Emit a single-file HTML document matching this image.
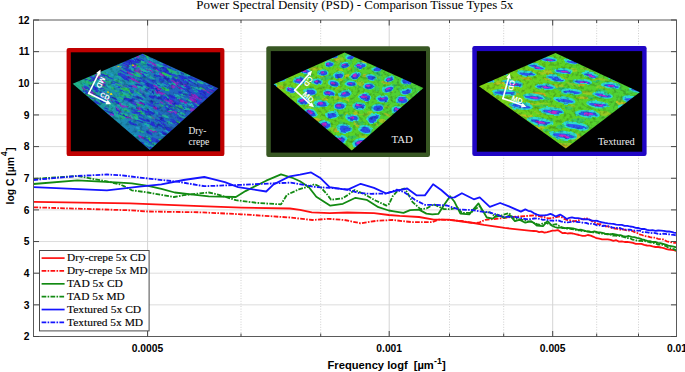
<!DOCTYPE html>
<html><head><meta charset="utf-8"><title>PSD</title>
<style>
html,body{margin:0;padding:0;background:#fff;}
body{width:685px;height:372px;overflow:hidden;}
svg{display:block;}
.sb{font-family:"Liberation Sans",sans-serif;font-weight:bold;fill:#000;}
.sf{font-family:"Liberation Serif",serif;fill:#000;}
</style></head><body>
<svg width="685" height="372" viewBox="0 0 685 372">
<defs>
<filter id="bl" x="-2%" y="-2%" width="104%" height="104%" color-interpolation-filters="sRGB"><feTurbulence type="fractalNoise" baseFrequency="0.11" numOctaves="2" seed="2" result="t"/><feDisplacementMap in="SourceGraphic" in2="t" scale="3.2" xChannelSelector="R" yChannelSelector="G" result="d"/><feGaussianBlur in="d" stdDeviation="0.5" result="b"/><feTurbulence type="fractalNoise" baseFrequency="0.3" numOctaves="2" seed="7" result="n"/><feColorMatrix in="n" type="matrix" values="0.7 0 0 0 0.62  0.7 0 0 0 0.62  0.7 0 0 0 0.62  0 0 0 0 1" result="n2"/><feBlend in="b" in2="n2" mode="multiply"/></filter>
<clipPath id="c1"><polygon points="72.7,83.7 142.8,53.8 218.4,88.3 149.8,150.0"/></clipPath>
<clipPath id="c2"><polygon points="273.6,84.2 344.6,52.4 423.4,88.0 351.8,150.6"/></clipPath>
<clipPath id="c3"><polygon points="479.0,86.2 555.5,53.0 639.8,92.3 565.8,148.6"/></clipPath>
<linearGradient id="g1" x1="0" y1="0" x2="1" y2="0"><stop offset="0" stop-color="#22c07c"/><stop offset="0.4" stop-color="#1c88b8"/><stop offset="1" stop-color="#2440cc"/></linearGradient>
<linearGradient id="g2" x1="0" y1="0" x2="1" y2="0"><stop offset="0" stop-color="#7cd418"/><stop offset="0.5" stop-color="#58d428"/><stop offset="1" stop-color="#48d03c"/></linearGradient>
<linearGradient id="g3" x1="0" y1="0" x2="1" y2="0"><stop offset="0" stop-color="#84d414"/><stop offset="0.5" stop-color="#5cd424"/><stop offset="1" stop-color="#48d03c"/></linearGradient>
</defs>
<rect width="685" height="372" fill="#fff"/>
<line x1="33.5" y1="304.85" x2="676.5" y2="304.85" stroke="#dcdcdc" stroke-width="1"/>
<line x1="33.5" y1="273.20" x2="676.5" y2="273.20" stroke="#dcdcdc" stroke-width="1"/>
<line x1="33.5" y1="241.55" x2="676.5" y2="241.55" stroke="#dcdcdc" stroke-width="1"/>
<line x1="33.5" y1="209.90" x2="676.5" y2="209.90" stroke="#dcdcdc" stroke-width="1"/>
<line x1="33.5" y1="178.25" x2="676.5" y2="178.25" stroke="#dcdcdc" stroke-width="1"/>
<line x1="33.5" y1="146.60" x2="676.5" y2="146.60" stroke="#dcdcdc" stroke-width="1"/>
<line x1="33.5" y1="114.95" x2="676.5" y2="114.95" stroke="#dcdcdc" stroke-width="1"/>
<line x1="33.5" y1="83.30" x2="676.5" y2="83.30" stroke="#dcdcdc" stroke-width="1"/>
<line x1="33.5" y1="51.65" x2="676.5" y2="51.65" stroke="#dcdcdc" stroke-width="1"/>
<line x1="147.60" y1="20.0" x2="147.60" y2="336.5" stroke="#d4d4d4" stroke-width="1"/>
<line x1="389.20" y1="20.0" x2="389.20" y2="336.5" stroke="#d4d4d4" stroke-width="1"/>
<line x1="552.70" y1="20.0" x2="552.70" y2="336.5" stroke="#d4d4d4" stroke-width="1"/>
<line x1="241.00" y1="20.0" x2="241.00" y2="336.5" stroke="#cfcfcf" stroke-width="1" stroke-dasharray="1 1.6"/>
<line x1="320.70" y1="20.0" x2="320.70" y2="336.5" stroke="#cfcfcf" stroke-width="1" stroke-dasharray="1 1.6"/>
<line x1="449.50" y1="20.0" x2="449.50" y2="336.5" stroke="#cfcfcf" stroke-width="1" stroke-dasharray="1 1.6"/>
<line x1="503.70" y1="20.0" x2="503.70" y2="336.5" stroke="#cfcfcf" stroke-width="1" stroke-dasharray="1 1.6"/>
<line x1="596.70" y1="20.0" x2="596.70" y2="336.5" stroke="#cfcfcf" stroke-width="1" stroke-dasharray="1 1.6"/>
<line x1="638.50" y1="20.0" x2="638.50" y2="336.5" stroke="#cfcfcf" stroke-width="1" stroke-dasharray="1 1.6"/>
<g fill="none" stroke-width="1.8" stroke-linejoin="round" stroke-linecap="butt">
<path d="M33.5 201.9 L130.0 203.3 L200.0 206.2 L241.7 207.6 L289.9 208.5 L300.0 209.8 L311.8 212.4 L329.6 213.2 L347.3 212.5 L374.0 213.2 L388.8 215.0 L399.8 215.9 L419.0 217.0 L433.8 219.6 L448.6 219.6 L461.9 221.5 L473.8 223.0 L483.9 224.9 L504.6 227.9 L531.2 230.9 L533.9 231.0 L536.5 231.2 L539.2 232.1 L541.8 231.7 L544.5 232.6 L547.2 232.1 L549.8 231.4 L552.5 230.6 L555.1 230.6 L557.8 230.1 L562.3 233.1 L564.9 232.8 L567.6 233.5 L570.2 233.2 L572.9 233.5 L575.5 234.2 L579.0 235.0 L582.5 235.9 L585.1 235.8 L587.8 235.0 L590.7 235.6 L593.6 236.8 L596.5 238.2 L599.3 238.7 L602.1 239.4 L605.0 239.3 L607.8 239.4 L610.6 239.9 L613.4 240.9 L616.2 240.2 L619.0 241.6 L621.8 241.3 L624.6 242.0 L627.4 241.9 L630.2 242.3 L633.0 242.9 L635.8 243.8 L638.6 243.8 L641.4 243.9 L644.2 244.9 L647.0 245.5 L649.8 245.7 L652.6 246.4 L655.4 247.0 L658.2 247.0 L661.0 247.5 L663.8 248.2 L666.6 249.1 L669.0 249.7 L671.4 249.9 L673.8 250.2 L676.2 250.8" stroke="#ff1010"/>
<path d="M33.5 207.3 L130.0 210.3 L148.0 211.5 L200.0 212.3 L241.7 214.3 L289.9 217.5 L312.4 220.0 L328.5 218.8 L344.5 220.0 L360.6 223.3 L376.6 220.8 L392.7 220.0 L411.6 222.1 L432.3 222.1 L438.3 219.6 L448.6 220.0 L461.9 221.0 L473.8 223.2 L479.7 222.3 L485.4 219.8 L501.6 218.3 L513.5 216.8 L525.3 216.1 L534.2 215.3 L536.7 215.9 L539.1 216.2 L541.6 216.8 L544.1 217.1 L546.5 218.2 L549.0 218.3 L552.0 218.1 L554.9 217.5 L559.3 216.4 L561.8 217.2 L564.2 218.8 L566.7 219.8 L569.6 220.2 L572.6 221.1 L575.5 221.0 L578.1 220.5 L580.8 219.2 L583.4 219.3 L586.0 218.0 L589.5 219.5 L593.0 221.9 L595.5 222.7 L597.9 224.0 L600.4 224.1 L602.8 225.4 L605.3 226.3 L607.8 226.3 L610.2 227.5 L612.7 228.2 L615.1 228.5 L617.6 228.9 L620.4 229.7 L623.2 229.4 L626.0 230.2 L628.8 230.5 L631.6 230.7 L634.2 231.9 L636.9 232.8 L639.5 234.3 L642.1 235.0 L644.7 236.2 L647.4 236.3 L650.0 237.2 L652.6 237.7 L655.2 237.6 L657.9 238.8 L660.5 239.2 L663.1 239.4 L666.6 241.3 L670.1 242.0 L673.2 242.8 L676.2 242.9" stroke="#ff1010" stroke-dasharray="4.7 1.3 1.6 1.3"/>
<path d="M33.5 184.0 L77.3 180.3 L120.0 182.6 L131.8 183.4 L148.1 185.9 L161.4 188.8 L174.7 192.5 L191.0 194.3 L208.8 196.4 L220.0 196.6 L235.9 197.0 L245.5 191.1 L266.2 180.7 L281.0 174.3 L292.8 178.0 L300.0 181.3 L308.9 187.2 L316.3 196.8 L330.3 205.7 L342.9 203.8 L355.5 197.8 L366.6 199.8 L378.4 207.2 L388.8 210.5 L393.9 211.4 L403.5 212.9 L410.1 210.2 L419.0 209.6 L426.4 213.6 L432.3 214.4 L438.3 213.9 L444.2 204.8 L450.1 196.2 L454.5 201.8 L460.4 213.6 L469.3 214.4 L473.8 208.8 L478.5 203.4 L482.4 210.1 L486.8 217.5 L492.8 218.7 L497.2 214.6 L504.6 217.8 L509.8 215.3 L514.9 221.2 L519.4 219.8 L525.3 222.7 L531.2 221.2 L534.2 223.2 L537.1 225.7 L540.0 225.8 L543.0 226.1 L547.5 221.2 L551.9 225.7 L554.8 227.0 L557.8 227.9 L560.2 227.4 L562.6 228.1 L565.0 228.2 L567.6 228.0 L570.2 228.1 L572.9 228.3 L575.5 229.0 L578.1 229.9 L580.8 229.7 L583.4 230.3 L586.0 231.2 L588.8 231.3 L591.6 232.1 L594.4 231.4 L597.2 232.1 L600.0 232.4 L602.5 232.8 L605.0 233.6 L607.5 233.9 L610.1 234.3 L612.6 234.0 L615.1 234.5 L617.6 235.0 L620.4 235.2 L623.2 236.2 L626.0 236.6 L628.8 236.0 L631.6 236.8 L634.2 237.1 L636.9 237.8 L639.5 238.4 L642.1 239.4 L644.7 240.0 L647.4 240.8 L650.0 241.1 L652.6 242.0 L655.2 241.9 L657.9 242.8 L660.5 243.2 L663.1 243.8 L665.7 244.6 L668.3 245.7 L671.0 246.1 L673.6 246.6 L676.2 247.3" stroke="#128a12"/>
<path d="M33.5 178.9 L77.3 176.0 L106.9 181.4 L120.0 184.4 L124.4 186.3 L131.8 190.3 L148.1 192.5 L161.4 194.8 L174.0 197.0 L183.6 195.2 L196.9 193.7 L208.8 192.5 L218.9 194.8 L235.9 200.2 L257.3 202.9 L281.0 204.4 L286.9 194.8 L298.8 189.4 L307.4 186.9 L314.8 184.2 L320.7 187.2 L326.6 193.8 L331.1 199.8 L342.9 198.3 L354.7 190.1 L363.6 193.8 L375.4 200.5 L386.5 205.6 L389.0 204.0 L392.8 196.0 L397.0 191.5 L404.2 188.5 L407.2 192.2 L412.4 201.8 L420.5 209.2 L426.4 208.5 L433.8 204.3 L444.2 209.2 L450.1 209.2 L457.5 207.7 L461.9 212.9 L470.8 212.9 L475.2 209.0 L479.4 206.4 L483.9 212.4 L489.8 212.4 L495.7 216.8 L501.6 215.3 L509.0 213.1 L513.5 218.3 L522.3 219.8 L531.2 222.0 L534.2 223.1 L537.1 224.1 L540.1 224.9 L543.0 223.3 L546.0 222.7 L549.0 224.3 L551.9 224.9 L556.4 224.2 L558.9 225.8 L561.3 227.1 L563.8 227.9 L566.5 228.7 L569.1 228.7 L571.8 229.2 L574.5 229.3 L577.2 230.4 L579.8 230.2 L582.5 231.2 L585.0 231.0 L587.5 231.5 L590.0 231.8 L592.5 232.4 L595.0 232.4 L597.5 232.7 L600.0 233.6 L602.5 233.5 L605.0 233.8 L607.5 234.4 L610.1 234.3 L612.6 235.7 L615.1 235.7 L617.6 235.9 L620.1 236.0 L622.6 236.7 L625.1 237.4 L627.6 238.0 L630.1 238.3 L632.6 239.7 L635.1 239.9 L637.6 240.9 L640.1 240.7 L642.6 241.2 L645.1 241.1 L647.6 241.6 L650.1 242.3 L652.6 242.9 L655.4 243.3 L658.2 244.7 L661.0 244.6 L663.8 245.1 L666.6 246.4 L669.0 248.0 L671.4 248.5 L673.8 249.1 L676.2 250.5" stroke="#128a12" stroke-dasharray="4.7 1.3 1.6 1.3"/>
<path d="M33.5 187.1 L106.9 190.3 L120.0 188.8 L139.2 186.6 L161.4 184.4 L183.6 180.0 L204.3 177.0 L212.0 178.8 L224.8 182.2 L238.1 187.1 L266.2 191.5 L273.6 184.4 L289.9 176.3 L300.0 174.6 L311.1 172.4 L320.7 178.3 L329.6 187.2 L347.3 189.9 L360.7 183.8 L374.0 187.9 L385.8 193.3 L396.8 190.7 L407.2 188.5 L416.8 195.4 L424.9 195.4 L433.1 184.3 L441.2 190.0 L450.1 197.7 L454.5 197.4 L461.9 193.2 L473.8 199.3 L479.7 197.3 L489.8 206.9 L500.1 203.0 L509.0 206.4 L520.9 211.6 L525.3 209.4 L528.2 210.8 L531.2 211.4 L534.1 213.3 L537.1 214.6 L539.6 215.4 L542.0 215.5 L544.5 215.3 L547.5 214.8 L550.4 213.8 L553.0 214.9 L555.6 216.5 L560.1 214.6 L563.4 216.6 L566.7 219.0 L569.4 217.8 L572.0 217.4 L574.9 218.1 L577.9 218.2 L580.8 218.6 L583.4 219.3 L586.0 219.1 L588.6 219.3 L591.3 220.4 L593.9 220.9 L596.5 220.7 L599.3 221.7 L602.1 222.3 L605.0 222.9 L607.8 223.4 L610.6 223.7 L613.4 223.8 L616.2 224.6 L619.0 224.8 L621.8 224.9 L624.6 225.9 L627.4 225.8 L630.2 226.5 L633.0 226.9 L635.8 227.8 L638.6 228.0 L641.4 229.0 L644.2 228.8 L647.0 229.8 L649.8 230.3 L652.6 230.1 L655.4 230.9 L658.2 230.5 L661.0 230.6 L663.8 230.9 L666.6 231.5 L669.0 231.5 L671.4 231.8 L673.8 232.7 L676.2 232.9" stroke="#1414ff"/>
<path d="M33.5 180.0 L77.3 176.0 L106.9 174.5 L120.0 175.2 L148.1 178.5 L179.2 181.9 L204.3 186.2 L220.0 185.6 L239.6 184.9 L273.6 183.4 L290.6 182.6 L298.8 184.0 L314.8 186.9 L329.6 187.9 L347.3 189.4 L359.2 193.1 L371.0 193.8 L385.8 193.6 L391.7 191.6 L396.8 189.7 L404.2 192.2 L414.6 199.6 L424.9 204.8 L433.8 204.8 L447.1 205.5 L459.0 209.6 L470.8 209.9 L479.7 211.4 L489.8 212.4 L503.1 216.8 L514.9 216.8 L525.3 219.0 L528.2 219.3 L531.2 219.1 L534.1 218.5 L537.1 218.3 L540.1 219.0 L543.0 219.8 L546.0 219.5 L549.0 220.5 L551.9 220.6 L554.9 220.8 L557.8 220.2 L560.8 221.3 L563.7 222.0 L566.7 222.5 L569.6 222.2 L572.6 221.5 L575.5 221.6 L578.1 222.2 L580.8 222.0 L583.4 222.9 L586.0 222.8 L588.8 223.9 L591.6 223.7 L594.4 224.2 L597.2 225.4 L600.0 225.4 L602.5 226.0 L605.0 225.7 L607.5 226.1 L610.1 226.5 L612.6 227.7 L615.1 228.0 L617.6 228.0 L620.1 228.0 L622.6 229.2 L625.1 229.7 L627.6 229.7 L630.1 229.7 L632.6 230.4 L635.1 230.7 L637.6 230.6 L640.1 230.7 L642.6 232.2 L645.1 232.1 L647.6 232.3 L650.1 233.1 L652.6 232.9 L655.4 233.1 L658.2 233.9 L661.0 234.1 L663.8 233.6 L666.6 234.2 L669.0 234.3 L671.4 234.7 L673.8 234.9 L676.2 235.6" stroke="#1414ff" stroke-dasharray="4.7 1.3 1.6 1.3"/>
</g>
<rect x="33.5" y="20.0" width="643.0" height="316.5" fill="none" stroke="#5a5a5a" stroke-width="1"/>
<line x1="33.5" y1="336.50" x2="39.0" y2="336.50" stroke="#444" stroke-width="1"/>
<line x1="671.0" y1="336.50" x2="676.5" y2="336.50" stroke="#444" stroke-width="1"/>
<line x1="33.5" y1="304.85" x2="39.0" y2="304.85" stroke="#444" stroke-width="1"/>
<line x1="671.0" y1="304.85" x2="676.5" y2="304.85" stroke="#444" stroke-width="1"/>
<line x1="33.5" y1="273.20" x2="39.0" y2="273.20" stroke="#444" stroke-width="1"/>
<line x1="671.0" y1="273.20" x2="676.5" y2="273.20" stroke="#444" stroke-width="1"/>
<line x1="33.5" y1="241.55" x2="39.0" y2="241.55" stroke="#444" stroke-width="1"/>
<line x1="671.0" y1="241.55" x2="676.5" y2="241.55" stroke="#444" stroke-width="1"/>
<line x1="33.5" y1="209.90" x2="39.0" y2="209.90" stroke="#444" stroke-width="1"/>
<line x1="671.0" y1="209.90" x2="676.5" y2="209.90" stroke="#444" stroke-width="1"/>
<line x1="33.5" y1="178.25" x2="39.0" y2="178.25" stroke="#444" stroke-width="1"/>
<line x1="671.0" y1="178.25" x2="676.5" y2="178.25" stroke="#444" stroke-width="1"/>
<line x1="33.5" y1="146.60" x2="39.0" y2="146.60" stroke="#444" stroke-width="1"/>
<line x1="671.0" y1="146.60" x2="676.5" y2="146.60" stroke="#444" stroke-width="1"/>
<line x1="33.5" y1="114.95" x2="39.0" y2="114.95" stroke="#444" stroke-width="1"/>
<line x1="671.0" y1="114.95" x2="676.5" y2="114.95" stroke="#444" stroke-width="1"/>
<line x1="33.5" y1="83.30" x2="39.0" y2="83.30" stroke="#444" stroke-width="1"/>
<line x1="671.0" y1="83.30" x2="676.5" y2="83.30" stroke="#444" stroke-width="1"/>
<line x1="33.5" y1="51.65" x2="39.0" y2="51.65" stroke="#444" stroke-width="1"/>
<line x1="671.0" y1="51.65" x2="676.5" y2="51.65" stroke="#444" stroke-width="1"/>
<line x1="33.5" y1="20.00" x2="39.0" y2="20.00" stroke="#444" stroke-width="1"/>
<line x1="671.0" y1="20.00" x2="676.5" y2="20.00" stroke="#444" stroke-width="1"/>
<line x1="147.60" y1="331.0" x2="147.60" y2="336.5" stroke="#444" stroke-width="1"/>
<line x1="147.60" y1="20.0" x2="147.60" y2="25.5" stroke="#444" stroke-width="1"/>
<line x1="389.20" y1="331.0" x2="389.20" y2="336.5" stroke="#444" stroke-width="1"/>
<line x1="389.20" y1="20.0" x2="389.20" y2="25.5" stroke="#444" stroke-width="1"/>
<line x1="552.70" y1="331.0" x2="552.70" y2="336.5" stroke="#444" stroke-width="1"/>
<line x1="552.70" y1="20.0" x2="552.70" y2="25.5" stroke="#444" stroke-width="1"/>
<line x1="241.00" y1="333.5" x2="241.00" y2="336.5" stroke="#444" stroke-width="1"/>
<line x1="241.00" y1="20.0" x2="241.00" y2="23.0" stroke="#444" stroke-width="1"/>
<line x1="320.70" y1="333.5" x2="320.70" y2="336.5" stroke="#444" stroke-width="1"/>
<line x1="320.70" y1="20.0" x2="320.70" y2="23.0" stroke="#444" stroke-width="1"/>
<line x1="449.50" y1="333.5" x2="449.50" y2="336.5" stroke="#444" stroke-width="1"/>
<line x1="449.50" y1="20.0" x2="449.50" y2="23.0" stroke="#444" stroke-width="1"/>
<line x1="503.70" y1="333.5" x2="503.70" y2="336.5" stroke="#444" stroke-width="1"/>
<line x1="503.70" y1="20.0" x2="503.70" y2="23.0" stroke="#444" stroke-width="1"/>
<line x1="596.70" y1="333.5" x2="596.70" y2="336.5" stroke="#444" stroke-width="1"/>
<line x1="596.70" y1="20.0" x2="596.70" y2="23.0" stroke="#444" stroke-width="1"/>
<line x1="638.50" y1="333.5" x2="638.50" y2="336.5" stroke="#444" stroke-width="1"/>
<line x1="638.50" y1="20.0" x2="638.50" y2="23.0" stroke="#444" stroke-width="1"/>
<text class="sb" x="29.6" y="340.2" font-size="10.3" text-anchor="end">2</text>
<text class="sb" x="29.6" y="308.6" font-size="10.3" text-anchor="end">3</text>
<text class="sb" x="29.6" y="276.9" font-size="10.3" text-anchor="end">4</text>
<text class="sb" x="29.6" y="245.2" font-size="10.3" text-anchor="end">5</text>
<text class="sb" x="29.6" y="213.6" font-size="10.3" text-anchor="end">6</text>
<text class="sb" x="29.6" y="181.9" font-size="10.3" text-anchor="end">7</text>
<text class="sb" x="29.6" y="150.3" font-size="10.3" text-anchor="end">8</text>
<text class="sb" x="29.6" y="118.7" font-size="10.3" text-anchor="end">9</text>
<text class="sb" x="29.6" y="87.0" font-size="10.3" text-anchor="end">10</text>
<text class="sb" x="29.6" y="55.4" font-size="10.3" text-anchor="end">11</text>
<text class="sb" x="29.6" y="23.7" font-size="10.3" text-anchor="end">12</text>
<text class="sb" x="147.5" y="351.5" font-size="10.3" text-anchor="middle">0.0005</text>
<text class="sb" x="389.2" y="351.5" font-size="10.3" text-anchor="middle">0.001</text>
<text class="sb" x="552.7" y="351.5" font-size="10.3" text-anchor="middle">0.005</text>
<text class="sb" x="667" y="351.5" font-size="10.3">0.01</text>
<text class="sb" x="327.5" y="369" font-size="11.2">Frequency logf</text><text class="sb" x="413.7" y="369" font-size="11.2">[µm</text><text class="sb" x="434" y="364.4" font-size="8.8">-1</text><text class="sb" x="442.1" y="369" font-size="11.2">]</text>
<g transform="translate(13.5,204.4) rotate(-90)"><text class="sb" x="0" y="0" font-size="11.6" textLength="47.4" lengthAdjust="spacingAndGlyphs">log C [µm</text><text class="sb" x="48.4" y="-6.6" font-size="8.2">4</text><text class="sb" x="53.7" y="0" font-size="11.6" textLength="3.4" lengthAdjust="spacingAndGlyphs">]</text></g>
<text class="sf" x="354.8" y="8.9" font-size="12" text-anchor="middle" textLength="317" lengthAdjust="spacingAndGlyphs">Power Spectral Density (PSD) - Comparison Tissue Types 5x</text>
<rect x="66.6" y="47.9" width="157.8" height="108.2" rx="2.2" fill="#c00000"/>
<rect x="70.8" y="52.3" width="149.4" height="99.0" fill="#000"/>
<g clip-path="url(#c1)"><g filter="url(#bl)">
<polygon points="60,40 230,40 230,160 60,160" fill="url(#g1)"/>
<ellipse cx="146.4" cy="88.9" rx="3.7" ry="1.2" transform="rotate(22 146.4 88.9)" fill="#1fb8a0" opacity="0.96"/>
<ellipse cx="152.0" cy="87.6" rx="3.2" ry="0.7" transform="rotate(30 152.0 87.6)" fill="#2228cc" opacity="0.94"/>
<ellipse cx="144.7" cy="55.8" rx="4.3" ry="1.1" transform="rotate(21 144.7 55.8)" fill="#2a3ad8" opacity="0.81"/>
<ellipse cx="181.8" cy="107.3" rx="3.7" ry="1.1" transform="rotate(26 181.8 107.3)" fill="#22b890" opacity="0.93"/>
<ellipse cx="157.2" cy="86.5" rx="3.5" ry="1.0" transform="rotate(31 157.2 86.5)" fill="#1cb0b0" opacity="0.82"/>
<ellipse cx="145.1" cy="71.8" rx="2.4" ry="1.1" transform="rotate(25 145.1 71.8)" fill="#2626d8" opacity="0.97"/>
<ellipse cx="169.1" cy="68.9" rx="2.9" ry="1.2" transform="rotate(21 169.1 68.9)" fill="#22c070" opacity="0.88"/>
<ellipse cx="156.3" cy="108.7" rx="4.8" ry="0.8" transform="rotate(21 156.3 108.7)" fill="#2a3ad8" opacity="0.87"/>
<ellipse cx="199.1" cy="101.7" rx="4.5" ry="0.6" transform="rotate(26 199.1 101.7)" fill="#2a3ad8" opacity="0.90"/>
<ellipse cx="138.3" cy="119.2" rx="3.6" ry="0.8" transform="rotate(25 138.3 119.2)" fill="#1f9fc8" opacity="1.00"/>
<ellipse cx="133.3" cy="57.9" rx="5.5" ry="0.6" transform="rotate(22 133.3 57.9)" fill="#1f8fc8" opacity="1.00"/>
<ellipse cx="159.0" cy="95.3" rx="2.9" ry="0.8" transform="rotate(29 159.0 95.3)" fill="#1f9fc8" opacity="0.87"/>
<ellipse cx="100.7" cy="100.5" rx="4.3" ry="0.6" transform="rotate(24 100.7 100.5)" fill="#18a0b8" opacity="0.92"/>
<ellipse cx="123.6" cy="72.2" rx="5.1" ry="0.7" transform="rotate(22 123.6 72.2)" fill="#2a3ad8" opacity="0.98"/>
<ellipse cx="152.9" cy="124.0" rx="2.8" ry="1.2" transform="rotate(31 152.9 124.0)" fill="#2430d4" opacity="0.92"/>
<ellipse cx="112.4" cy="107.1" rx="3.0" ry="1.1" transform="rotate(23 112.4 107.1)" fill="#1cb0b0" opacity="0.96"/>
<ellipse cx="139.0" cy="108.9" rx="2.6" ry="0.9" transform="rotate(28 139.0 108.9)" fill="#9a20c8" opacity="0.92"/>
<ellipse cx="93.3" cy="81.8" rx="2.4" ry="0.9" transform="rotate(23 93.3 81.8)" fill="#22c070" opacity="0.81"/>
<ellipse cx="131.4" cy="81.8" rx="3.4" ry="1.2" transform="rotate(32 131.4 81.8)" fill="#1fb0a8" opacity="0.93"/>
<ellipse cx="166.4" cy="99.2" rx="5.2" ry="0.9" transform="rotate(24 166.4 99.2)" fill="#2626d8" opacity="0.86"/>
<ellipse cx="117.2" cy="67.4" rx="4.6" ry="0.8" transform="rotate(32 117.2 67.4)" fill="#9a20c8" opacity="0.82"/>
<ellipse cx="165.9" cy="85.1" rx="4.8" ry="1.2" transform="rotate(24 165.9 85.1)" fill="#2a3ad8" opacity="0.94"/>
<ellipse cx="202.0" cy="92.4" rx="5.0" ry="1.0" transform="rotate(27 202.0 92.4)" fill="#2626d8" opacity="0.88"/>
<ellipse cx="159.8" cy="92.8" rx="5.5" ry="1.2" transform="rotate(29 159.8 92.8)" fill="#9a20c8" opacity="0.88"/>
<ellipse cx="169.5" cy="101.5" rx="2.5" ry="1.1" transform="rotate(20 169.5 101.5)" fill="#2430d4" opacity="0.92"/>
<ellipse cx="125.8" cy="105.2" rx="4.8" ry="1.0" transform="rotate(26 125.8 105.2)" fill="#1fb8a0" opacity="0.98"/>
<ellipse cx="111.0" cy="102.1" rx="2.8" ry="1.2" transform="rotate(28 111.0 102.1)" fill="#2a40d0" opacity="0.89"/>
<ellipse cx="163.9" cy="123.8" rx="4.3" ry="1.1" transform="rotate(29 163.9 123.8)" fill="#2a3ad8" opacity="0.84"/>
<ellipse cx="104.5" cy="89.8" rx="2.6" ry="0.9" transform="rotate(30 104.5 89.8)" fill="#28c858" opacity="0.97"/>
<ellipse cx="193.1" cy="81.0" rx="2.6" ry="0.9" transform="rotate(31 193.1 81.0)" fill="#1f9fc8" opacity="0.97"/>
<ellipse cx="138.3" cy="87.2" rx="3.3" ry="1.1" transform="rotate(23 138.3 87.2)" fill="#1fb8a0" opacity="0.92"/>
<ellipse cx="144.4" cy="114.2" rx="2.3" ry="0.7" transform="rotate(25 144.4 114.2)" fill="#18a0b8" opacity="0.80"/>
<ellipse cx="153.0" cy="125.3" rx="5.4" ry="0.7" transform="rotate(21 153.0 125.3)" fill="#2626d8" opacity="0.91"/>
<ellipse cx="147.5" cy="107.6" rx="2.9" ry="0.9" transform="rotate(22 147.5 107.6)" fill="#2a3ad8" opacity="0.80"/>
<ellipse cx="158.7" cy="82.9" rx="4.8" ry="1.0" transform="rotate(31 158.7 82.9)" fill="#1cb0b0" opacity="0.90"/>
<ellipse cx="160.5" cy="140.0" rx="2.5" ry="1.2" transform="rotate(29 160.5 140.0)" fill="#28c858" opacity="0.83"/>
<ellipse cx="151.1" cy="86.0" rx="4.0" ry="1.0" transform="rotate(26 151.1 86.0)" fill="#2432d0" opacity="0.96"/>
<ellipse cx="121.9" cy="93.1" rx="4.6" ry="1.1" transform="rotate(28 121.9 93.1)" fill="#1fb0a8" opacity="0.94"/>
<ellipse cx="151.9" cy="64.8" rx="4.0" ry="1.1" transform="rotate(24 151.9 64.8)" fill="#1f8fc8" opacity="0.98"/>
<ellipse cx="162.7" cy="120.5" rx="3.3" ry="0.9" transform="rotate(23 162.7 120.5)" fill="#2228cc" opacity="0.98"/>
<ellipse cx="150.1" cy="66.2" rx="2.8" ry="0.8" transform="rotate(29 150.1 66.2)" fill="#2626d8" opacity="0.83"/>
<ellipse cx="120.3" cy="75.7" rx="5.3" ry="0.9" transform="rotate(31 120.3 75.7)" fill="#1fb8a0" opacity="0.82"/>
<ellipse cx="126.5" cy="78.9" rx="4.3" ry="0.9" transform="rotate(30 126.5 78.9)" fill="#2430d4" opacity="0.91"/>
<ellipse cx="123.3" cy="89.2" rx="3.2" ry="0.7" transform="rotate(27 123.3 89.2)" fill="#28c858" opacity="0.85"/>
<ellipse cx="139.6" cy="97.9" rx="4.2" ry="0.6" transform="rotate(32 139.6 97.9)" fill="#2626d8" opacity="0.90"/>
<ellipse cx="159.3" cy="76.1" rx="2.5" ry="0.7" transform="rotate(31 159.3 76.1)" fill="#2228cc" opacity="0.89"/>
<ellipse cx="198.7" cy="97.4" rx="3.8" ry="0.7" transform="rotate(25 198.7 97.4)" fill="#2a3ad8" opacity="0.96"/>
<ellipse cx="174.9" cy="115.5" rx="3.6" ry="0.6" transform="rotate(23 174.9 115.5)" fill="#2a3ad8" opacity="0.94"/>
<ellipse cx="150.5" cy="146.3" rx="4.5" ry="0.8" transform="rotate(24 150.5 146.3)" fill="#2626d8" opacity="0.92"/>
<ellipse cx="131.9" cy="66.4" rx="4.3" ry="1.1" transform="rotate(28 131.9 66.4)" fill="#2430d4" opacity="0.98"/>
<ellipse cx="118.8" cy="65.8" rx="4.0" ry="1.2" transform="rotate(26 118.8 65.8)" fill="#2a3ad8" opacity="0.84"/>
<ellipse cx="127.3" cy="78.1" rx="3.0" ry="1.1" transform="rotate(30 127.3 78.1)" fill="#2a3ad8" opacity="0.98"/>
<ellipse cx="119.0" cy="92.1" rx="4.8" ry="0.7" transform="rotate(21 119.0 92.1)" fill="#28c858" opacity="0.98"/>
<ellipse cx="89.1" cy="89.5" rx="4.9" ry="0.9" transform="rotate(29 89.1 89.5)" fill="#2432d0" opacity="0.83"/>
<ellipse cx="151.4" cy="81.1" rx="4.1" ry="0.8" transform="rotate(30 151.4 81.1)" fill="#2a3ad8" opacity="0.87"/>
<ellipse cx="170.9" cy="97.2" rx="4.8" ry="0.9" transform="rotate(20 170.9 97.2)" fill="#2a3ad8" opacity="0.95"/>
<ellipse cx="182.6" cy="79.6" rx="2.8" ry="0.7" transform="rotate(30 182.6 79.6)" fill="#2a3ad8" opacity="1.00"/>
<ellipse cx="150.7" cy="139.5" rx="2.5" ry="0.7" transform="rotate(25 150.7 139.5)" fill="#2228cc" opacity="0.89"/>
<ellipse cx="114.7" cy="98.6" rx="5.0" ry="0.7" transform="rotate(25 114.7 98.6)" fill="#2626d8" opacity="0.95"/>
<ellipse cx="117.5" cy="102.2" rx="4.8" ry="0.8" transform="rotate(21 117.5 102.2)" fill="#2430d4" opacity="0.97"/>
<ellipse cx="202.7" cy="89.3" rx="3.9" ry="1.2" transform="rotate(30 202.7 89.3)" fill="#28c858" opacity="0.85"/>
<ellipse cx="194.1" cy="100.3" rx="2.6" ry="0.8" transform="rotate(26 194.1 100.3)" fill="#2038d0" opacity="0.87"/>
<ellipse cx="118.6" cy="104.4" rx="2.4" ry="0.8" transform="rotate(26 118.6 104.4)" fill="#1f9fc8" opacity="0.80"/>
<ellipse cx="144.6" cy="81.0" rx="3.1" ry="1.2" transform="rotate(24 144.6 81.0)" fill="#2a3ad8" opacity="0.84"/>
<ellipse cx="116.7" cy="102.8" rx="5.5" ry="1.0" transform="rotate(28 116.7 102.8)" fill="#2430d4" opacity="0.95"/>
<ellipse cx="149.8" cy="147.3" rx="3.0" ry="0.9" transform="rotate(21 149.8 147.3)" fill="#2a3ad8" opacity="0.84"/>
<ellipse cx="108.5" cy="104.5" rx="4.0" ry="0.9" transform="rotate(32 108.5 104.5)" fill="#22b890" opacity="0.91"/>
<ellipse cx="193.2" cy="110.4" rx="4.0" ry="1.0" transform="rotate(31 193.2 110.4)" fill="#9a20c8" opacity="0.88"/>
<ellipse cx="171.6" cy="122.9" rx="4.0" ry="1.0" transform="rotate(25 171.6 122.9)" fill="#1fb8a0" opacity="0.90"/>
<ellipse cx="122.4" cy="87.0" rx="3.1" ry="1.0" transform="rotate(27 122.4 87.0)" fill="#2430d4" opacity="0.86"/>
<ellipse cx="148.4" cy="115.6" rx="4.1" ry="1.0" transform="rotate(25 148.4 115.6)" fill="#2a3ad8" opacity="0.94"/>
<ellipse cx="98.8" cy="77.2" rx="2.4" ry="1.2" transform="rotate(25 98.8 77.2)" fill="#9020c0" opacity="0.90"/>
<ellipse cx="164.5" cy="133.4" rx="2.7" ry="1.2" transform="rotate(23 164.5 133.4)" fill="#2228cc" opacity="0.94"/>
<ellipse cx="105.8" cy="73.9" rx="3.4" ry="0.7" transform="rotate(24 105.8 73.9)" fill="#2626d8" opacity="0.83"/>
<ellipse cx="146.6" cy="85.4" rx="3.4" ry="1.1" transform="rotate(30 146.6 85.4)" fill="#2432d0" opacity="0.83"/>
<ellipse cx="104.0" cy="97.9" rx="5.1" ry="1.1" transform="rotate(27 104.0 97.9)" fill="#2a40d0" opacity="0.87"/>
<ellipse cx="141.4" cy="75.3" rx="2.8" ry="0.8" transform="rotate(23 141.4 75.3)" fill="#18a0b8" opacity="0.99"/>
<ellipse cx="156.7" cy="87.0" rx="4.3" ry="0.6" transform="rotate(23 156.7 87.0)" fill="#2626d8" opacity="0.81"/>
<ellipse cx="91.2" cy="79.3" rx="5.2" ry="0.7" transform="rotate(23 91.2 79.3)" fill="#9a20c8" opacity="1.00"/>
<ellipse cx="134.6" cy="99.8" rx="4.7" ry="1.1" transform="rotate(21 134.6 99.8)" fill="#2228cc" opacity="0.82"/>
<ellipse cx="178.1" cy="102.6" rx="3.7" ry="1.1" transform="rotate(25 178.1 102.6)" fill="#2a3ad8" opacity="0.83"/>
<ellipse cx="143.0" cy="64.8" rx="4.0" ry="1.1" transform="rotate(31 143.0 64.8)" fill="#1cb0b0" opacity="0.89"/>
<ellipse cx="107.9" cy="104.1" rx="4.0" ry="0.9" transform="rotate(27 107.9 104.1)" fill="#1fb0a8" opacity="0.96"/>
<ellipse cx="165.6" cy="77.7" rx="2.9" ry="1.0" transform="rotate(21 165.6 77.7)" fill="#1cb0b0" opacity="0.86"/>
<ellipse cx="176.5" cy="95.0" rx="2.9" ry="1.0" transform="rotate(24 176.5 95.0)" fill="#1f9fc8" opacity="0.98"/>
<ellipse cx="128.3" cy="87.4" rx="3.6" ry="1.1" transform="rotate(24 128.3 87.4)" fill="#1f8fc8" opacity="0.86"/>
<ellipse cx="168.5" cy="70.4" rx="2.5" ry="1.1" transform="rotate(20 168.5 70.4)" fill="#28c858" opacity="0.94"/>
<ellipse cx="172.9" cy="83.9" rx="4.8" ry="1.0" transform="rotate(30 172.9 83.9)" fill="#22b890" opacity="0.91"/>
<ellipse cx="139.3" cy="68.5" rx="4.9" ry="0.7" transform="rotate(21 139.3 68.5)" fill="#1f8fc8" opacity="0.83"/>
<ellipse cx="97.1" cy="102.4" rx="2.4" ry="1.0" transform="rotate(29 97.1 102.4)" fill="#2432d0" opacity="0.82"/>
<ellipse cx="130.6" cy="65.2" rx="2.3" ry="1.0" transform="rotate(21 130.6 65.2)" fill="#1fb0a8" opacity="0.96"/>
<ellipse cx="154.7" cy="80.8" rx="3.3" ry="0.9" transform="rotate(24 154.7 80.8)" fill="#2430d4" opacity="0.96"/>
<ellipse cx="107.9" cy="100.2" rx="4.5" ry="1.2" transform="rotate(25 107.9 100.2)" fill="#1fb0a8" opacity="0.97"/>
<ellipse cx="183.1" cy="84.3" rx="5.1" ry="1.2" transform="rotate(28 183.1 84.3)" fill="#9a20c8" opacity="0.90"/>
<ellipse cx="182.8" cy="88.7" rx="5.2" ry="0.8" transform="rotate(22 182.8 88.7)" fill="#2038d0" opacity="0.93"/>
<ellipse cx="147.6" cy="112.5" rx="3.2" ry="1.2" transform="rotate(21 147.6 112.5)" fill="#2430d4" opacity="0.86"/>
<ellipse cx="126.9" cy="69.6" rx="5.2" ry="1.1" transform="rotate(20 126.9 69.6)" fill="#2a3ad8" opacity="0.90"/>
<ellipse cx="155.9" cy="119.5" rx="2.9" ry="0.8" transform="rotate(29 155.9 119.5)" fill="#22b890" opacity="0.92"/>
<ellipse cx="102.9" cy="91.7" rx="5.2" ry="1.2" transform="rotate(28 102.9 91.7)" fill="#1f9fc8" opacity="0.99"/>
<ellipse cx="174.3" cy="79.7" rx="5.2" ry="0.8" transform="rotate(27 174.3 79.7)" fill="#2038d0" opacity="0.99"/>
<ellipse cx="125.2" cy="105.7" rx="4.8" ry="0.9" transform="rotate(26 125.2 105.7)" fill="#1f9fc8" opacity="0.90"/>
<ellipse cx="162.9" cy="63.6" rx="5.1" ry="1.2" transform="rotate(31 162.9 63.6)" fill="#2a3ad8" opacity="0.89"/>
<ellipse cx="121.1" cy="84.1" rx="2.7" ry="0.8" transform="rotate(23 121.1 84.1)" fill="#2432d0" opacity="0.97"/>
<ellipse cx="156.7" cy="88.4" rx="3.9" ry="0.6" transform="rotate(27 156.7 88.4)" fill="#1f8fc8" opacity="0.84"/>
<ellipse cx="152.4" cy="63.9" rx="2.5" ry="0.8" transform="rotate(29 152.4 63.9)" fill="#1f9fc8" opacity="0.82"/>
<ellipse cx="142.2" cy="94.4" rx="5.0" ry="0.8" transform="rotate(29 142.2 94.4)" fill="#2a40d0" opacity="0.88"/>
<ellipse cx="149.6" cy="139.1" rx="2.3" ry="0.9" transform="rotate(26 149.6 139.1)" fill="#28c858" opacity="0.99"/>
<ellipse cx="168.7" cy="128.5" rx="3.2" ry="0.9" transform="rotate(29 168.7 128.5)" fill="#2430d4" opacity="0.87"/>
<ellipse cx="133.0" cy="123.8" rx="4.7" ry="1.1" transform="rotate(21 133.0 123.8)" fill="#2228cc" opacity="0.89"/>
<ellipse cx="188.3" cy="100.1" rx="4.1" ry="0.9" transform="rotate(20 188.3 100.1)" fill="#1cb0b0" opacity="1.00"/>
<ellipse cx="148.6" cy="125.3" rx="4.3" ry="1.2" transform="rotate(29 148.6 125.3)" fill="#1cb0b0" opacity="0.99"/>
<ellipse cx="169.2" cy="103.8" rx="2.9" ry="1.1" transform="rotate(24 169.2 103.8)" fill="#2a3ad8" opacity="0.99"/>
<ellipse cx="166.2" cy="86.4" rx="2.5" ry="0.7" transform="rotate(21 166.2 86.4)" fill="#2038d0" opacity="0.94"/>
<ellipse cx="139.7" cy="121.2" rx="4.2" ry="0.7" transform="rotate(23 139.7 121.2)" fill="#2228cc" opacity="0.83"/>
<ellipse cx="110.7" cy="78.2" rx="5.3" ry="0.7" transform="rotate(22 110.7 78.2)" fill="#2038d0" opacity="0.83"/>
<ellipse cx="159.3" cy="104.5" rx="4.6" ry="1.0" transform="rotate(24 159.3 104.5)" fill="#22c070" opacity="0.96"/>
<ellipse cx="160.3" cy="62.8" rx="3.3" ry="0.8" transform="rotate(28 160.3 62.8)" fill="#1cb0b0" opacity="0.82"/>
<ellipse cx="137.2" cy="87.4" rx="4.2" ry="0.7" transform="rotate(29 137.2 87.4)" fill="#1fb0a8" opacity="0.98"/>
<ellipse cx="139.4" cy="103.4" rx="4.1" ry="0.7" transform="rotate(31 139.4 103.4)" fill="#1f9fc8" opacity="1.00"/>
<ellipse cx="191.8" cy="81.5" rx="4.3" ry="0.7" transform="rotate(21 191.8 81.5)" fill="#2626d8" opacity="0.85"/>
<ellipse cx="165.4" cy="88.3" rx="3.1" ry="1.2" transform="rotate(25 165.4 88.3)" fill="#22b890" opacity="0.95"/>
<ellipse cx="130.8" cy="78.2" rx="4.0" ry="0.8" transform="rotate(31 130.8 78.2)" fill="#9a20c8" opacity="1.00"/>
<ellipse cx="177.2" cy="104.3" rx="3.2" ry="1.2" transform="rotate(23 177.2 104.3)" fill="#2626d8" opacity="0.91"/>
<ellipse cx="149.5" cy="128.3" rx="3.7" ry="0.9" transform="rotate(29 149.5 128.3)" fill="#9a20c8" opacity="0.99"/>
<ellipse cx="159.2" cy="141.4" rx="4.2" ry="1.0" transform="rotate(29 159.2 141.4)" fill="#2432d0" opacity="0.83"/>
<ellipse cx="106.8" cy="109.6" rx="4.1" ry="0.7" transform="rotate(26 106.8 109.6)" fill="#1fb0a8" opacity="0.85"/>
<ellipse cx="139.5" cy="105.4" rx="4.6" ry="1.1" transform="rotate(25 139.5 105.4)" fill="#22c070" opacity="0.90"/>
<ellipse cx="104.8" cy="79.0" rx="4.7" ry="0.9" transform="rotate(32 104.8 79.0)" fill="#2432d0" opacity="0.97"/>
<ellipse cx="166.8" cy="117.0" rx="2.6" ry="1.2" transform="rotate(24 166.8 117.0)" fill="#18a0b8" opacity="0.90"/>
<ellipse cx="106.8" cy="110.5" rx="4.6" ry="1.2" transform="rotate(29 106.8 110.5)" fill="#1f8fc8" opacity="0.92"/>
<ellipse cx="151.7" cy="117.2" rx="3.0" ry="1.1" transform="rotate(23 151.7 117.2)" fill="#9a20c8" opacity="0.97"/>
<ellipse cx="180.3" cy="119.2" rx="4.0" ry="1.0" transform="rotate(31 180.3 119.2)" fill="#2a3ad8" opacity="0.98"/>
<ellipse cx="199.9" cy="104.9" rx="5.1" ry="0.9" transform="rotate(30 199.9 104.9)" fill="#22b890" opacity="0.84"/>
<ellipse cx="169.4" cy="102.8" rx="3.9" ry="0.7" transform="rotate(31 169.4 102.8)" fill="#1fb0a8" opacity="0.92"/>
<ellipse cx="128.2" cy="100.6" rx="3.3" ry="0.6" transform="rotate(31 128.2 100.6)" fill="#22c070" opacity="0.96"/>
<ellipse cx="128.1" cy="94.9" rx="3.2" ry="0.9" transform="rotate(24 128.1 94.9)" fill="#22c070" opacity="0.86"/>
<ellipse cx="138.0" cy="66.4" rx="2.9" ry="1.2" transform="rotate(28 138.0 66.4)" fill="#28c858" opacity="0.81"/>
<ellipse cx="156.9" cy="70.3" rx="2.8" ry="1.2" transform="rotate(32 156.9 70.3)" fill="#22c070" opacity="0.84"/>
<ellipse cx="134.7" cy="116.1" rx="4.3" ry="0.8" transform="rotate(30 134.7 116.1)" fill="#22c070" opacity="0.99"/>
<ellipse cx="123.1" cy="85.6" rx="4.5" ry="1.2" transform="rotate(25 123.1 85.6)" fill="#9020c0" opacity="0.82"/>
<ellipse cx="111.3" cy="87.1" rx="3.1" ry="1.1" transform="rotate(26 111.3 87.1)" fill="#28c858" opacity="0.86"/>
<ellipse cx="149.8" cy="70.8" rx="4.1" ry="0.7" transform="rotate(24 149.8 70.8)" fill="#9a20c8" opacity="0.99"/>
<ellipse cx="143.3" cy="113.8" rx="3.7" ry="0.6" transform="rotate(31 143.3 113.8)" fill="#1fb0a8" opacity="0.81"/>
<ellipse cx="143.1" cy="143.5" rx="3.0" ry="1.1" transform="rotate(21 143.1 143.5)" fill="#2430d4" opacity="0.86"/>
<ellipse cx="147.9" cy="120.5" rx="2.3" ry="1.1" transform="rotate(22 147.9 120.5)" fill="#2430d4" opacity="0.98"/>
<ellipse cx="184.0" cy="79.4" rx="5.3" ry="0.9" transform="rotate(22 184.0 79.4)" fill="#2626d8" opacity="0.91"/>
<ellipse cx="147.3" cy="108.3" rx="3.9" ry="0.9" transform="rotate(30 147.3 108.3)" fill="#22c070" opacity="0.94"/>
<ellipse cx="178.8" cy="74.0" rx="2.6" ry="0.9" transform="rotate(28 178.8 74.0)" fill="#1f9fc8" opacity="0.91"/>
<ellipse cx="142.4" cy="73.4" rx="3.8" ry="0.7" transform="rotate(27 142.4 73.4)" fill="#1f8fc8" opacity="0.90"/>
<ellipse cx="117.2" cy="67.5" rx="5.1" ry="0.7" transform="rotate(22 117.2 67.5)" fill="#1fb8a0" opacity="0.80"/>
<ellipse cx="141.1" cy="96.7" rx="5.0" ry="0.6" transform="rotate(21 141.1 96.7)" fill="#1cb0b0" opacity="0.84"/>
<ellipse cx="162.1" cy="97.0" rx="2.4" ry="0.9" transform="rotate(28 162.1 97.0)" fill="#2a3ad8" opacity="0.96"/>
<ellipse cx="183.5" cy="91.0" rx="2.5" ry="1.1" transform="rotate(22 183.5 91.0)" fill="#2228cc" opacity="0.85"/>
<ellipse cx="133.3" cy="70.1" rx="2.4" ry="0.9" transform="rotate(24 133.3 70.1)" fill="#1fb8a0" opacity="0.84"/>
<ellipse cx="150.4" cy="145.5" rx="5.5" ry="0.7" transform="rotate(25 150.4 145.5)" fill="#18a0b8" opacity="0.95"/>
<ellipse cx="92.6" cy="78.8" rx="2.5" ry="1.0" transform="rotate(26 92.6 78.8)" fill="#2a3ad8" opacity="0.99"/>
<ellipse cx="194.3" cy="106.8" rx="3.0" ry="0.8" transform="rotate(27 194.3 106.8)" fill="#18a0b8" opacity="0.85"/>
<ellipse cx="173.0" cy="72.7" rx="5.3" ry="1.2" transform="rotate(23 173.0 72.7)" fill="#22b890" opacity="0.83"/>
<ellipse cx="186.7" cy="74.2" rx="4.5" ry="1.2" transform="rotate(27 186.7 74.2)" fill="#18a0b8" opacity="0.98"/>
<ellipse cx="135.6" cy="96.8" rx="3.4" ry="0.6" transform="rotate(25 135.6 96.8)" fill="#2432d0" opacity="0.85"/>
<ellipse cx="189.3" cy="92.0" rx="2.9" ry="0.9" transform="rotate(24 189.3 92.0)" fill="#2038d0" opacity="0.89"/>
<ellipse cx="195.9" cy="107.8" rx="4.0" ry="0.9" transform="rotate(21 195.9 107.8)" fill="#2a3ad8" opacity="0.86"/>
<ellipse cx="188.5" cy="109.3" rx="3.9" ry="1.0" transform="rotate(28 188.5 109.3)" fill="#1cb0b0" opacity="0.84"/>
<ellipse cx="84.7" cy="88.7" rx="2.7" ry="0.8" transform="rotate(30 84.7 88.7)" fill="#9020c0" opacity="0.82"/>
<ellipse cx="207.2" cy="98.2" rx="3.3" ry="1.1" transform="rotate(26 207.2 98.2)" fill="#2038d0" opacity="0.81"/>
<ellipse cx="119.6" cy="99.7" rx="3.9" ry="0.7" transform="rotate(23 119.6 99.7)" fill="#1f9fc8" opacity="0.88"/>
<ellipse cx="157.8" cy="84.1" rx="3.1" ry="1.1" transform="rotate(28 157.8 84.1)" fill="#2430d4" opacity="0.83"/>
<ellipse cx="108.1" cy="87.1" rx="2.7" ry="0.9" transform="rotate(24 108.1 87.1)" fill="#2432d0" opacity="0.82"/>
<ellipse cx="143.8" cy="82.8" rx="4.7" ry="0.9" transform="rotate(20 143.8 82.8)" fill="#2626d8" opacity="0.95"/>
<ellipse cx="175.5" cy="97.6" rx="4.0" ry="0.8" transform="rotate(21 175.5 97.6)" fill="#2a3ad8" opacity="0.95"/>
<ellipse cx="156.0" cy="75.8" rx="2.6" ry="0.9" transform="rotate(26 156.0 75.8)" fill="#2038d0" opacity="0.99"/>
<ellipse cx="143.6" cy="75.2" rx="2.9" ry="1.1" transform="rotate(24 143.6 75.2)" fill="#2038d0" opacity="0.94"/>
<ellipse cx="164.3" cy="83.7" rx="3.8" ry="0.8" transform="rotate(30 164.3 83.7)" fill="#2a3ad8" opacity="0.86"/>
<ellipse cx="205.2" cy="91.1" rx="5.2" ry="0.8" transform="rotate(25 205.2 91.1)" fill="#9a20c8" opacity="0.97"/>
<ellipse cx="145.9" cy="75.2" rx="2.3" ry="0.8" transform="rotate(31 145.9 75.2)" fill="#1fb0a8" opacity="0.91"/>
<ellipse cx="139.5" cy="75.5" rx="3.5" ry="0.8" transform="rotate(31 139.5 75.5)" fill="#2228cc" opacity="0.81"/>
<ellipse cx="142.2" cy="119.2" rx="4.2" ry="0.9" transform="rotate(25 142.2 119.2)" fill="#2626d8" opacity="0.86"/>
<ellipse cx="197.2" cy="89.2" rx="2.3" ry="0.7" transform="rotate(26 197.2 89.2)" fill="#2038d0" opacity="0.86"/>
<ellipse cx="168.4" cy="67.2" rx="3.1" ry="0.8" transform="rotate(23 168.4 67.2)" fill="#2a3ad8" opacity="0.90"/>
<ellipse cx="211.5" cy="87.0" rx="3.8" ry="1.0" transform="rotate(27 211.5 87.0)" fill="#2430d4" opacity="0.92"/>
<ellipse cx="173.5" cy="81.2" rx="3.1" ry="0.7" transform="rotate(20 173.5 81.2)" fill="#9020c0" opacity="0.96"/>
<ellipse cx="116.4" cy="83.0" rx="4.9" ry="0.7" transform="rotate(27 116.4 83.0)" fill="#2a3ad8" opacity="0.90"/>
<ellipse cx="141.8" cy="103.4" rx="3.8" ry="1.0" transform="rotate(24 141.8 103.4)" fill="#2430d4" opacity="0.94"/>
<ellipse cx="194.1" cy="101.0" rx="4.9" ry="1.2" transform="rotate(24 194.1 101.0)" fill="#9a20c8" opacity="0.97"/>
<ellipse cx="159.3" cy="86.3" rx="5.1" ry="1.2" transform="rotate(21 159.3 86.3)" fill="#18a0b8" opacity="0.85"/>
<ellipse cx="167.0" cy="80.7" rx="3.4" ry="1.0" transform="rotate(22 167.0 80.7)" fill="#1cb0b0" opacity="0.97"/>
<ellipse cx="127.8" cy="76.8" rx="4.3" ry="0.7" transform="rotate(29 127.8 76.8)" fill="#2038d0" opacity="0.85"/>
<ellipse cx="99.1" cy="87.3" rx="3.0" ry="0.7" transform="rotate(20 99.1 87.3)" fill="#1f8fc8" opacity="0.92"/>
<ellipse cx="211.9" cy="88.0" rx="3.6" ry="1.0" transform="rotate(25 211.9 88.0)" fill="#1cb0b0" opacity="0.99"/>
<ellipse cx="152.3" cy="146.3" rx="5.1" ry="0.7" transform="rotate(24 152.3 146.3)" fill="#1fb0a8" opacity="0.91"/>
<ellipse cx="162.4" cy="114.4" rx="5.0" ry="0.7" transform="rotate(21 162.4 114.4)" fill="#2a40d0" opacity="0.89"/>
<ellipse cx="184.5" cy="104.0" rx="3.5" ry="0.7" transform="rotate(27 184.5 104.0)" fill="#18a0b8" opacity="0.93"/>
<ellipse cx="109.1" cy="87.7" rx="2.8" ry="0.7" transform="rotate(31 109.1 87.7)" fill="#1fb8a0" opacity="0.85"/>
<ellipse cx="118.7" cy="110.6" rx="3.1" ry="1.0" transform="rotate(23 118.7 110.6)" fill="#2626d8" opacity="0.88"/>
<ellipse cx="103.2" cy="101.8" rx="3.1" ry="0.6" transform="rotate(21 103.2 101.8)" fill="#2430d4" opacity="0.98"/>
<ellipse cx="102.0" cy="101.1" rx="2.7" ry="1.1" transform="rotate(32 102.0 101.1)" fill="#2228cc" opacity="0.88"/>
<ellipse cx="99.8" cy="75.0" rx="2.4" ry="1.0" transform="rotate(28 99.8 75.0)" fill="#2a40d0" opacity="0.92"/>
<ellipse cx="159.5" cy="65.7" rx="4.1" ry="1.2" transform="rotate(21 159.5 65.7)" fill="#1fb8a0" opacity="0.97"/>
<ellipse cx="182.6" cy="114.0" rx="3.4" ry="1.1" transform="rotate(24 182.6 114.0)" fill="#1cb0b0" opacity="0.90"/>
<ellipse cx="88.2" cy="78.0" rx="4.7" ry="0.8" transform="rotate(23 88.2 78.0)" fill="#22c070" opacity="0.98"/>
<ellipse cx="132.2" cy="102.5" rx="5.3" ry="0.9" transform="rotate(30 132.2 102.5)" fill="#9a20c8" opacity="0.88"/>
<ellipse cx="184.9" cy="106.8" rx="2.9" ry="0.9" transform="rotate(24 184.9 106.8)" fill="#1f9fc8" opacity="0.93"/>
<ellipse cx="160.3" cy="117.1" rx="3.2" ry="0.6" transform="rotate(28 160.3 117.1)" fill="#22b890" opacity="0.92"/>
<ellipse cx="108.0" cy="93.1" rx="4.7" ry="1.0" transform="rotate(28 108.0 93.1)" fill="#2626d8" opacity="0.84"/>
<ellipse cx="90.9" cy="86.0" rx="2.3" ry="0.9" transform="rotate(21 90.9 86.0)" fill="#2432d0" opacity="0.82"/>
<ellipse cx="203.7" cy="96.2" rx="5.1" ry="0.8" transform="rotate(29 203.7 96.2)" fill="#2626d8" opacity="0.82"/>
<ellipse cx="178.3" cy="122.8" rx="3.8" ry="1.1" transform="rotate(31 178.3 122.8)" fill="#28c858" opacity="0.96"/>
<ellipse cx="105.4" cy="75.8" rx="4.8" ry="0.9" transform="rotate(20 105.4 75.8)" fill="#2a3ad8" opacity="0.95"/>
<ellipse cx="186.7" cy="81.2" rx="4.2" ry="1.2" transform="rotate(30 186.7 81.2)" fill="#18a0b8" opacity="0.93"/>
<ellipse cx="151.0" cy="91.1" rx="3.6" ry="0.9" transform="rotate(30 151.0 91.1)" fill="#2228cc" opacity="0.90"/>
<ellipse cx="139.3" cy="86.0" rx="3.9" ry="0.9" transform="rotate(23 139.3 86.0)" fill="#2626d8" opacity="0.81"/>
<ellipse cx="99.6" cy="77.0" rx="5.5" ry="1.1" transform="rotate(24 99.6 77.0)" fill="#9020c0" opacity="0.95"/>
<ellipse cx="176.6" cy="124.6" rx="4.7" ry="1.2" transform="rotate(21 176.6 124.6)" fill="#2a3ad8" opacity="0.84"/>
<ellipse cx="198.2" cy="98.1" rx="4.8" ry="0.9" transform="rotate(32 198.2 98.1)" fill="#9a20c8" opacity="0.81"/>
<ellipse cx="188.7" cy="100.4" rx="3.7" ry="0.9" transform="rotate(30 188.7 100.4)" fill="#22b890" opacity="0.84"/>
<ellipse cx="139.1" cy="77.3" rx="3.7" ry="1.1" transform="rotate(31 139.1 77.3)" fill="#2430d4" opacity="0.81"/>
<ellipse cx="114.9" cy="114.1" rx="4.8" ry="0.7" transform="rotate(24 114.9 114.1)" fill="#1fb0a8" opacity="0.82"/>
<ellipse cx="99.8" cy="75.4" rx="2.6" ry="0.7" transform="rotate(25 99.8 75.4)" fill="#1f8fc8" opacity="0.97"/>
<ellipse cx="182.7" cy="80.0" rx="4.0" ry="0.8" transform="rotate(31 182.7 80.0)" fill="#2a3ad8" opacity="0.99"/>
<ellipse cx="184.7" cy="73.4" rx="4.5" ry="1.1" transform="rotate(31 184.7 73.4)" fill="#22b890" opacity="0.93"/>
<ellipse cx="103.4" cy="89.9" rx="4.5" ry="0.9" transform="rotate(22 103.4 89.9)" fill="#2a3ad8" opacity="0.82"/>
<ellipse cx="187.2" cy="109.6" rx="2.2" ry="0.6" transform="rotate(22 187.2 109.6)" fill="#2a3ad8" opacity="0.94"/>
<ellipse cx="192.8" cy="97.1" rx="4.3" ry="0.9" transform="rotate(30 192.8 97.1)" fill="#9a20c8" opacity="0.88"/>
<ellipse cx="143.1" cy="91.5" rx="3.9" ry="0.9" transform="rotate(26 143.1 91.5)" fill="#9020c0" opacity="0.82"/>
<ellipse cx="143.5" cy="62.2" rx="4.4" ry="0.9" transform="rotate(31 143.5 62.2)" fill="#1fb0a8" opacity="0.88"/>
<ellipse cx="171.5" cy="100.8" rx="3.4" ry="0.8" transform="rotate(27 171.5 100.8)" fill="#9a20c8" opacity="0.93"/>
<ellipse cx="139.5" cy="76.0" rx="3.0" ry="0.9" transform="rotate(22 139.5 76.0)" fill="#18a0b8" opacity="0.98"/>
<ellipse cx="121.4" cy="84.4" rx="2.5" ry="1.0" transform="rotate(25 121.4 84.4)" fill="#18a0b8" opacity="0.84"/>
<ellipse cx="134.7" cy="135.2" rx="4.4" ry="0.8" transform="rotate(31 134.7 135.2)" fill="#18a0b8" opacity="0.99"/>
<ellipse cx="118.8" cy="65.8" rx="2.8" ry="0.9" transform="rotate(26 118.8 65.8)" fill="#22b890" opacity="0.93"/>
<ellipse cx="93.0" cy="80.7" rx="3.6" ry="0.7" transform="rotate(26 93.0 80.7)" fill="#2038d0" opacity="0.82"/>
<ellipse cx="147.1" cy="55.8" rx="3.9" ry="1.0" transform="rotate(26 147.1 55.8)" fill="#28c858" opacity="0.97"/>
<ellipse cx="119.1" cy="113.4" rx="2.8" ry="1.0" transform="rotate(27 119.1 113.4)" fill="#22c070" opacity="0.95"/>
<ellipse cx="148.8" cy="69.7" rx="3.6" ry="0.7" transform="rotate(24 148.8 69.7)" fill="#1fb0a8" opacity="0.87"/>
<ellipse cx="197.6" cy="89.2" rx="4.0" ry="0.9" transform="rotate(21 197.6 89.2)" fill="#2038d0" opacity="0.96"/>
<ellipse cx="131.3" cy="83.7" rx="3.0" ry="1.0" transform="rotate(26 131.3 83.7)" fill="#18a0b8" opacity="0.86"/>
<ellipse cx="117.0" cy="97.0" rx="2.4" ry="0.7" transform="rotate(25 117.0 97.0)" fill="#1fb8a0" opacity="0.91"/>
<ellipse cx="167.2" cy="76.3" rx="2.7" ry="1.2" transform="rotate(26 167.2 76.3)" fill="#2430d4" opacity="0.88"/>
<ellipse cx="179.7" cy="81.6" rx="4.9" ry="0.7" transform="rotate(30 179.7 81.6)" fill="#2432d0" opacity="0.82"/>
<ellipse cx="155.5" cy="112.5" rx="2.3" ry="0.7" transform="rotate(24 155.5 112.5)" fill="#18a0b8" opacity="0.99"/>
<ellipse cx="180.9" cy="83.7" rx="3.2" ry="0.7" transform="rotate(26 180.9 83.7)" fill="#2038d0" opacity="0.93"/>
<ellipse cx="167.2" cy="72.8" rx="5.3" ry="1.0" transform="rotate(26 167.2 72.8)" fill="#2430d4" opacity="0.98"/>
<ellipse cx="123.9" cy="97.1" rx="2.9" ry="0.7" transform="rotate(30 123.9 97.1)" fill="#1f8fc8" opacity="0.88"/>
<ellipse cx="145.8" cy="109.8" rx="5.0" ry="0.6" transform="rotate(26 145.8 109.8)" fill="#1cb0b0" opacity="0.91"/>
<ellipse cx="119.0" cy="100.7" rx="2.3" ry="0.8" transform="rotate(31 119.0 100.7)" fill="#22b890" opacity="0.90"/>
<ellipse cx="164.1" cy="84.4" rx="5.4" ry="0.6" transform="rotate(27 164.1 84.4)" fill="#18a0b8" opacity="0.99"/>
<ellipse cx="142.5" cy="83.1" rx="2.9" ry="1.1" transform="rotate(21 142.5 83.1)" fill="#1cb0b0" opacity="0.84"/>
<ellipse cx="134.8" cy="66.0" rx="2.9" ry="1.0" transform="rotate(30 134.8 66.0)" fill="#9a20c8" opacity="0.99"/>
<ellipse cx="148.4" cy="107.8" rx="4.4" ry="0.7" transform="rotate(32 148.4 107.8)" fill="#18a0b8" opacity="0.97"/>
<ellipse cx="120.1" cy="92.7" rx="4.3" ry="0.6" transform="rotate(29 120.1 92.7)" fill="#1f8fc8" opacity="0.81"/>
<ellipse cx="159.0" cy="97.6" rx="4.2" ry="1.0" transform="rotate(23 159.0 97.6)" fill="#22c070" opacity="0.91"/>
<ellipse cx="169.2" cy="111.4" rx="2.8" ry="0.7" transform="rotate(28 169.2 111.4)" fill="#9a20c8" opacity="0.83"/>
<ellipse cx="177.8" cy="97.3" rx="3.3" ry="1.1" transform="rotate(21 177.8 97.3)" fill="#1fb8a0" opacity="0.82"/>
<ellipse cx="182.9" cy="101.4" rx="4.5" ry="0.9" transform="rotate(28 182.9 101.4)" fill="#9a20c8" opacity="0.93"/>
<ellipse cx="142.2" cy="62.2" rx="4.0" ry="1.1" transform="rotate(21 142.2 62.2)" fill="#22b890" opacity="0.97"/>
<ellipse cx="111.3" cy="113.6" rx="2.9" ry="1.1" transform="rotate(26 111.3 113.6)" fill="#2038d0" opacity="0.89"/>
<ellipse cx="169.5" cy="108.4" rx="4.6" ry="0.7" transform="rotate(27 169.5 108.4)" fill="#2430d4" opacity="0.84"/>
<ellipse cx="110.8" cy="100.0" rx="4.8" ry="1.0" transform="rotate(25 110.8 100.0)" fill="#18a0b8" opacity="0.92"/>
<ellipse cx="161.8" cy="80.0" rx="3.3" ry="1.1" transform="rotate(23 161.8 80.0)" fill="#2038d0" opacity="0.85"/>
<ellipse cx="168.7" cy="101.6" rx="4.8" ry="0.8" transform="rotate(23 168.7 101.6)" fill="#9a20c8" opacity="0.84"/>
<ellipse cx="147.2" cy="140.1" rx="5.2" ry="0.9" transform="rotate(26 147.2 140.1)" fill="#2038d0" opacity="0.85"/>
<ellipse cx="137.8" cy="128.1" rx="2.3" ry="1.1" transform="rotate(27 137.8 128.1)" fill="#1f9fc8" opacity="0.91"/>
<ellipse cx="108.9" cy="99.6" rx="4.9" ry="0.7" transform="rotate(29 108.9 99.6)" fill="#9020c0" opacity="0.84"/>
<ellipse cx="125.4" cy="77.5" rx="2.7" ry="0.7" transform="rotate(22 125.4 77.5)" fill="#1fb0a8" opacity="1.00"/>
<ellipse cx="123.7" cy="94.6" rx="4.2" ry="1.1" transform="rotate(32 123.7 94.6)" fill="#1cb0b0" opacity="0.82"/>
<ellipse cx="112.3" cy="100.3" rx="3.1" ry="1.0" transform="rotate(23 112.3 100.3)" fill="#1f8fc8" opacity="0.82"/>
<ellipse cx="130.5" cy="61.2" rx="5.1" ry="0.7" transform="rotate(30 130.5 61.2)" fill="#2a3ad8" opacity="0.97"/>
<ellipse cx="157.3" cy="97.3" rx="4.7" ry="1.1" transform="rotate(27 157.3 97.3)" fill="#2a40d0" opacity="0.93"/>
<ellipse cx="126.1" cy="87.1" rx="3.0" ry="0.9" transform="rotate(24 126.1 87.1)" fill="#2a40d0" opacity="0.95"/>
<ellipse cx="180.2" cy="116.0" rx="5.1" ry="0.6" transform="rotate(27 180.2 116.0)" fill="#22b890" opacity="0.91"/>
<ellipse cx="195.2" cy="101.0" rx="2.5" ry="1.0" transform="rotate(21 195.2 101.0)" fill="#2626d8" opacity="1.00"/>
<ellipse cx="157.3" cy="69.6" rx="2.7" ry="0.9" transform="rotate(22 157.3 69.6)" fill="#9a20c8" opacity="0.98"/>
<ellipse cx="214.7" cy="89.0" rx="2.5" ry="0.9" transform="rotate(22 214.7 89.0)" fill="#2430d4" opacity="0.91"/>
<ellipse cx="134.7" cy="86.6" rx="3.6" ry="0.9" transform="rotate(21 134.7 86.6)" fill="#9a20c8" opacity="0.90"/>
<ellipse cx="183.1" cy="74.3" rx="5.2" ry="0.8" transform="rotate(23 183.1 74.3)" fill="#1f9fc8" opacity="0.85"/>
<ellipse cx="122.2" cy="74.9" rx="5.0" ry="1.2" transform="rotate(20 122.2 74.9)" fill="#2a3ad8" opacity="0.90"/>
<ellipse cx="165.7" cy="89.5" rx="3.2" ry="0.7" transform="rotate(29 165.7 89.5)" fill="#18a0b8" opacity="0.83"/>
<ellipse cx="150.6" cy="137.8" rx="5.4" ry="0.6" transform="rotate(20 150.6 137.8)" fill="#1cb0b0" opacity="0.97"/>
<ellipse cx="161.7" cy="102.4" rx="2.2" ry="0.6" transform="rotate(30 161.7 102.4)" fill="#9a20c8" opacity="1.00"/>
<ellipse cx="165.0" cy="116.0" rx="3.5" ry="1.2" transform="rotate(23 165.0 116.0)" fill="#22b890" opacity="0.81"/>
<ellipse cx="151.5" cy="78.1" rx="3.7" ry="0.8" transform="rotate(31 151.5 78.1)" fill="#22b890" opacity="0.84"/>
<ellipse cx="102.0" cy="84.9" rx="2.8" ry="1.0" transform="rotate(27 102.0 84.9)" fill="#9020c0" opacity="0.92"/>
<ellipse cx="156.7" cy="94.2" rx="3.0" ry="0.8" transform="rotate(24 156.7 94.2)" fill="#1cb0b0" opacity="0.95"/>
<ellipse cx="179.3" cy="87.8" rx="4.5" ry="0.9" transform="rotate(25 179.3 87.8)" fill="#9a20c8" opacity="0.81"/>
<ellipse cx="125.2" cy="114.1" rx="5.2" ry="1.2" transform="rotate(25 125.2 114.1)" fill="#1fb0a8" opacity="0.83"/>
<ellipse cx="187.5" cy="93.0" rx="3.5" ry="0.8" transform="rotate(27 187.5 93.0)" fill="#2a3ad8" opacity="0.95"/>
<ellipse cx="166.2" cy="78.4" rx="2.3" ry="1.2" transform="rotate(25 166.2 78.4)" fill="#2228cc" opacity="0.83"/>
<ellipse cx="89.1" cy="83.1" rx="5.3" ry="0.8" transform="rotate(31 89.1 83.1)" fill="#28c858" opacity="0.83"/>
<ellipse cx="193.1" cy="81.3" rx="4.5" ry="0.8" transform="rotate(30 193.1 81.3)" fill="#1f9fc8" opacity="0.98"/>
<ellipse cx="149.6" cy="109.2" rx="2.7" ry="1.2" transform="rotate(32 149.6 109.2)" fill="#1f8fc8" opacity="0.95"/>
<ellipse cx="133.4" cy="122.2" rx="2.6" ry="0.9" transform="rotate(26 133.4 122.2)" fill="#18a0b8" opacity="0.91"/>
<ellipse cx="167.8" cy="105.7" rx="4.4" ry="0.6" transform="rotate(31 167.8 105.7)" fill="#1fb0a8" opacity="1.00"/>
<ellipse cx="191.2" cy="105.3" rx="4.3" ry="0.7" transform="rotate(26 191.2 105.3)" fill="#22b890" opacity="0.98"/>
<ellipse cx="143.0" cy="106.2" rx="3.7" ry="0.7" transform="rotate(31 143.0 106.2)" fill="#1fb8a0" opacity="1.00"/>
<ellipse cx="128.0" cy="61.9" rx="3.1" ry="0.6" transform="rotate(25 128.0 61.9)" fill="#2626d8" opacity="0.96"/>
<ellipse cx="148.5" cy="146.0" rx="4.2" ry="0.6" transform="rotate(20 148.5 146.0)" fill="#2228cc" opacity="0.87"/>
<ellipse cx="153.4" cy="60.5" rx="4.1" ry="1.0" transform="rotate(23 153.4 60.5)" fill="#18a0b8" opacity="0.95"/>
<ellipse cx="95.6" cy="89.7" rx="3.6" ry="1.0" transform="rotate(23 95.6 89.7)" fill="#2432d0" opacity="0.99"/>
<ellipse cx="157.6" cy="85.4" rx="3.7" ry="1.0" transform="rotate(31 157.6 85.4)" fill="#1f9fc8" opacity="0.95"/>
<ellipse cx="166.2" cy="126.9" rx="2.7" ry="1.2" transform="rotate(23 166.2 126.9)" fill="#2038d0" opacity="0.82"/>
<ellipse cx="149.7" cy="111.3" rx="4.7" ry="1.1" transform="rotate(28 149.7 111.3)" fill="#2228cc" opacity="0.94"/>
<ellipse cx="151.5" cy="107.2" rx="3.7" ry="0.7" transform="rotate(26 151.5 107.2)" fill="#18a0b8" opacity="0.90"/>
<ellipse cx="189.2" cy="77.4" rx="2.4" ry="0.8" transform="rotate(21 189.2 77.4)" fill="#2228cc" opacity="0.92"/>
<ellipse cx="106.3" cy="108.4" rx="2.5" ry="0.8" transform="rotate(21 106.3 108.4)" fill="#2430d4" opacity="0.81"/>
<ellipse cx="149.4" cy="132.0" rx="3.9" ry="1.2" transform="rotate(28 149.4 132.0)" fill="#2430d4" opacity="0.94"/>
<ellipse cx="127.8" cy="100.1" rx="4.5" ry="1.1" transform="rotate(29 127.8 100.1)" fill="#2a3ad8" opacity="0.96"/>
<ellipse cx="146.6" cy="127.1" rx="4.6" ry="0.6" transform="rotate(30 146.6 127.1)" fill="#1f8fc8" opacity="0.99"/>
<ellipse cx="156.0" cy="103.4" rx="5.3" ry="1.0" transform="rotate(21 156.0 103.4)" fill="#2038d0" opacity="0.93"/>
<ellipse cx="149.8" cy="58.2" rx="3.0" ry="1.0" transform="rotate(29 149.8 58.2)" fill="#1f8fc8" opacity="0.85"/>
<ellipse cx="172.1" cy="96.6" rx="3.6" ry="0.9" transform="rotate(25 172.1 96.6)" fill="#2626d8" opacity="0.95"/>
<ellipse cx="91.4" cy="75.9" rx="2.9" ry="1.1" transform="rotate(20 91.4 75.9)" fill="#1fb8a0" opacity="0.98"/>
<ellipse cx="179.2" cy="72.0" rx="4.8" ry="1.1" transform="rotate(26 179.2 72.0)" fill="#18a0b8" opacity="0.86"/>
<ellipse cx="106.8" cy="94.6" rx="3.3" ry="1.2" transform="rotate(31 106.8 94.6)" fill="#1fb0a8" opacity="0.86"/>
<ellipse cx="188.6" cy="109.5" rx="3.3" ry="0.8" transform="rotate(26 188.6 109.5)" fill="#22c070" opacity="0.90"/>
<ellipse cx="135.8" cy="59.3" rx="4.7" ry="0.9" transform="rotate(23 135.8 59.3)" fill="#2228cc" opacity="0.99"/>
<ellipse cx="131.0" cy="89.8" rx="2.4" ry="0.8" transform="rotate(26 131.0 89.8)" fill="#22b890" opacity="0.99"/>
<ellipse cx="150.7" cy="105.3" rx="4.8" ry="1.2" transform="rotate(21 150.7 105.3)" fill="#2a3ad8" opacity="0.89"/>
<ellipse cx="138.3" cy="96.5" rx="5.2" ry="0.8" transform="rotate(26 138.3 96.5)" fill="#2a40d0" opacity="1.00"/>
<ellipse cx="126.5" cy="109.8" rx="4.2" ry="0.7" transform="rotate(32 126.5 109.8)" fill="#22c070" opacity="0.96"/>
<ellipse cx="182.5" cy="77.1" rx="4.5" ry="0.9" transform="rotate(25 182.5 77.1)" fill="#2626d8" opacity="0.82"/>
<ellipse cx="175.6" cy="72.2" rx="4.0" ry="0.6" transform="rotate(26 175.6 72.2)" fill="#22c070" opacity="0.92"/>
<ellipse cx="208.1" cy="84.0" rx="3.5" ry="1.0" transform="rotate(28 208.1 84.0)" fill="#2a3ad8" opacity="0.92"/>
<ellipse cx="126.0" cy="64.5" rx="4.1" ry="0.9" transform="rotate(25 126.0 64.5)" fill="#2626d8" opacity="0.95"/>
<ellipse cx="171.7" cy="99.2" rx="5.0" ry="0.9" transform="rotate(27 171.7 99.2)" fill="#2a3ad8" opacity="0.86"/>
<ellipse cx="156.8" cy="141.6" rx="5.0" ry="1.1" transform="rotate(27 156.8 141.6)" fill="#2a3ad8" opacity="0.95"/>
<ellipse cx="152.9" cy="130.3" rx="4.5" ry="0.9" transform="rotate(24 152.9 130.3)" fill="#9a20c8" opacity="0.89"/>
<ellipse cx="129.5" cy="99.8" rx="5.1" ry="1.0" transform="rotate(21 129.5 99.8)" fill="#2432d0" opacity="0.95"/>
<ellipse cx="159.0" cy="97.8" rx="5.4" ry="1.1" transform="rotate(25 159.0 97.8)" fill="#2430d4" opacity="0.93"/>
<ellipse cx="150.3" cy="117.0" rx="3.6" ry="1.0" transform="rotate(23 150.3 117.0)" fill="#1fb8a0" opacity="0.95"/>
<ellipse cx="182.2" cy="73.3" rx="2.3" ry="0.9" transform="rotate(29 182.2 73.3)" fill="#2038d0" opacity="0.85"/>
<ellipse cx="135.3" cy="113.5" rx="4.7" ry="0.9" transform="rotate(26 135.3 113.5)" fill="#2a3ad8" opacity="0.81"/>
<ellipse cx="134.8" cy="74.0" rx="4.7" ry="1.0" transform="rotate(23 134.8 74.0)" fill="#22b890" opacity="0.94"/>
<ellipse cx="153.7" cy="94.9" rx="4.7" ry="1.0" transform="rotate(30 153.7 94.9)" fill="#2a3ad8" opacity="0.90"/>
<ellipse cx="127.4" cy="62.0" rx="3.3" ry="1.2" transform="rotate(30 127.4 62.0)" fill="#2228cc" opacity="0.90"/>
<ellipse cx="173.1" cy="74.9" rx="2.5" ry="0.6" transform="rotate(26 173.1 74.9)" fill="#2a3ad8" opacity="0.91"/>
<ellipse cx="108.2" cy="111.9" rx="4.7" ry="0.6" transform="rotate(24 108.2 111.9)" fill="#2038d0" opacity="0.94"/>
<ellipse cx="183.1" cy="86.5" rx="2.7" ry="1.0" transform="rotate(26 183.1 86.5)" fill="#1cb0b0" opacity="0.91"/>
<ellipse cx="131.5" cy="92.9" rx="2.9" ry="0.6" transform="rotate(31 131.5 92.9)" fill="#28c858" opacity="0.93"/>
<ellipse cx="88.2" cy="79.6" rx="4.5" ry="0.6" transform="rotate(30 88.2 79.6)" fill="#2626d8" opacity="0.97"/>
<ellipse cx="138.1" cy="71.9" rx="4.9" ry="1.2" transform="rotate(30 138.1 71.9)" fill="#9020c0" opacity="0.94"/>
<ellipse cx="139.1" cy="57.3" rx="4.2" ry="1.2" transform="rotate(23 139.1 57.3)" fill="#1f8fc8" opacity="0.84"/>
<ellipse cx="130.9" cy="117.3" rx="4.8" ry="1.2" transform="rotate(22 130.9 117.3)" fill="#9020c0" opacity="0.84"/>
<ellipse cx="171.3" cy="85.8" rx="4.5" ry="0.7" transform="rotate(31 171.3 85.8)" fill="#18a0b8" opacity="0.97"/>
<ellipse cx="115.6" cy="85.2" rx="5.0" ry="1.1" transform="rotate(29 115.6 85.2)" fill="#2626d8" opacity="0.94"/>
<ellipse cx="146.9" cy="144.6" rx="3.4" ry="1.2" transform="rotate(27 146.9 144.6)" fill="#18a0b8" opacity="0.97"/>
<ellipse cx="84.7" cy="84.6" rx="2.8" ry="0.8" transform="rotate(28 84.7 84.6)" fill="#18a0b8" opacity="0.94"/>
<ellipse cx="130.1" cy="86.3" rx="2.3" ry="0.8" transform="rotate(20 130.1 86.3)" fill="#2430d4" opacity="0.98"/>
<ellipse cx="96.9" cy="103.0" rx="4.2" ry="0.8" transform="rotate(21 96.9 103.0)" fill="#2038d0" opacity="0.97"/>
<ellipse cx="144.4" cy="91.9" rx="4.8" ry="0.9" transform="rotate(29 144.4 91.9)" fill="#18a0b8" opacity="0.85"/>
<ellipse cx="160.6" cy="117.6" rx="3.9" ry="0.9" transform="rotate(29 160.6 117.6)" fill="#2228cc" opacity="0.98"/>
<ellipse cx="91.5" cy="97.7" rx="4.3" ry="0.6" transform="rotate(25 91.5 97.7)" fill="#2626d8" opacity="0.90"/>
<ellipse cx="165.2" cy="69.7" rx="4.5" ry="1.1" transform="rotate(25 165.2 69.7)" fill="#2228cc" opacity="0.88"/>
<ellipse cx="176.3" cy="78.6" rx="2.4" ry="0.8" transform="rotate(32 176.3 78.6)" fill="#28c858" opacity="0.91"/>
<ellipse cx="133.9" cy="103.5" rx="3.4" ry="1.2" transform="rotate(26 133.9 103.5)" fill="#2a40d0" opacity="0.82"/>
<ellipse cx="194.4" cy="95.3" rx="3.7" ry="1.2" transform="rotate(31 194.4 95.3)" fill="#9a20c8" opacity="0.92"/>
<ellipse cx="118.7" cy="117.3" rx="3.7" ry="1.2" transform="rotate(28 118.7 117.3)" fill="#1fb0a8" opacity="0.84"/>
<ellipse cx="144.9" cy="89.4" rx="5.2" ry="1.0" transform="rotate(20 144.9 89.4)" fill="#18a0b8" opacity="0.94"/>
<ellipse cx="185.5" cy="109.2" rx="3.3" ry="1.2" transform="rotate(27 185.5 109.2)" fill="#1cb0b0" opacity="0.82"/>
<ellipse cx="139.9" cy="112.8" rx="4.7" ry="0.6" transform="rotate(20 139.9 112.8)" fill="#28c858" opacity="0.96"/>
<ellipse cx="97.6" cy="86.1" rx="5.1" ry="1.0" transform="rotate(32 97.6 86.1)" fill="#1f9fc8" opacity="0.96"/>
<ellipse cx="193.2" cy="100.0" rx="4.2" ry="1.2" transform="rotate(21 193.2 100.0)" fill="#9a20c8" opacity="0.91"/>
<ellipse cx="159.5" cy="74.4" rx="3.6" ry="1.0" transform="rotate(20 159.5 74.4)" fill="#1f9fc8" opacity="0.92"/>
<ellipse cx="107.5" cy="93.9" rx="2.8" ry="0.8" transform="rotate(23 107.5 93.9)" fill="#1cb0b0" opacity="0.97"/>
<ellipse cx="194.4" cy="79.0" rx="5.3" ry="0.8" transform="rotate(20 194.4 79.0)" fill="#2038d0" opacity="0.88"/>
<ellipse cx="126.5" cy="116.8" rx="2.3" ry="1.2" transform="rotate(24 126.5 116.8)" fill="#9a20c8" opacity="0.87"/>
<ellipse cx="125.5" cy="73.0" rx="2.9" ry="0.6" transform="rotate(28 125.5 73.0)" fill="#2a3ad8" opacity="0.93"/>
<ellipse cx="152.0" cy="102.9" rx="2.5" ry="1.2" transform="rotate(20 152.0 102.9)" fill="#2626d8" opacity="0.84"/>
<ellipse cx="167.3" cy="76.9" rx="4.7" ry="1.1" transform="rotate(21 167.3 76.9)" fill="#1f9fc8" opacity="0.97"/>
<ellipse cx="95.4" cy="87.9" rx="3.0" ry="1.0" transform="rotate(22 95.4 87.9)" fill="#2626d8" opacity="0.94"/>
<ellipse cx="107.3" cy="81.2" rx="4.2" ry="0.7" transform="rotate(22 107.3 81.2)" fill="#22c070" opacity="0.89"/>
<ellipse cx="111.5" cy="109.4" rx="2.8" ry="0.9" transform="rotate(25 111.5 109.4)" fill="#1fb0a8" opacity="0.83"/>
<ellipse cx="151.7" cy="97.0" rx="3.2" ry="1.2" transform="rotate(20 151.7 97.0)" fill="#2228cc" opacity="0.96"/>
<ellipse cx="173.9" cy="120.5" rx="3.2" ry="0.8" transform="rotate(28 173.9 120.5)" fill="#2432d0" opacity="0.83"/>
<ellipse cx="195.1" cy="88.0" rx="5.2" ry="0.6" transform="rotate(23 195.1 88.0)" fill="#1fb0a8" opacity="0.86"/>
<ellipse cx="184.6" cy="91.3" rx="4.3" ry="1.2" transform="rotate(24 184.6 91.3)" fill="#1f9fc8" opacity="0.85"/>
<ellipse cx="124.0" cy="114.9" rx="4.1" ry="1.0" transform="rotate(27 124.0 114.9)" fill="#22b890" opacity="0.98"/>
<ellipse cx="160.3" cy="126.5" rx="4.4" ry="1.2" transform="rotate(22 160.3 126.5)" fill="#2228cc" opacity="0.88"/>
<ellipse cx="125.3" cy="114.8" rx="3.6" ry="1.0" transform="rotate(23 125.3 114.8)" fill="#22c070" opacity="0.99"/>
<ellipse cx="121.3" cy="98.2" rx="3.1" ry="0.8" transform="rotate(28 121.3 98.2)" fill="#22c070" opacity="0.84"/>
<ellipse cx="151.8" cy="128.7" rx="4.6" ry="0.7" transform="rotate(28 151.8 128.7)" fill="#22b890" opacity="0.93"/>
<ellipse cx="154.6" cy="102.6" rx="2.4" ry="1.1" transform="rotate(23 154.6 102.6)" fill="#2626d8" opacity="0.90"/>
<ellipse cx="187.5" cy="86.3" rx="3.1" ry="1.0" transform="rotate(23 187.5 86.3)" fill="#2432d0" opacity="0.94"/>
<ellipse cx="170.1" cy="106.0" rx="2.6" ry="1.0" transform="rotate(28 170.1 106.0)" fill="#2a3ad8" opacity="0.88"/>
<ellipse cx="175.4" cy="108.7" rx="5.4" ry="0.6" transform="rotate(21 175.4 108.7)" fill="#22b890" opacity="0.81"/>
<ellipse cx="165.3" cy="77.5" rx="3.7" ry="1.1" transform="rotate(31 165.3 77.5)" fill="#2430d4" opacity="0.81"/>
<ellipse cx="155.6" cy="102.6" rx="2.7" ry="0.6" transform="rotate(26 155.6 102.6)" fill="#18a0b8" opacity="0.83"/>
<ellipse cx="176.3" cy="83.2" rx="3.4" ry="1.0" transform="rotate(24 176.3 83.2)" fill="#9a20c8" opacity="0.89"/>
<ellipse cx="138.6" cy="113.9" rx="5.4" ry="0.8" transform="rotate(29 138.6 113.9)" fill="#2430d4" opacity="0.93"/>
<ellipse cx="109.6" cy="114.3" rx="3.8" ry="1.2" transform="rotate(22 109.6 114.3)" fill="#1f8fc8" opacity="0.85"/>
<ellipse cx="139.2" cy="102.5" rx="5.5" ry="1.1" transform="rotate(23 139.2 102.5)" fill="#9a20c8" opacity="0.89"/>
<ellipse cx="167.4" cy="80.3" rx="5.3" ry="1.0" transform="rotate(30 167.4 80.3)" fill="#2228cc" opacity="0.82"/>
<ellipse cx="130.8" cy="67.9" rx="3.7" ry="1.0" transform="rotate(21 130.8 67.9)" fill="#1f9fc8" opacity="0.85"/>
<ellipse cx="129.5" cy="71.0" rx="5.1" ry="0.7" transform="rotate(20 129.5 71.0)" fill="#2038d0" opacity="0.98"/>
<ellipse cx="119.1" cy="109.7" rx="4.1" ry="0.7" transform="rotate(24 119.1 109.7)" fill="#9a20c8" opacity="0.84"/>
<ellipse cx="167.6" cy="131.6" rx="3.6" ry="0.6" transform="rotate(27 167.6 131.6)" fill="#1f9fc8" opacity="1.00"/>
<ellipse cx="126.3" cy="89.5" rx="4.9" ry="1.2" transform="rotate(22 126.3 89.5)" fill="#28c858" opacity="0.90"/>
<ellipse cx="125.5" cy="87.5" rx="3.6" ry="0.7" transform="rotate(25 125.5 87.5)" fill="#1fb0a8" opacity="0.84"/>
<ellipse cx="106.5" cy="74.4" rx="4.9" ry="0.8" transform="rotate(30 106.5 74.4)" fill="#22c070" opacity="0.90"/>
<ellipse cx="134.5" cy="106.5" rx="3.2" ry="0.7" transform="rotate(29 134.5 106.5)" fill="#2430d4" opacity="0.95"/>
<ellipse cx="127.9" cy="89.0" rx="3.7" ry="0.7" transform="rotate(21 127.9 89.0)" fill="#28c858" opacity="0.83"/>
<ellipse cx="170.6" cy="110.6" rx="2.9" ry="0.7" transform="rotate(23 170.6 110.6)" fill="#22b890" opacity="0.92"/>
<ellipse cx="98.1" cy="96.7" rx="4.2" ry="1.1" transform="rotate(27 98.1 96.7)" fill="#2a40d0" opacity="0.98"/>
<ellipse cx="175.4" cy="123.3" rx="5.2" ry="1.1" transform="rotate(21 175.4 123.3)" fill="#22b890" opacity="0.85"/>
<ellipse cx="147.5" cy="89.5" rx="5.0" ry="0.9" transform="rotate(28 147.5 89.5)" fill="#1f9fc8" opacity="0.85"/>
<ellipse cx="104.0" cy="100.6" rx="4.2" ry="1.0" transform="rotate(28 104.0 100.6)" fill="#1f8fc8" opacity="1.00"/>
<ellipse cx="157.3" cy="89.4" rx="2.9" ry="1.2" transform="rotate(24 157.3 89.4)" fill="#2228cc" opacity="0.89"/>
<ellipse cx="108.5" cy="86.5" rx="3.2" ry="0.9" transform="rotate(23 108.5 86.5)" fill="#1cb0b0" opacity="0.91"/>
<ellipse cx="167.0" cy="108.2" rx="2.5" ry="1.1" transform="rotate(27 167.0 108.2)" fill="#2038d0" opacity="0.80"/>
<ellipse cx="149.2" cy="87.2" rx="3.9" ry="0.9" transform="rotate(23 149.2 87.2)" fill="#2626d8" opacity="0.83"/>
<ellipse cx="173.0" cy="87.3" rx="2.6" ry="1.1" transform="rotate(21 173.0 87.3)" fill="#9a20c8" opacity="0.91"/>
<ellipse cx="86.7" cy="87.1" rx="3.2" ry="0.8" transform="rotate(24 86.7 87.1)" fill="#2a3ad8" opacity="0.86"/>
<ellipse cx="110.5" cy="74.2" rx="4.8" ry="1.0" transform="rotate(22 110.5 74.2)" fill="#1f9fc8" opacity="0.91"/>
<ellipse cx="140.4" cy="88.9" rx="2.5" ry="0.7" transform="rotate(21 140.4 88.9)" fill="#1fb8a0" opacity="0.83"/>
<ellipse cx="167.9" cy="128.6" rx="2.8" ry="1.0" transform="rotate(28 167.9 128.6)" fill="#2228cc" opacity="0.92"/>
<ellipse cx="104.1" cy="79.5" rx="4.0" ry="0.7" transform="rotate(31 104.1 79.5)" fill="#1fb8a0" opacity="0.81"/>
<ellipse cx="146.9" cy="71.9" rx="3.6" ry="0.9" transform="rotate(22 146.9 71.9)" fill="#1f9fc8" opacity="0.89"/>
<ellipse cx="139.6" cy="75.0" rx="4.2" ry="1.0" transform="rotate(26 139.6 75.0)" fill="#1f9fc8" opacity="0.90"/>
<ellipse cx="161.5" cy="134.5" rx="3.8" ry="1.0" transform="rotate(25 161.5 134.5)" fill="#1f9fc8" opacity="0.94"/>
<ellipse cx="174.0" cy="113.0" rx="3.4" ry="0.9" transform="rotate(31 174.0 113.0)" fill="#9a20c8" opacity="0.82"/>
<ellipse cx="132.2" cy="58.7" rx="3.0" ry="1.0" transform="rotate(29 132.2 58.7)" fill="#1fb0a8" opacity="0.96"/>
<ellipse cx="138.1" cy="92.7" rx="4.8" ry="0.9" transform="rotate(31 138.1 92.7)" fill="#22b890" opacity="0.98"/>
<ellipse cx="195.5" cy="105.7" rx="3.5" ry="0.8" transform="rotate(20 195.5 105.7)" fill="#2430d4" opacity="0.82"/>
<ellipse cx="171.0" cy="71.0" rx="2.5" ry="0.7" transform="rotate(21 171.0 71.0)" fill="#22c070" opacity="0.96"/>
<ellipse cx="125.3" cy="65.8" rx="2.8" ry="0.7" transform="rotate(20 125.3 65.8)" fill="#9020c0" opacity="0.95"/>
<ellipse cx="141.0" cy="72.0" rx="2.9" ry="0.8" transform="rotate(26 141.0 72.0)" fill="#1fb0a8" opacity="0.82"/>
<ellipse cx="140.6" cy="137.0" rx="3.8" ry="1.1" transform="rotate(23 140.6 137.0)" fill="#9a20c8" opacity="0.96"/>
<ellipse cx="184.9" cy="109.1" rx="2.8" ry="1.2" transform="rotate(22 184.9 109.1)" fill="#1fb0a8" opacity="0.96"/>
<ellipse cx="103.2" cy="81.5" rx="2.9" ry="1.2" transform="rotate(30 103.2 81.5)" fill="#9020c0" opacity="0.90"/>
<ellipse cx="96.6" cy="78.1" rx="3.5" ry="0.7" transform="rotate(30 96.6 78.1)" fill="#2038d0" opacity="0.88"/>
<ellipse cx="132.5" cy="93.6" rx="3.0" ry="0.6" transform="rotate(21 132.5 93.6)" fill="#1fb8a0" opacity="0.88"/>
<ellipse cx="142.5" cy="101.0" rx="3.4" ry="0.9" transform="rotate(21 142.5 101.0)" fill="#1cb0b0" opacity="0.92"/>
<ellipse cx="140.5" cy="131.4" rx="3.2" ry="0.8" transform="rotate(21 140.5 131.4)" fill="#22c070" opacity="0.81"/>
<ellipse cx="111.1" cy="114.7" rx="2.2" ry="0.9" transform="rotate(22 111.1 114.7)" fill="#9020c0" opacity="0.88"/>
<ellipse cx="161.7" cy="74.7" rx="3.3" ry="1.1" transform="rotate(26 161.7 74.7)" fill="#9a20c8" opacity="0.96"/>
<ellipse cx="198.7" cy="88.6" rx="3.7" ry="0.9" transform="rotate(27 198.7 88.6)" fill="#1cb0b0" opacity="0.91"/>
<ellipse cx="195.0" cy="90.0" rx="4.0" ry="1.0" transform="rotate(31 195.0 90.0)" fill="#18a0b8" opacity="0.92"/>
<ellipse cx="83.4" cy="92.2" rx="2.7" ry="1.1" transform="rotate(26 83.4 92.2)" fill="#1f8fc8" opacity="0.95"/>
<ellipse cx="157.9" cy="69.0" rx="5.2" ry="0.8" transform="rotate(28 157.9 69.0)" fill="#2a3ad8" opacity="0.96"/>
<ellipse cx="174.9" cy="122.6" rx="4.1" ry="1.1" transform="rotate(21 174.9 122.6)" fill="#2626d8" opacity="0.89"/>
<ellipse cx="103.8" cy="93.7" rx="5.3" ry="0.7" transform="rotate(25 103.8 93.7)" fill="#2432d0" opacity="0.85"/>
<ellipse cx="132.1" cy="122.6" rx="3.9" ry="0.9" transform="rotate(22 132.1 122.6)" fill="#2038d0" opacity="0.86"/>
<ellipse cx="125.7" cy="62.5" rx="3.0" ry="0.8" transform="rotate(26 125.7 62.5)" fill="#2a40d0" opacity="0.93"/>
<ellipse cx="143.6" cy="106.7" rx="4.4" ry="0.7" transform="rotate(31 143.6 106.7)" fill="#1f8fc8" opacity="1.00"/>
<ellipse cx="210.9" cy="90.0" rx="3.0" ry="1.1" transform="rotate(31 210.9 90.0)" fill="#9a20c8" opacity="0.85"/>
<ellipse cx="148.2" cy="58.4" rx="2.6" ry="0.8" transform="rotate(31 148.2 58.4)" fill="#1fb8a0" opacity="0.95"/>
<ellipse cx="187.8" cy="110.7" rx="2.7" ry="1.2" transform="rotate(23 187.8 110.7)" fill="#1f9fc8" opacity="0.85"/>
<ellipse cx="212.0" cy="89.9" rx="5.0" ry="1.1" transform="rotate(27 212.0 89.9)" fill="#2038d0" opacity="0.81"/>
<ellipse cx="186.8" cy="87.8" rx="3.5" ry="0.9" transform="rotate(29 186.8 87.8)" fill="#2626d8" opacity="0.81"/>
<ellipse cx="165.4" cy="89.2" rx="4.4" ry="1.1" transform="rotate(24 165.4 89.2)" fill="#28c858" opacity="0.93"/>
<ellipse cx="140.9" cy="59.3" rx="3.7" ry="0.7" transform="rotate(25 140.9 59.3)" fill="#2432d0" opacity="0.94"/>
<ellipse cx="122.5" cy="114.9" rx="5.2" ry="1.1" transform="rotate(22 122.5 114.9)" fill="#2038d0" opacity="0.99"/>
<ellipse cx="176.6" cy="105.0" rx="4.4" ry="1.1" transform="rotate(22 176.6 105.0)" fill="#2626d8" opacity="0.86"/>
<ellipse cx="92.0" cy="92.4" rx="4.4" ry="0.6" transform="rotate(28 92.0 92.4)" fill="#9020c0" opacity="0.98"/>
<ellipse cx="166.1" cy="97.0" rx="3.7" ry="0.6" transform="rotate(27 166.1 97.0)" fill="#1fb8a0" opacity="0.93"/>
<ellipse cx="181.4" cy="105.8" rx="4.3" ry="0.8" transform="rotate(26 181.4 105.8)" fill="#2626d8" opacity="0.90"/>
<ellipse cx="90.4" cy="95.6" rx="3.7" ry="1.2" transform="rotate(25 90.4 95.6)" fill="#28c858" opacity="0.80"/>
<ellipse cx="122.3" cy="91.2" rx="3.2" ry="0.6" transform="rotate(31 122.3 91.2)" fill="#2432d0" opacity="0.92"/>
<ellipse cx="181.4" cy="93.2" rx="3.6" ry="1.1" transform="rotate(24 181.4 93.2)" fill="#2430d4" opacity="1.00"/>
<ellipse cx="124.8" cy="77.5" rx="3.9" ry="0.9" transform="rotate(28 124.8 77.5)" fill="#2626d8" opacity="0.87"/>
<ellipse cx="180.7" cy="105.5" rx="2.4" ry="0.8" transform="rotate(23 180.7 105.5)" fill="#22b890" opacity="0.96"/>
<ellipse cx="180.4" cy="96.6" rx="4.6" ry="0.6" transform="rotate(22 180.4 96.6)" fill="#1cb0b0" opacity="0.95"/>
<ellipse cx="205.6" cy="83.4" rx="4.9" ry="0.7" transform="rotate(25 205.6 83.4)" fill="#1f9fc8" opacity="0.89"/>
<ellipse cx="124.0" cy="96.0" rx="5.4" ry="0.9" transform="rotate(21 124.0 96.0)" fill="#22c070" opacity="0.93"/>
<ellipse cx="107.9" cy="92.6" rx="3.6" ry="1.2" transform="rotate(32 107.9 92.6)" fill="#18a0b8" opacity="0.91"/>
<ellipse cx="140.9" cy="70.3" rx="2.5" ry="1.0" transform="rotate(21 140.9 70.3)" fill="#9020c0" opacity="0.82"/>
<ellipse cx="154.6" cy="139.0" rx="4.1" ry="1.1" transform="rotate(22 154.6 139.0)" fill="#2a40d0" opacity="0.97"/>
<ellipse cx="182.6" cy="94.8" rx="2.3" ry="1.1" transform="rotate(20 182.6 94.8)" fill="#1fb8a0" opacity="0.91"/>
<ellipse cx="190.6" cy="104.8" rx="4.5" ry="0.8" transform="rotate(29 190.6 104.8)" fill="#1f9fc8" opacity="0.92"/>
<ellipse cx="141.1" cy="88.5" rx="4.5" ry="0.8" transform="rotate(21 141.1 88.5)" fill="#1cb0b0" opacity="0.88"/>
<ellipse cx="152.6" cy="63.8" rx="4.7" ry="1.2" transform="rotate(27 152.6 63.8)" fill="#9a20c8" opacity="0.81"/>
<ellipse cx="88.7" cy="92.8" rx="5.4" ry="0.8" transform="rotate(23 88.7 92.8)" fill="#2432d0" opacity="0.84"/>
<ellipse cx="86.0" cy="92.5" rx="3.6" ry="1.0" transform="rotate(31 86.0 92.5)" fill="#2432d0" opacity="0.86"/>
<ellipse cx="117.3" cy="80.7" rx="4.2" ry="1.2" transform="rotate(21 117.3 80.7)" fill="#22b890" opacity="0.94"/>
<ellipse cx="138.6" cy="73.5" rx="3.0" ry="0.7" transform="rotate(32 138.6 73.5)" fill="#28c858" opacity="0.98"/>
<ellipse cx="181.1" cy="112.9" rx="5.0" ry="0.7" transform="rotate(22 181.1 112.9)" fill="#22b890" opacity="0.94"/>
<ellipse cx="137.2" cy="56.4" rx="2.4" ry="1.2" transform="rotate(23 137.2 56.4)" fill="#9020c0" opacity="0.97"/>
<ellipse cx="115.1" cy="85.3" rx="3.7" ry="1.1" transform="rotate(23 115.1 85.3)" fill="#1f9fc8" opacity="0.96"/>
<ellipse cx="118.9" cy="85.1" rx="4.0" ry="0.8" transform="rotate(23 118.9 85.1)" fill="#22c070" opacity="0.89"/>
<ellipse cx="117.6" cy="76.4" rx="3.8" ry="0.8" transform="rotate(27 117.6 76.4)" fill="#1fb0a8" opacity="0.82"/>
<ellipse cx="155.0" cy="108.1" rx="2.4" ry="1.0" transform="rotate(26 155.0 108.1)" fill="#9a20c8" opacity="0.94"/>
<ellipse cx="164.6" cy="134.4" rx="5.3" ry="0.7" transform="rotate(20 164.6 134.4)" fill="#2228cc" opacity="0.83"/>
<ellipse cx="135.4" cy="63.1" rx="3.6" ry="1.2" transform="rotate(20 135.4 63.1)" fill="#1fb8a0" opacity="0.86"/>
<ellipse cx="92.5" cy="77.5" rx="4.1" ry="0.9" transform="rotate(25 92.5 77.5)" fill="#2a3ad8" opacity="0.90"/>
<ellipse cx="132.5" cy="117.7" rx="5.1" ry="0.7" transform="rotate(26 132.5 117.7)" fill="#1fb8a0" opacity="0.95"/>
<ellipse cx="158.6" cy="121.0" rx="4.7" ry="0.9" transform="rotate(32 158.6 121.0)" fill="#2228cc" opacity="0.86"/>
<ellipse cx="166.1" cy="74.5" rx="5.1" ry="1.2" transform="rotate(23 166.1 74.5)" fill="#28c858" opacity="0.92"/>
<ellipse cx="125.0" cy="66.3" rx="4.2" ry="1.0" transform="rotate(26 125.0 66.3)" fill="#2a40d0" opacity="0.87"/>
<ellipse cx="201.1" cy="103.0" rx="4.6" ry="1.2" transform="rotate(25 201.1 103.0)" fill="#2a3ad8" opacity="0.89"/>
<ellipse cx="132.2" cy="62.4" rx="4.9" ry="1.0" transform="rotate(29 132.2 62.4)" fill="#2432d0" opacity="0.83"/>
<ellipse cx="157.3" cy="87.3" rx="4.9" ry="1.0" transform="rotate(30 157.3 87.3)" fill="#9a20c8" opacity="0.91"/>
<ellipse cx="104.3" cy="84.6" rx="2.4" ry="0.7" transform="rotate(25 104.3 84.6)" fill="#2a40d0" opacity="0.97"/>
<ellipse cx="186.0" cy="110.8" rx="2.9" ry="0.8" transform="rotate(30 186.0 110.8)" fill="#2626d8" opacity="0.90"/>
<ellipse cx="123.6" cy="105.3" rx="4.9" ry="1.2" transform="rotate(22 123.6 105.3)" fill="#9a20c8" opacity="0.80"/>
<ellipse cx="134.2" cy="110.0" rx="3.1" ry="1.0" transform="rotate(23 134.2 110.0)" fill="#2a40d0" opacity="0.95"/>
<ellipse cx="153.2" cy="67.7" rx="3.3" ry="1.2" transform="rotate(27 153.2 67.7)" fill="#2a40d0" opacity="0.85"/>
<ellipse cx="144.0" cy="110.9" rx="4.1" ry="0.8" transform="rotate(21 144.0 110.9)" fill="#2626d8" opacity="0.84"/>
<ellipse cx="186.4" cy="82.3" rx="3.4" ry="1.2" transform="rotate(30 186.4 82.3)" fill="#2a3ad8" opacity="0.97"/>
<ellipse cx="189.7" cy="111.8" rx="4.1" ry="0.8" transform="rotate(25 189.7 111.8)" fill="#28c858" opacity="0.91"/>
<ellipse cx="136.5" cy="75.8" rx="4.4" ry="0.8" transform="rotate(21 136.5 75.8)" fill="#28c858" opacity="0.83"/>
<ellipse cx="155.1" cy="120.7" rx="2.3" ry="0.7" transform="rotate(29 155.1 120.7)" fill="#2a40d0" opacity="0.92"/>
<ellipse cx="135.4" cy="80.6" rx="5.3" ry="0.8" transform="rotate(27 135.4 80.6)" fill="#9a20c8" opacity="0.90"/>
<ellipse cx="120.1" cy="105.9" rx="4.5" ry="1.0" transform="rotate(30 120.1 105.9)" fill="#1fb0a8" opacity="0.80"/>
<ellipse cx="136.1" cy="118.4" rx="3.8" ry="0.7" transform="rotate(26 136.1 118.4)" fill="#1fb8a0" opacity="0.91"/>
<ellipse cx="132.4" cy="105.7" rx="4.2" ry="1.0" transform="rotate(29 132.4 105.7)" fill="#1cb0b0" opacity="0.86"/>
<ellipse cx="131.5" cy="90.3" rx="2.8" ry="1.2" transform="rotate(32 131.5 90.3)" fill="#2a40d0" opacity="0.90"/>
<ellipse cx="192.1" cy="111.5" rx="2.6" ry="0.8" transform="rotate(29 192.1 111.5)" fill="#9a20c8" opacity="0.97"/>
<ellipse cx="143.9" cy="70.4" rx="4.2" ry="1.0" transform="rotate(27 143.9 70.4)" fill="#1fb8a0" opacity="0.93"/>
<ellipse cx="122.1" cy="116.5" rx="3.6" ry="1.2" transform="rotate(26 122.1 116.5)" fill="#22c070" opacity="0.83"/>
<ellipse cx="137.0" cy="101.1" rx="2.8" ry="1.1" transform="rotate(22 137.0 101.1)" fill="#1f9fc8" opacity="0.90"/>
<ellipse cx="155.6" cy="144.3" rx="4.0" ry="0.7" transform="rotate(31 155.6 144.3)" fill="#22c070" opacity="0.82"/>
<ellipse cx="200.2" cy="82.4" rx="3.7" ry="1.2" transform="rotate(21 200.2 82.4)" fill="#22b890" opacity="0.91"/>
<ellipse cx="147.4" cy="90.1" rx="3.3" ry="1.2" transform="rotate(27 147.4 90.1)" fill="#2432d0" opacity="0.85"/>
<ellipse cx="175.0" cy="79.0" rx="3.8" ry="0.8" transform="rotate(22 175.0 79.0)" fill="#2a3ad8" opacity="0.85"/>
<ellipse cx="135.7" cy="94.2" rx="3.7" ry="1.0" transform="rotate(28 135.7 94.2)" fill="#1f8fc8" opacity="0.99"/>
<ellipse cx="129.6" cy="73.4" rx="3.4" ry="0.9" transform="rotate(32 129.6 73.4)" fill="#9020c0" opacity="0.90"/>
<ellipse cx="191.0" cy="112.2" rx="5.1" ry="0.9" transform="rotate(25 191.0 112.2)" fill="#2038d0" opacity="0.92"/>
<ellipse cx="151.0" cy="92.9" rx="4.7" ry="0.7" transform="rotate(32 151.0 92.9)" fill="#1f9fc8" opacity="0.80"/>
<ellipse cx="134.1" cy="61.4" rx="4.8" ry="1.2" transform="rotate(21 134.1 61.4)" fill="#2626d8" opacity="0.89"/>
<ellipse cx="169.3" cy="127.7" rx="3.2" ry="0.9" transform="rotate(32 169.3 127.7)" fill="#2038d0" opacity="0.93"/>
<ellipse cx="179.3" cy="106.6" rx="3.8" ry="0.8" transform="rotate(29 179.3 106.6)" fill="#28c858" opacity="0.88"/>
<ellipse cx="108.1" cy="92.2" rx="1.3" ry="0.9" transform="rotate(25 108.1 92.2)" fill="#d8e020"/>
<ellipse cx="132.7" cy="65.2" rx="1.3" ry="0.9" transform="rotate(25 132.7 65.2)" fill="#d8e020"/>
<ellipse cx="111.4" cy="93.9" rx="1.3" ry="0.9" transform="rotate(25 111.4 93.9)" fill="#d8e020"/>
<ellipse cx="118.4" cy="67.0" rx="1.3" ry="0.9" transform="rotate(25 118.4 67.0)" fill="#d8e020"/>
<ellipse cx="98.4" cy="75.6" rx="1.3" ry="0.9" transform="rotate(25 98.4 75.6)" fill="#d8e020"/>
</g></g>
<line x1="88.8" y1="93.3" x2="98.4" y2="74.1" stroke="#fff" stroke-width="1.6" stroke-linecap="square"/>
<polygon points="100.6,69.6 100.5,75.1 96.2,73.0" fill="#fff"/>
<line x1="88.8" y1="93.3" x2="106.6" y2="102.0" stroke="#fff" stroke-width="1.6" stroke-linecap="square"/>
<polygon points="111.1,104.2 105.6,104.2 107.7,99.8" fill="#fff"/>
<text transform="translate(100.8 82.6) rotate(117)" x="0" y="2.7" font-family="Liberation Sans, sans-serif" font-weight="bold" font-size="7.4" fill="#fff" text-anchor="middle">MD</text>
<text transform="translate(104.9 96.2) rotate(27)" x="0" y="2.4" font-family="Liberation Sans, sans-serif" font-weight="bold" font-size="6.8" fill="#fff" text-anchor="middle">CD</text>
<text x="188.4" y="133.7" font-family="Liberation Serif, serif" font-size="9.3" fill="#ececec" textLength="17.9" lengthAdjust="spacingAndGlyphs">Dry-</text>
<text x="188.4" y="144.6" font-family="Liberation Serif, serif" font-size="9.3" fill="#ececec" textLength="20.9" lengthAdjust="spacingAndGlyphs">crepe</text>
<rect x="266.3" y="46.3" width="163.7" height="110.7" rx="2.2" fill="#385723"/>
<rect x="270.8" y="51.1" width="155.2" height="101.5" fill="#000"/>
<g clip-path="url(#c2)"><g filter="url(#bl)">
<polygon points="262,40 432,40 432,160 262,160" fill="url(#g2)"/>
<ellipse cx="375.3" cy="87.7" rx="4.4" ry="2.1" transform="rotate(17 375.3 87.7)" fill="#2cc878" opacity="0.51"/>
<ellipse cx="377.3" cy="71.6" rx="3.9" ry="2.1" transform="rotate(-14 377.3 71.6)" fill="#30c060" opacity="0.85"/>
<ellipse cx="310.6" cy="105.0" rx="2.7" ry="1.9" transform="rotate(0 310.6 105.0)" fill="#88c828" opacity="0.87"/>
<ellipse cx="344.9" cy="126.2" rx="4.4" ry="1.2" transform="rotate(11 344.9 126.2)" fill="#88c828" opacity="0.55"/>
<ellipse cx="350.0" cy="148.4" rx="4.3" ry="2.2" transform="rotate(-12 350.0 148.4)" fill="#88c828" opacity="0.62"/>
<ellipse cx="387.4" cy="114.9" rx="4.0" ry="1.2" transform="rotate(27 387.4 114.9)" fill="#d0b020" opacity="0.58"/>
<ellipse cx="376.5" cy="124.7" rx="2.1" ry="1.5" transform="rotate(27 376.5 124.7)" fill="#c8c020" opacity="0.53"/>
<ellipse cx="340.1" cy="79.4" rx="2.0" ry="1.8" transform="rotate(-3 340.1 79.4)" fill="#c8c020" opacity="0.64"/>
<ellipse cx="347.1" cy="75.8" rx="2.6" ry="1.6" transform="rotate(-11 347.1 75.8)" fill="#c8c020" opacity="0.89"/>
<ellipse cx="328.6" cy="61.3" rx="4.5" ry="1.0" transform="rotate(19 328.6 61.3)" fill="#c8c020" opacity="0.65"/>
<ellipse cx="371.8" cy="113.9" rx="4.1" ry="1.7" transform="rotate(28 371.8 113.9)" fill="#a4cc20" opacity="0.80"/>
<ellipse cx="413.7" cy="89.0" rx="3.0" ry="1.4" transform="rotate(6 413.7 89.0)" fill="#30c060" opacity="0.54"/>
<ellipse cx="389.1" cy="90.2" rx="4.6" ry="1.0" transform="rotate(27 389.1 90.2)" fill="#a4cc20" opacity="0.58"/>
<ellipse cx="339.6" cy="101.0" rx="2.4" ry="1.3" transform="rotate(15 339.6 101.0)" fill="#a4cc20" opacity="0.62"/>
<ellipse cx="311.0" cy="97.9" rx="2.2" ry="1.2" transform="rotate(14 311.0 97.9)" fill="#30c060" opacity="0.56"/>
<ellipse cx="347.5" cy="54.6" rx="3.6" ry="1.5" transform="rotate(-8 347.5 54.6)" fill="#2cc878" opacity="0.64"/>
<ellipse cx="339.5" cy="75.1" rx="2.4" ry="2.2" transform="rotate(12 339.5 75.1)" fill="#30c060" opacity="0.63"/>
<ellipse cx="359.6" cy="60.5" rx="3.7" ry="1.2" transform="rotate(25 359.6 60.5)" fill="#30c060" opacity="0.54"/>
<ellipse cx="318.2" cy="106.3" rx="4.5" ry="1.4" transform="rotate(3 318.2 106.3)" fill="#2cc878" opacity="0.84"/>
<ellipse cx="382.4" cy="121.0" rx="3.5" ry="1.9" transform="rotate(4 382.4 121.0)" fill="#c8c020" opacity="0.69"/>
<ellipse cx="352.2" cy="137.4" rx="4.5" ry="1.6" transform="rotate(-11 352.2 137.4)" fill="#30c060" opacity="0.85"/>
<ellipse cx="322.7" cy="77.8" rx="3.5" ry="1.7" transform="rotate(5 322.7 77.8)" fill="#a4cc20" opacity="0.81"/>
<ellipse cx="383.8" cy="97.0" rx="4.0" ry="1.9" transform="rotate(-2 383.8 97.0)" fill="#d0b020" opacity="0.77"/>
<ellipse cx="357.9" cy="124.4" rx="4.9" ry="1.9" transform="rotate(28 357.9 124.4)" fill="#c8c020" opacity="0.76"/>
<ellipse cx="319.8" cy="122.2" rx="3.6" ry="1.3" transform="rotate(14 319.8 122.2)" fill="#30c060" opacity="0.62"/>
<ellipse cx="360.8" cy="85.6" rx="3.1" ry="1.3" transform="rotate(-3 360.8 85.6)" fill="#30c060" opacity="0.64"/>
<ellipse cx="401.7" cy="89.9" rx="4.1" ry="2.2" transform="rotate(28 401.7 89.9)" fill="#2cc878" opacity="0.56"/>
<ellipse cx="364.5" cy="137.0" rx="3.1" ry="2.0" transform="rotate(-6 364.5 137.0)" fill="#a4cc20" opacity="0.79"/>
<ellipse cx="343.0" cy="123.4" rx="4.3" ry="1.7" transform="rotate(13 343.0 123.4)" fill="#30c060" opacity="0.62"/>
<ellipse cx="378.7" cy="78.6" rx="2.8" ry="2.2" transform="rotate(-10 378.7 78.6)" fill="#2cc878" opacity="0.68"/>
<ellipse cx="340.1" cy="116.0" rx="4.1" ry="1.8" transform="rotate(-18 340.1 116.0)" fill="#30c060" opacity="0.89"/>
<ellipse cx="350.0" cy="62.3" rx="2.3" ry="2.2" transform="rotate(4 350.0 62.3)" fill="#2cc878" opacity="0.51"/>
<ellipse cx="337.1" cy="97.6" rx="3.8" ry="1.7" transform="rotate(-8 337.1 97.6)" fill="#c8c020" opacity="0.50"/>
<ellipse cx="325.1" cy="98.8" rx="3.2" ry="1.1" transform="rotate(22 325.1 98.8)" fill="#c8c020" opacity="0.89"/>
<ellipse cx="338.1" cy="106.0" rx="2.9" ry="1.6" transform="rotate(28 338.1 106.0)" fill="#c8c020" opacity="0.88"/>
<ellipse cx="367.6" cy="114.7" rx="4.4" ry="1.8" transform="rotate(-2 367.6 114.7)" fill="#88c828" opacity="0.56"/>
<ellipse cx="337.5" cy="88.8" rx="2.6" ry="1.2" transform="rotate(-15 337.5 88.8)" fill="#d0b020" opacity="0.50"/>
<ellipse cx="322.2" cy="71.5" rx="3.8" ry="1.2" transform="rotate(11 322.2 71.5)" fill="#2cc878" opacity="0.65"/>
<ellipse cx="323.5" cy="102.7" rx="2.9" ry="2.2" transform="rotate(-1 323.5 102.7)" fill="#88c828" opacity="0.74"/>
<ellipse cx="363.7" cy="62.4" rx="3.5" ry="1.5" transform="rotate(-4 363.7 62.4)" fill="#c8c020" opacity="0.70"/>
<ellipse cx="329.9" cy="83.8" rx="2.4" ry="1.7" transform="rotate(2 329.9 83.8)" fill="#c8c020" opacity="0.52"/>
<ellipse cx="312.2" cy="79.1" rx="3.4" ry="1.7" transform="rotate(-8 312.2 79.1)" fill="#30c060" opacity="0.81"/>
<ellipse cx="311.9" cy="90.0" rx="2.5" ry="2.2" transform="rotate(-5 311.9 90.0)" fill="#2cc878" opacity="0.90"/>
<ellipse cx="375.7" cy="77.4" rx="4.6" ry="2.1" transform="rotate(-19 375.7 77.4)" fill="#88c828" opacity="0.62"/>
<ellipse cx="339.3" cy="103.4" rx="2.9" ry="1.6" transform="rotate(3 339.3 103.4)" fill="#c8c020" opacity="0.77"/>
<ellipse cx="346.6" cy="130.6" rx="2.0" ry="1.7" transform="rotate(14 346.6 130.6)" fill="#a4cc20" opacity="0.86"/>
<ellipse cx="317.3" cy="119.7" rx="4.3" ry="1.5" transform="rotate(9 317.3 119.7)" fill="#d0b020" opacity="0.88"/>
<ellipse cx="385.6" cy="82.8" rx="4.5" ry="1.6" transform="rotate(14 385.6 82.8)" fill="#d0b020" opacity="0.58"/>
<ellipse cx="355.9" cy="69.9" rx="2.2" ry="2.0" transform="rotate(15 355.9 69.9)" fill="#30c060" opacity="0.73"/>
<ellipse cx="358.0" cy="102.8" rx="2.9" ry="1.2" transform="rotate(15 358.0 102.8)" fill="#30c060" opacity="0.89"/>
<ellipse cx="346.0" cy="99.3" rx="3.6" ry="1.1" transform="rotate(17 346.0 99.3)" fill="#c8c020" opacity="0.83"/>
<ellipse cx="382.9" cy="99.5" rx="2.1" ry="1.9" transform="rotate(29 382.9 99.5)" fill="#30c060" opacity="0.78"/>
<ellipse cx="337.2" cy="59.4" rx="2.7" ry="1.8" transform="rotate(28 337.2 59.4)" fill="#d0b020" opacity="0.86"/>
<ellipse cx="401.9" cy="106.2" rx="3.3" ry="1.2" transform="rotate(-11 401.9 106.2)" fill="#88c828" opacity="0.53"/>
<ellipse cx="329.8" cy="77.0" rx="4.0" ry="1.9" transform="rotate(-6 329.8 77.0)" fill="#2cc878" opacity="0.73"/>
<ellipse cx="394.4" cy="85.5" rx="2.4" ry="1.5" transform="rotate(-4 394.4 85.5)" fill="#2cc878" opacity="0.70"/>
<ellipse cx="348.0" cy="79.7" rx="4.7" ry="1.2" transform="rotate(-5 348.0 79.7)" fill="#2cc878" opacity="0.75"/>
<ellipse cx="378.1" cy="74.7" rx="3.7" ry="1.7" transform="rotate(-7 378.1 74.7)" fill="#2cc878" opacity="0.59"/>
<ellipse cx="359.0" cy="123.2" rx="4.9" ry="2.0" transform="rotate(23 359.0 123.2)" fill="#30c060" opacity="0.79"/>
<ellipse cx="338.3" cy="69.5" rx="4.0" ry="1.1" transform="rotate(13 338.3 69.5)" fill="#a4cc20" opacity="0.85"/>
<ellipse cx="345.5" cy="96.3" rx="3.2" ry="1.6" transform="rotate(28 345.5 96.3)" fill="#a4cc20" opacity="0.82"/>
<ellipse cx="327.4" cy="62.4" rx="2.2" ry="1.2" transform="rotate(28 327.4 62.4)" fill="#d0b020" opacity="0.82"/>
<ellipse cx="338.2" cy="129.4" rx="4.7" ry="1.6" transform="rotate(-9 338.2 129.4)" fill="#d0b020" opacity="0.75"/>
<ellipse cx="318.0" cy="97.7" rx="3.0" ry="1.7" transform="rotate(-3 318.0 97.7)" fill="#30c060" opacity="0.65"/>
<ellipse cx="355.7" cy="112.8" rx="2.9" ry="1.8" transform="rotate(28 355.7 112.8)" fill="#c8c020" opacity="0.71"/>
<ellipse cx="360.8" cy="94.9" rx="4.2" ry="1.5" transform="rotate(-15 360.8 94.9)" fill="#a4cc20" opacity="0.57"/>
<ellipse cx="323.7" cy="78.7" rx="4.8" ry="1.8" transform="rotate(-3 323.7 78.7)" fill="#30c060" opacity="0.69"/>
<ellipse cx="387.5" cy="106.6" rx="3.3" ry="1.6" transform="rotate(-15 387.5 106.6)" fill="#88c828" opacity="0.76"/>
<ellipse cx="340.9" cy="59.4" rx="4.6" ry="1.6" transform="rotate(8 340.9 59.4)" fill="#a4cc20" opacity="0.61"/>
<ellipse cx="306.6" cy="84.4" rx="2.7" ry="1.6" transform="rotate(-18 306.6 84.4)" fill="#c8c020" opacity="0.63"/>
<ellipse cx="279.7" cy="87.4" rx="3.4" ry="2.0" transform="rotate(-12 279.7 87.4)" fill="#d0b020" opacity="0.63"/>
<ellipse cx="326.2" cy="103.4" rx="5.0" ry="1.0" transform="rotate(16 326.2 103.4)" fill="#2cc878" opacity="0.59"/>
<ellipse cx="308.2" cy="75.7" rx="4.9" ry="1.4" transform="rotate(-4 308.2 75.7)" fill="#30c060" opacity="0.64"/>
<ellipse cx="349.4" cy="55.0" rx="3.4" ry="1.9" transform="rotate(-11 349.4 55.0)" fill="#88c828" opacity="0.88"/>
<ellipse cx="354.9" cy="104.8" rx="4.9" ry="1.0" transform="rotate(-17 354.9 104.8)" fill="#d0b020" opacity="0.66"/>
<ellipse cx="316.1" cy="69.0" rx="5.0" ry="1.6" transform="rotate(-2 316.1 69.0)" fill="#a4cc20" opacity="0.79"/>
<ellipse cx="349.3" cy="68.5" rx="2.3" ry="1.6" transform="rotate(14 349.3 68.5)" fill="#d0b020" opacity="0.52"/>
<ellipse cx="309.0" cy="107.9" rx="2.8" ry="1.5" transform="rotate(-5 309.0 107.9)" fill="#a4cc20" opacity="0.85"/>
<ellipse cx="361.8" cy="135.4" rx="4.1" ry="1.8" transform="rotate(-11 361.8 135.4)" fill="#88c828" opacity="0.53"/>
<ellipse cx="305.8" cy="100.6" rx="3.6" ry="2.1" transform="rotate(10 305.8 100.6)" fill="#d0b020" opacity="0.59"/>
<ellipse cx="313.3" cy="67.9" rx="3.5" ry="1.7" transform="rotate(-1 313.3 67.9)" fill="#d0b020" opacity="0.55"/>
<ellipse cx="328.3" cy="60.7" rx="4.1" ry="2.1" transform="rotate(30 328.3 60.7)" fill="#2cc878" opacity="0.55"/>
<ellipse cx="304.2" cy="101.3" rx="4.3" ry="2.0" transform="rotate(-4 304.2 101.3)" fill="#88c828" opacity="0.71"/>
<ellipse cx="360.2" cy="83.2" rx="4.4" ry="2.2" transform="rotate(13 360.2 83.2)" fill="#c8c020" opacity="0.52"/>
<ellipse cx="331.8" cy="128.2" rx="2.6" ry="1.3" transform="rotate(-1 331.8 128.2)" fill="#a4cc20" opacity="0.53"/>
<ellipse cx="360.9" cy="114.2" rx="4.3" ry="1.0" transform="rotate(-6 360.9 114.2)" fill="#88c828" opacity="0.73"/>
<ellipse cx="366.4" cy="76.5" rx="4.0" ry="2.1" transform="rotate(16 366.4 76.5)" fill="#d0b020" opacity="0.67"/>
<ellipse cx="339.2" cy="63.0" rx="3.7" ry="1.4" transform="rotate(-5 339.2 63.0)" fill="#88c828" opacity="0.61"/>
<ellipse cx="346.8" cy="114.1" rx="2.2" ry="1.9" transform="rotate(8 346.8 114.1)" fill="#a4cc20" opacity="0.55"/>
<ellipse cx="408.6" cy="97.6" rx="3.3" ry="1.3" transform="rotate(28 408.6 97.6)" fill="#a4cc20" opacity="0.59"/>
<ellipse cx="271.4" cy="48.3" rx="3.6" ry="2.1" transform="rotate(1 271.4 48.3)" fill="#2cdcd0"/>
<ellipse cx="271.7" cy="48.7" rx="2.6" ry="1.4" transform="rotate(1 271.7 48.7)" fill="#2850ec"/>
<ellipse cx="287.9" cy="49.3" rx="3.6" ry="2.1" transform="rotate(-13 287.9 49.3)" fill="#2cdcd0"/>
<ellipse cx="288.2" cy="49.7" rx="2.6" ry="1.4" transform="rotate(-13 288.2 49.7)" fill="#2850ec"/>
<ellipse cx="287.1" cy="49.0" rx="1.4" ry="0.7" transform="rotate(-13 287.1 49.0)" fill="#b828c8"/>
<ellipse cx="302.5" cy="52.8" rx="5.1" ry="3.0" transform="rotate(7 302.5 52.8)" fill="#2cdcd0"/>
<ellipse cx="302.8" cy="53.2" rx="3.7" ry="2.0" transform="rotate(7 302.8 53.2)" fill="#2850ec"/>
<ellipse cx="301.7" cy="52.5" rx="2.0" ry="1.0" transform="rotate(7 301.7 52.5)" fill="#b828c8"/>
<ellipse cx="317.5" cy="54.3" rx="5.1" ry="3.0" transform="rotate(-3 317.5 54.3)" fill="#2cdcd0"/>
<ellipse cx="317.8" cy="54.7" rx="3.7" ry="2.0" transform="rotate(-3 317.8 54.7)" fill="#2850ec"/>
<ellipse cx="316.7" cy="54.0" rx="2.0" ry="1.0" transform="rotate(-3 316.7 54.0)" fill="#b828c8"/>
<ellipse cx="333.3" cy="55.5" rx="5.1" ry="3.0" transform="rotate(12 333.3 55.5)" fill="#2cdcd0"/>
<ellipse cx="333.6" cy="55.9" rx="3.7" ry="2.0" transform="rotate(12 333.6 55.9)" fill="#2850ec"/>
<ellipse cx="332.5" cy="55.2" rx="2.0" ry="1.0" transform="rotate(12 332.5 55.2)" fill="#b828c8"/>
<ellipse cx="350.3" cy="56.6" rx="5.1" ry="3.0" transform="rotate(-15 350.3 56.6)" fill="#2cdcd0"/>
<ellipse cx="350.6" cy="57.0" rx="3.7" ry="2.0" transform="rotate(-15 350.6 57.0)" fill="#2850ec"/>
<ellipse cx="364.0" cy="56.8" rx="5.1" ry="3.0" transform="rotate(13 364.0 56.8)" fill="#2cdcd0"/>
<ellipse cx="364.3" cy="57.2" rx="3.7" ry="2.0" transform="rotate(13 364.3 57.2)" fill="#2850ec"/>
<ellipse cx="363.2" cy="56.5" rx="2.0" ry="1.0" transform="rotate(13 363.2 56.5)" fill="#b828c8"/>
<ellipse cx="379.9" cy="59.4" rx="5.1" ry="3.0" transform="rotate(10 379.9 59.4)" fill="#2cdcd0"/>
<ellipse cx="380.2" cy="59.8" rx="3.7" ry="2.0" transform="rotate(10 380.2 59.8)" fill="#2850ec"/>
<ellipse cx="379.1" cy="59.1" rx="2.0" ry="1.0" transform="rotate(10 379.1 59.1)" fill="#b828c8"/>
<ellipse cx="394.2" cy="60.5" rx="5.1" ry="3.0" transform="rotate(-12 394.2 60.5)" fill="#2cdcd0"/>
<ellipse cx="394.5" cy="60.9" rx="3.7" ry="2.0" transform="rotate(-12 394.5 60.9)" fill="#2850ec"/>
<ellipse cx="393.4" cy="60.2" rx="2.0" ry="1.0" transform="rotate(-12 393.4 60.2)" fill="#b828c8"/>
<ellipse cx="410.0" cy="63.1" rx="5.1" ry="3.0" transform="rotate(-10 410.0 63.1)" fill="#2cdcd0"/>
<ellipse cx="410.3" cy="63.5" rx="3.7" ry="2.0" transform="rotate(-10 410.3 63.5)" fill="#2850ec"/>
<ellipse cx="409.2" cy="62.8" rx="2.0" ry="1.0" transform="rotate(-10 409.2 62.8)" fill="#b828c8"/>
<ellipse cx="425.1" cy="65.2" rx="5.1" ry="3.0" transform="rotate(9 425.1 65.2)" fill="#2cdcd0"/>
<ellipse cx="425.4" cy="65.6" rx="3.7" ry="2.0" transform="rotate(9 425.4 65.6)" fill="#2850ec"/>
<ellipse cx="280.0" cy="57.7" rx="5.5" ry="3.2" transform="rotate(-2 280.0 57.7)" fill="#2cdcd0"/>
<ellipse cx="280.3" cy="58.1" rx="3.9" ry="2.1" transform="rotate(-2 280.3 58.1)" fill="#2850ec"/>
<ellipse cx="279.2" cy="57.4" rx="2.1" ry="1.0" transform="rotate(-2 279.2 57.4)" fill="#b828c8"/>
<ellipse cx="295.4" cy="59.2" rx="5.5" ry="3.2" transform="rotate(11 295.4 59.2)" fill="#2cdcd0"/>
<ellipse cx="295.7" cy="59.6" rx="3.9" ry="2.1" transform="rotate(11 295.7 59.6)" fill="#2850ec"/>
<ellipse cx="294.6" cy="58.9" rx="2.1" ry="1.0" transform="rotate(11 294.6 58.9)" fill="#b828c8"/>
<ellipse cx="313.4" cy="61.3" rx="5.5" ry="3.2" transform="rotate(4 313.4 61.3)" fill="#2cdcd0"/>
<ellipse cx="313.7" cy="61.7" rx="3.9" ry="2.1" transform="rotate(4 313.7 61.7)" fill="#2850ec"/>
<ellipse cx="329.0" cy="64.1" rx="5.5" ry="3.2" transform="rotate(-6 329.0 64.1)" fill="#2cdcd0"/>
<ellipse cx="329.3" cy="64.5" rx="3.9" ry="2.1" transform="rotate(-6 329.3 64.5)" fill="#2850ec"/>
<ellipse cx="328.2" cy="63.8" rx="2.1" ry="1.0" transform="rotate(-6 328.2 63.8)" fill="#b828c8"/>
<ellipse cx="344.8" cy="65.2" rx="5.5" ry="3.2" transform="rotate(-12 344.8 65.2)" fill="#2cdcd0"/>
<ellipse cx="345.1" cy="65.6" rx="3.9" ry="2.1" transform="rotate(-12 345.1 65.6)" fill="#2850ec"/>
<ellipse cx="344.0" cy="64.9" rx="2.1" ry="1.0" transform="rotate(-12 344.0 64.9)" fill="#b828c8"/>
<ellipse cx="360.3" cy="65.5" rx="5.5" ry="3.2" transform="rotate(-8 360.3 65.5)" fill="#2cdcd0"/>
<ellipse cx="360.6" cy="65.9" rx="3.9" ry="2.1" transform="rotate(-8 360.6 65.9)" fill="#2850ec"/>
<ellipse cx="359.5" cy="65.2" rx="2.1" ry="1.0" transform="rotate(-8 359.5 65.2)" fill="#b828c8"/>
<ellipse cx="376.9" cy="68.7" rx="5.5" ry="3.2" transform="rotate(-5 376.9 68.7)" fill="#2cdcd0"/>
<ellipse cx="377.2" cy="69.1" rx="3.9" ry="2.1" transform="rotate(-5 377.2 69.1)" fill="#2850ec"/>
<ellipse cx="394.0" cy="70.8" rx="5.5" ry="3.2" transform="rotate(4 394.0 70.8)" fill="#2cdcd0"/>
<ellipse cx="394.3" cy="71.2" rx="3.9" ry="2.1" transform="rotate(4 394.3 71.2)" fill="#2850ec"/>
<ellipse cx="393.2" cy="70.5" rx="2.1" ry="1.0" transform="rotate(4 393.2 70.5)" fill="#b828c8"/>
<ellipse cx="409.3" cy="72.2" rx="5.5" ry="3.2" transform="rotate(-6 409.3 72.2)" fill="#2cdcd0"/>
<ellipse cx="409.6" cy="72.6" rx="3.9" ry="2.1" transform="rotate(-6 409.6 72.6)" fill="#2850ec"/>
<ellipse cx="408.5" cy="71.9" rx="2.1" ry="1.0" transform="rotate(-6 408.5 71.9)" fill="#b828c8"/>
<ellipse cx="425.8" cy="73.1" rx="5.5" ry="3.2" transform="rotate(-9 425.8 73.1)" fill="#2cdcd0"/>
<ellipse cx="426.1" cy="73.5" rx="3.9" ry="2.1" transform="rotate(-9 426.1 73.5)" fill="#2850ec"/>
<ellipse cx="425.0" cy="72.8" rx="2.1" ry="1.0" transform="rotate(-9 425.0 72.8)" fill="#b828c8"/>
<ellipse cx="270.7" cy="67.3" rx="5.8" ry="3.4" transform="rotate(5 270.7 67.3)" fill="#2cdcd0"/>
<ellipse cx="271.0" cy="67.7" rx="4.1" ry="2.2" transform="rotate(5 271.0 67.7)" fill="#2850ec"/>
<ellipse cx="269.9" cy="67.0" rx="2.2" ry="1.1" transform="rotate(5 269.9 67.0)" fill="#b828c8"/>
<ellipse cx="289.3" cy="68.2" rx="5.8" ry="3.4" transform="rotate(-16 289.3 68.2)" fill="#2cdcd0"/>
<ellipse cx="289.6" cy="68.6" rx="4.1" ry="2.2" transform="rotate(-16 289.6 68.6)" fill="#2850ec"/>
<ellipse cx="305.4" cy="71.5" rx="5.8" ry="3.4" transform="rotate(11 305.4 71.5)" fill="#2cdcd0"/>
<ellipse cx="305.7" cy="71.9" rx="4.1" ry="2.2" transform="rotate(11 305.7 71.9)" fill="#2850ec"/>
<ellipse cx="304.6" cy="71.2" rx="2.2" ry="1.1" transform="rotate(11 304.6 71.2)" fill="#b828c8"/>
<ellipse cx="322.8" cy="72.7" rx="5.8" ry="3.4" transform="rotate(2 322.8 72.7)" fill="#2cdcd0"/>
<ellipse cx="323.1" cy="73.1" rx="4.1" ry="2.2" transform="rotate(2 323.1 73.1)" fill="#2850ec"/>
<ellipse cx="322.0" cy="72.4" rx="2.2" ry="1.1" transform="rotate(2 322.0 72.4)" fill="#b828c8"/>
<ellipse cx="338.6" cy="74.8" rx="5.8" ry="3.4" transform="rotate(-10 338.6 74.8)" fill="#2cdcd0"/>
<ellipse cx="338.9" cy="75.2" rx="4.1" ry="2.2" transform="rotate(-10 338.9 75.2)" fill="#2850ec"/>
<ellipse cx="355.6" cy="75.2" rx="5.8" ry="3.4" transform="rotate(-18 355.6 75.2)" fill="#2cdcd0"/>
<ellipse cx="355.9" cy="75.6" rx="4.1" ry="2.2" transform="rotate(-18 355.9 75.6)" fill="#2850ec"/>
<ellipse cx="354.8" cy="74.9" rx="2.2" ry="1.1" transform="rotate(-18 354.8 74.9)" fill="#b828c8"/>
<ellipse cx="371.3" cy="77.5" rx="5.8" ry="3.4" transform="rotate(11 371.3 77.5)" fill="#2cdcd0"/>
<ellipse cx="371.6" cy="77.9" rx="4.1" ry="2.2" transform="rotate(11 371.6 77.9)" fill="#2850ec"/>
<ellipse cx="389.5" cy="78.6" rx="5.8" ry="3.4" transform="rotate(-15 389.5 78.6)" fill="#2cdcd0"/>
<ellipse cx="389.8" cy="79.0" rx="4.1" ry="2.2" transform="rotate(-15 389.8 79.0)" fill="#2850ec"/>
<ellipse cx="388.7" cy="78.3" rx="2.2" ry="1.1" transform="rotate(-15 388.7 78.3)" fill="#b828c8"/>
<ellipse cx="406.2" cy="81.1" rx="5.8" ry="3.4" transform="rotate(-6 406.2 81.1)" fill="#2cdcd0"/>
<ellipse cx="406.5" cy="81.5" rx="4.1" ry="2.2" transform="rotate(-6 406.5 81.5)" fill="#2850ec"/>
<ellipse cx="422.0" cy="81.8" rx="5.8" ry="3.4" transform="rotate(-9 422.0 81.8)" fill="#2cdcd0"/>
<ellipse cx="422.3" cy="82.2" rx="4.1" ry="2.2" transform="rotate(-9 422.3 82.2)" fill="#2850ec"/>
<ellipse cx="421.2" cy="81.5" rx="2.2" ry="1.1" transform="rotate(-9 421.2 81.5)" fill="#b828c8"/>
<ellipse cx="280.6" cy="78.3" rx="6.2" ry="3.6" transform="rotate(-11 280.6 78.3)" fill="#2cdcd0"/>
<ellipse cx="280.9" cy="78.7" rx="4.4" ry="2.4" transform="rotate(-11 280.9 78.7)" fill="#2850ec"/>
<ellipse cx="279.8" cy="78.0" rx="2.4" ry="1.1" transform="rotate(-11 279.8 78.0)" fill="#b828c8"/>
<ellipse cx="299.4" cy="80.5" rx="6.2" ry="3.6" transform="rotate(5 299.4 80.5)" fill="#2cdcd0"/>
<ellipse cx="299.7" cy="80.9" rx="4.4" ry="2.4" transform="rotate(5 299.7 80.9)" fill="#2850ec"/>
<ellipse cx="298.6" cy="80.2" rx="2.4" ry="1.1" transform="rotate(5 298.6 80.2)" fill="#b828c8"/>
<ellipse cx="316.7" cy="81.6" rx="6.2" ry="3.6" transform="rotate(11 316.7 81.6)" fill="#2cdcd0"/>
<ellipse cx="317.0" cy="82.0" rx="4.4" ry="2.4" transform="rotate(11 317.0 82.0)" fill="#2850ec"/>
<ellipse cx="315.9" cy="81.3" rx="2.4" ry="1.1" transform="rotate(11 315.9 81.3)" fill="#b828c8"/>
<ellipse cx="333.9" cy="83.5" rx="6.2" ry="3.6" transform="rotate(13 333.9 83.5)" fill="#2cdcd0"/>
<ellipse cx="334.2" cy="83.9" rx="4.4" ry="2.4" transform="rotate(13 334.2 83.9)" fill="#2850ec"/>
<ellipse cx="333.1" cy="83.2" rx="2.4" ry="1.1" transform="rotate(13 333.1 83.2)" fill="#b828c8"/>
<ellipse cx="350.7" cy="84.1" rx="6.2" ry="3.6" transform="rotate(0 350.7 84.1)" fill="#2cdcd0"/>
<ellipse cx="351.0" cy="84.5" rx="4.4" ry="2.4" transform="rotate(0 351.0 84.5)" fill="#2850ec"/>
<ellipse cx="349.9" cy="83.8" rx="2.4" ry="1.1" transform="rotate(0 349.9 83.8)" fill="#b828c8"/>
<ellipse cx="368.8" cy="86.1" rx="6.2" ry="3.6" transform="rotate(1 368.8 86.1)" fill="#2cdcd0"/>
<ellipse cx="369.1" cy="86.5" rx="4.4" ry="2.4" transform="rotate(1 369.1 86.5)" fill="#2850ec"/>
<ellipse cx="368.0" cy="85.8" rx="2.4" ry="1.1" transform="rotate(1 368.0 85.8)" fill="#b828c8"/>
<ellipse cx="388.0" cy="89.1" rx="6.2" ry="3.6" transform="rotate(-16 388.0 89.1)" fill="#2cdcd0"/>
<ellipse cx="388.3" cy="89.5" rx="4.4" ry="2.4" transform="rotate(-16 388.3 89.5)" fill="#2850ec"/>
<ellipse cx="387.2" cy="88.8" rx="2.4" ry="1.1" transform="rotate(-16 387.2 88.8)" fill="#b828c8"/>
<ellipse cx="406.1" cy="91.4" rx="6.2" ry="3.6" transform="rotate(-8 406.1 91.4)" fill="#2cdcd0"/>
<ellipse cx="406.4" cy="91.8" rx="4.4" ry="2.4" transform="rotate(-8 406.4 91.8)" fill="#2850ec"/>
<ellipse cx="423.1" cy="93.1" rx="6.2" ry="3.6" transform="rotate(-11 423.1 93.1)" fill="#2cdcd0"/>
<ellipse cx="423.4" cy="93.5" rx="4.4" ry="2.4" transform="rotate(-11 423.4 93.5)" fill="#2850ec"/>
<ellipse cx="422.3" cy="92.8" rx="2.4" ry="1.1" transform="rotate(-11 422.3 92.8)" fill="#b828c8"/>
<ellipse cx="272.6" cy="86.4" rx="4.6" ry="2.7" transform="rotate(-13 272.6 86.4)" fill="#2cdcd0"/>
<ellipse cx="272.9" cy="86.8" rx="3.3" ry="1.8" transform="rotate(-13 272.9 86.8)" fill="#2850ec"/>
<ellipse cx="271.8" cy="86.1" rx="1.8" ry="0.8" transform="rotate(-13 271.8 86.1)" fill="#b828c8"/>
<ellipse cx="290.1" cy="89.5" rx="4.6" ry="2.7" transform="rotate(6 290.1 89.5)" fill="#2cdcd0"/>
<ellipse cx="290.4" cy="89.9" rx="3.3" ry="1.8" transform="rotate(6 290.4 89.9)" fill="#2850ec"/>
<ellipse cx="289.3" cy="89.2" rx="1.8" ry="0.8" transform="rotate(6 289.3 89.2)" fill="#b828c8"/>
<ellipse cx="310.5" cy="91.8" rx="6.5" ry="3.8" transform="rotate(5 310.5 91.8)" fill="#2cdcd0"/>
<ellipse cx="310.8" cy="92.2" rx="4.7" ry="2.5" transform="rotate(5 310.8 92.2)" fill="#2850ec"/>
<ellipse cx="329.4" cy="93.2" rx="6.5" ry="3.8" transform="rotate(13 329.4 93.2)" fill="#2cdcd0"/>
<ellipse cx="329.7" cy="93.6" rx="4.7" ry="2.5" transform="rotate(13 329.7 93.6)" fill="#2850ec"/>
<ellipse cx="328.6" cy="92.9" rx="2.5" ry="1.2" transform="rotate(13 328.6 92.9)" fill="#b828c8"/>
<ellipse cx="345.3" cy="93.7" rx="6.5" ry="3.8" transform="rotate(-11 345.3 93.7)" fill="#2cdcd0"/>
<ellipse cx="345.6" cy="94.1" rx="4.7" ry="2.5" transform="rotate(-11 345.6 94.1)" fill="#2850ec"/>
<ellipse cx="344.5" cy="93.4" rx="2.5" ry="1.2" transform="rotate(-11 344.5 93.4)" fill="#b828c8"/>
<ellipse cx="364.8" cy="97.1" rx="6.5" ry="3.8" transform="rotate(6 364.8 97.1)" fill="#2cdcd0"/>
<ellipse cx="365.1" cy="97.5" rx="4.7" ry="2.5" transform="rotate(6 365.1 97.5)" fill="#2850ec"/>
<ellipse cx="364.0" cy="96.8" rx="2.5" ry="1.2" transform="rotate(6 364.0 96.8)" fill="#b828c8"/>
<ellipse cx="383.1" cy="98.6" rx="6.5" ry="3.8" transform="rotate(-6 383.1 98.6)" fill="#2cdcd0"/>
<ellipse cx="383.4" cy="99.0" rx="4.7" ry="2.5" transform="rotate(-6 383.4 99.0)" fill="#2850ec"/>
<ellipse cx="382.3" cy="98.3" rx="2.5" ry="1.2" transform="rotate(-6 382.3 98.3)" fill="#b828c8"/>
<ellipse cx="402.1" cy="100.0" rx="6.5" ry="3.8" transform="rotate(4 402.1 100.0)" fill="#2cdcd0"/>
<ellipse cx="402.4" cy="100.4" rx="4.7" ry="2.5" transform="rotate(4 402.4 100.4)" fill="#2850ec"/>
<ellipse cx="401.3" cy="99.7" rx="2.5" ry="1.2" transform="rotate(4 401.3 99.7)" fill="#b828c8"/>
<ellipse cx="421.7" cy="103.2" rx="6.5" ry="3.8" transform="rotate(-16 421.7 103.2)" fill="#2cdcd0"/>
<ellipse cx="422.0" cy="103.6" rx="4.7" ry="2.5" transform="rotate(-16 422.0 103.6)" fill="#2850ec"/>
<ellipse cx="281.5" cy="98.2" rx="4.8" ry="2.8" transform="rotate(-7 281.5 98.2)" fill="#2cdcd0"/>
<ellipse cx="281.8" cy="98.6" rx="3.5" ry="1.9" transform="rotate(-7 281.8 98.6)" fill="#2850ec"/>
<ellipse cx="280.7" cy="97.9" rx="1.9" ry="0.9" transform="rotate(-7 280.7 97.9)" fill="#b828c8"/>
<ellipse cx="302.7" cy="100.8" rx="6.9" ry="4.0" transform="rotate(-9 302.7 100.8)" fill="#2cdcd0"/>
<ellipse cx="303.0" cy="101.2" rx="4.9" ry="2.7" transform="rotate(-9 303.0 101.2)" fill="#2850ec"/>
<ellipse cx="301.9" cy="100.5" rx="2.7" ry="1.3" transform="rotate(-9 301.9 100.5)" fill="#b828c8"/>
<ellipse cx="321.3" cy="103.7" rx="6.9" ry="4.0" transform="rotate(0 321.3 103.7)" fill="#2cdcd0"/>
<ellipse cx="321.6" cy="104.1" rx="4.9" ry="2.7" transform="rotate(0 321.6 104.1)" fill="#2850ec"/>
<ellipse cx="320.5" cy="103.4" rx="2.7" ry="1.3" transform="rotate(0 320.5 103.4)" fill="#b828c8"/>
<ellipse cx="339.5" cy="105.8" rx="6.9" ry="4.0" transform="rotate(-1 339.5 105.8)" fill="#2cdcd0"/>
<ellipse cx="339.8" cy="106.2" rx="4.9" ry="2.7" transform="rotate(-1 339.8 106.2)" fill="#2850ec"/>
<ellipse cx="338.7" cy="105.5" rx="2.7" ry="1.3" transform="rotate(-1 338.7 105.5)" fill="#b828c8"/>
<ellipse cx="359.1" cy="106.2" rx="6.9" ry="4.0" transform="rotate(3 359.1 106.2)" fill="#2cdcd0"/>
<ellipse cx="359.4" cy="106.6" rx="4.9" ry="2.7" transform="rotate(3 359.4 106.6)" fill="#2850ec"/>
<ellipse cx="358.3" cy="105.9" rx="2.7" ry="1.3" transform="rotate(3 358.3 105.9)" fill="#b828c8"/>
<ellipse cx="377.9" cy="107.8" rx="6.9" ry="4.0" transform="rotate(-3 377.9 107.8)" fill="#2cdcd0"/>
<ellipse cx="378.2" cy="108.2" rx="4.9" ry="2.7" transform="rotate(-3 378.2 108.2)" fill="#2850ec"/>
<ellipse cx="398.1" cy="110.4" rx="6.9" ry="4.0" transform="rotate(12 398.1 110.4)" fill="#2cdcd0"/>
<ellipse cx="398.4" cy="110.8" rx="4.9" ry="2.7" transform="rotate(12 398.4 110.8)" fill="#2850ec"/>
<ellipse cx="397.3" cy="110.1" rx="2.7" ry="1.3" transform="rotate(12 397.3 110.1)" fill="#b828c8"/>
<ellipse cx="416.8" cy="113.4" rx="6.9" ry="4.0" transform="rotate(-18 416.8 113.4)" fill="#2cdcd0"/>
<ellipse cx="417.1" cy="113.8" rx="4.9" ry="2.7" transform="rotate(-18 417.1 113.8)" fill="#2850ec"/>
<ellipse cx="270.3" cy="108.8" rx="5.1" ry="3.0" transform="rotate(-6 270.3 108.8)" fill="#2cdcd0"/>
<ellipse cx="270.6" cy="109.2" rx="3.7" ry="2.0" transform="rotate(-6 270.6 109.2)" fill="#2850ec"/>
<ellipse cx="269.5" cy="108.5" rx="2.0" ry="1.0" transform="rotate(-6 269.5 108.5)" fill="#b828c8"/>
<ellipse cx="290.6" cy="110.7" rx="7.3" ry="4.3" transform="rotate(-4 290.6 110.7)" fill="#2cdcd0"/>
<ellipse cx="290.9" cy="111.1" rx="5.2" ry="2.8" transform="rotate(-4 290.9 111.1)" fill="#2850ec"/>
<ellipse cx="289.8" cy="110.4" rx="2.8" ry="1.4" transform="rotate(-4 289.8 110.4)" fill="#b828c8"/>
<ellipse cx="310.9" cy="112.9" rx="7.3" ry="4.3" transform="rotate(13 310.9 112.9)" fill="#2cdcd0"/>
<ellipse cx="311.2" cy="113.3" rx="5.2" ry="2.8" transform="rotate(13 311.2 113.3)" fill="#2850ec"/>
<ellipse cx="310.1" cy="112.6" rx="2.8" ry="1.4" transform="rotate(13 310.1 112.6)" fill="#b828c8"/>
<ellipse cx="332.3" cy="114.4" rx="7.3" ry="4.3" transform="rotate(-5 332.3 114.4)" fill="#2cdcd0"/>
<ellipse cx="332.6" cy="114.8" rx="5.2" ry="2.8" transform="rotate(-5 332.6 114.8)" fill="#2850ec"/>
<ellipse cx="352.3" cy="117.7" rx="7.3" ry="4.3" transform="rotate(11 352.3 117.7)" fill="#2cdcd0"/>
<ellipse cx="352.6" cy="118.1" rx="5.2" ry="2.8" transform="rotate(11 352.6 118.1)" fill="#2850ec"/>
<ellipse cx="351.5" cy="117.4" rx="2.8" ry="1.4" transform="rotate(11 351.5 117.4)" fill="#b828c8"/>
<ellipse cx="373.1" cy="118.4" rx="7.3" ry="4.3" transform="rotate(-17 373.1 118.4)" fill="#2cdcd0"/>
<ellipse cx="373.4" cy="118.8" rx="5.2" ry="2.8" transform="rotate(-17 373.4 118.8)" fill="#2850ec"/>
<ellipse cx="392.7" cy="122.4" rx="7.3" ry="4.3" transform="rotate(8 392.7 122.4)" fill="#2cdcd0"/>
<ellipse cx="393.0" cy="122.8" rx="5.2" ry="2.8" transform="rotate(8 393.0 122.8)" fill="#2850ec"/>
<ellipse cx="412.7" cy="124.7" rx="7.3" ry="4.3" transform="rotate(6 412.7 124.7)" fill="#2cdcd0"/>
<ellipse cx="413.0" cy="125.1" rx="5.2" ry="2.8" transform="rotate(6 413.0 125.1)" fill="#2850ec"/>
<ellipse cx="282.7" cy="122.0" rx="7.7" ry="4.5" transform="rotate(14 282.7 122.0)" fill="#2cdcd0"/>
<ellipse cx="283.0" cy="122.4" rx="5.5" ry="3.0" transform="rotate(14 283.0 122.4)" fill="#2850ec"/>
<ellipse cx="281.9" cy="121.7" rx="3.0" ry="1.4" transform="rotate(14 281.9 121.7)" fill="#b828c8"/>
<ellipse cx="302.8" cy="123.8" rx="7.7" ry="4.5" transform="rotate(-3 302.8 123.8)" fill="#2cdcd0"/>
<ellipse cx="303.1" cy="124.2" rx="5.5" ry="3.0" transform="rotate(-3 303.1 124.2)" fill="#2850ec"/>
<ellipse cx="302.0" cy="123.5" rx="3.0" ry="1.4" transform="rotate(-3 302.0 123.5)" fill="#b828c8"/>
<ellipse cx="324.6" cy="125.5" rx="7.7" ry="4.5" transform="rotate(-13 324.6 125.5)" fill="#2cdcd0"/>
<ellipse cx="324.9" cy="125.9" rx="5.5" ry="3.0" transform="rotate(-13 324.9 125.9)" fill="#2850ec"/>
<ellipse cx="323.8" cy="125.2" rx="3.0" ry="1.4" transform="rotate(-13 323.8 125.2)" fill="#b828c8"/>
<ellipse cx="344.0" cy="128.3" rx="7.7" ry="4.5" transform="rotate(11 344.0 128.3)" fill="#2cdcd0"/>
<ellipse cx="344.3" cy="128.7" rx="5.5" ry="3.0" transform="rotate(11 344.3 128.7)" fill="#2850ec"/>
<ellipse cx="365.5" cy="129.5" rx="7.7" ry="4.5" transform="rotate(9 365.5 129.5)" fill="#2cdcd0"/>
<ellipse cx="365.8" cy="129.9" rx="5.5" ry="3.0" transform="rotate(9 365.8 129.9)" fill="#2850ec"/>
<ellipse cx="387.8" cy="131.9" rx="7.7" ry="4.5" transform="rotate(-10 387.8 131.9)" fill="#2cdcd0"/>
<ellipse cx="388.1" cy="132.3" rx="5.5" ry="3.0" transform="rotate(-10 388.1 132.3)" fill="#2850ec"/>
<ellipse cx="410.0" cy="133.8" rx="7.7" ry="4.5" transform="rotate(-12 410.0 133.8)" fill="#2cdcd0"/>
<ellipse cx="410.3" cy="134.2" rx="5.5" ry="3.0" transform="rotate(-12 410.3 134.2)" fill="#2850ec"/>
<ellipse cx="409.2" cy="133.5" rx="3.0" ry="1.4" transform="rotate(-12 409.2 133.5)" fill="#b828c8"/>
<ellipse cx="272.3" cy="133.2" rx="8.2" ry="4.8" transform="rotate(-13 272.3 133.2)" fill="#2cdcd0"/>
<ellipse cx="272.6" cy="133.6" rx="5.8" ry="3.2" transform="rotate(-13 272.6 133.6)" fill="#2850ec"/>
<ellipse cx="271.5" cy="132.9" rx="3.2" ry="1.5" transform="rotate(-13 271.5 132.9)" fill="#b828c8"/>
<ellipse cx="295.1" cy="136.2" rx="5.7" ry="3.4" transform="rotate(-14 295.1 136.2)" fill="#2cdcd0"/>
<ellipse cx="295.4" cy="136.6" rx="4.1" ry="2.2" transform="rotate(-14 295.4 136.6)" fill="#2850ec"/>
<ellipse cx="294.3" cy="135.9" rx="2.2" ry="1.1" transform="rotate(-14 294.3 135.9)" fill="#b828c8"/>
<ellipse cx="315.4" cy="137.6" rx="8.2" ry="4.8" transform="rotate(-3 315.4 137.6)" fill="#2cdcd0"/>
<ellipse cx="315.7" cy="138.0" rx="5.8" ry="3.2" transform="rotate(-3 315.7 138.0)" fill="#2850ec"/>
<ellipse cx="314.6" cy="137.3" rx="3.2" ry="1.5" transform="rotate(-3 314.6 137.3)" fill="#b828c8"/>
<ellipse cx="339.3" cy="139.5" rx="8.2" ry="4.8" transform="rotate(0 339.3 139.5)" fill="#2cdcd0"/>
<ellipse cx="339.6" cy="139.9" rx="5.8" ry="3.2" transform="rotate(0 339.6 139.9)" fill="#2850ec"/>
<ellipse cx="338.5" cy="139.2" rx="3.2" ry="1.5" transform="rotate(0 338.5 139.2)" fill="#b828c8"/>
<ellipse cx="360.1" cy="142.9" rx="8.2" ry="4.8" transform="rotate(-14 360.1 142.9)" fill="#2cdcd0"/>
<ellipse cx="360.4" cy="143.3" rx="5.8" ry="3.2" transform="rotate(-14 360.4 143.3)" fill="#2850ec"/>
<ellipse cx="359.3" cy="142.6" rx="3.2" ry="1.5" transform="rotate(-14 359.3 142.6)" fill="#b828c8"/>
<ellipse cx="382.7" cy="143.4" rx="8.2" ry="4.8" transform="rotate(7 382.7 143.4)" fill="#2cdcd0"/>
<ellipse cx="383.0" cy="143.8" rx="5.8" ry="3.2" transform="rotate(7 383.0 143.8)" fill="#2850ec"/>
<ellipse cx="381.9" cy="143.1" rx="3.2" ry="1.5" transform="rotate(7 381.9 143.1)" fill="#b828c8"/>
<ellipse cx="404.2" cy="147.0" rx="8.2" ry="4.8" transform="rotate(7 404.2 147.0)" fill="#2cdcd0"/>
<ellipse cx="404.5" cy="147.4" rx="5.8" ry="3.2" transform="rotate(7 404.5 147.4)" fill="#2850ec"/>
<ellipse cx="403.4" cy="146.7" rx="3.2" ry="1.5" transform="rotate(7 403.4 146.7)" fill="#b828c8"/>
<ellipse cx="426.3" cy="147.9" rx="8.2" ry="4.8" transform="rotate(-6 426.3 147.9)" fill="#2cdcd0"/>
<ellipse cx="426.6" cy="148.3" rx="5.8" ry="3.2" transform="rotate(-6 426.6 148.3)" fill="#2850ec"/>
<ellipse cx="425.5" cy="147.6" rx="3.2" ry="1.5" transform="rotate(-6 425.5 147.6)" fill="#b828c8"/>
</g></g>
<line x1="294.8" y1="90.2" x2="308.8" y2="74.5" stroke="#fff" stroke-width="1.6" stroke-linecap="square"/>
<polygon points="312.1,70.8 310.6,76.1 307.0,72.9" fill="#fff"/>
<line x1="294.8" y1="90.2" x2="310.3" y2="104.0" stroke="#fff" stroke-width="1.6" stroke-linecap="square"/>
<polygon points="314.0,107.3 308.7,105.8 311.9,102.2" fill="#fff"/>
<text transform="translate(308.3 81.6) rotate(125)" x="0" y="2.6" font-family="Liberation Sans, sans-serif" font-weight="bold" font-size="7.2" fill="#fff" text-anchor="middle">CD</text>
<text transform="translate(308.2 97.0) rotate(42)" x="0" y="2.7" font-family="Liberation Sans, sans-serif" font-weight="bold" font-size="7.6" fill="#fff" text-anchor="middle">MD</text>
<text x="391.5" y="143.2" font-family="Liberation Serif, serif" font-size="11.2" fill="#ececec" textLength="21.4" lengthAdjust="spacingAndGlyphs">TAD</text>
<rect x="472.3" y="46.0" width="174.3" height="109.9" rx="2.2" fill="#2005c5"/>
<rect x="476.8" y="51.1" width="165.4" height="100.6" fill="#000"/>
<g clip-path="url(#c3)"><g filter="url(#bl)">
<polygon points="470,40 650,40 650,160 470,160" fill="url(#g3)"/>
<ellipse cx="547.3" cy="98.7" rx="3.7" ry="1.7" transform="rotate(0 547.3 98.7)" fill="#2cc878" opacity="0.69"/>
<ellipse cx="556.5" cy="108.2" rx="7.7" ry="1.5" transform="rotate(11 556.5 108.2)" fill="#88c828" opacity="0.78"/>
<ellipse cx="572.9" cy="82.8" rx="3.8" ry="1.0" transform="rotate(2 572.9 82.8)" fill="#2cc878" opacity="0.85"/>
<ellipse cx="569.7" cy="144.5" rx="6.4" ry="1.6" transform="rotate(13 569.7 144.5)" fill="#c8c020" opacity="0.58"/>
<ellipse cx="558.7" cy="69.8" rx="7.4" ry="1.6" transform="rotate(14 558.7 69.8)" fill="#30c868" opacity="0.61"/>
<ellipse cx="564.1" cy="126.4" rx="7.4" ry="1.7" transform="rotate(1 564.1 126.4)" fill="#30c868" opacity="0.84"/>
<ellipse cx="509.1" cy="86.3" rx="6.7" ry="1.7" transform="rotate(14 509.1 86.3)" fill="#a4cc20" opacity="0.55"/>
<ellipse cx="596.4" cy="80.6" rx="4.0" ry="0.8" transform="rotate(1 596.4 80.6)" fill="#2cc878" opacity="0.87"/>
<ellipse cx="565.6" cy="91.8" rx="5.7" ry="1.0" transform="rotate(1 565.6 91.8)" fill="#88c828" opacity="0.76"/>
<ellipse cx="531.3" cy="71.5" rx="3.9" ry="1.4" transform="rotate(14 531.3 71.5)" fill="#a4cc20" opacity="0.61"/>
<ellipse cx="602.0" cy="87.1" rx="6.7" ry="1.5" transform="rotate(9 602.0 87.1)" fill="#a4cc20" opacity="0.55"/>
<ellipse cx="611.3" cy="83.2" rx="4.2" ry="1.4" transform="rotate(1 611.3 83.2)" fill="#c8c020" opacity="0.84"/>
<ellipse cx="566.8" cy="93.2" rx="6.4" ry="1.7" transform="rotate(2 566.8 93.2)" fill="#2cc878" opacity="0.65"/>
<ellipse cx="512.3" cy="91.7" rx="7.7" ry="1.5" transform="rotate(6 512.3 91.7)" fill="#2cc878" opacity="0.63"/>
<ellipse cx="532.7" cy="104.0" rx="5.2" ry="1.1" transform="rotate(1 532.7 104.0)" fill="#d0a820" opacity="0.61"/>
<ellipse cx="528.1" cy="116.0" rx="4.9" ry="1.4" transform="rotate(6 528.1 116.0)" fill="#c8c020" opacity="0.78"/>
<ellipse cx="556.5" cy="73.0" rx="5.1" ry="1.0" transform="rotate(14 556.5 73.0)" fill="#30c868" opacity="0.70"/>
<ellipse cx="603.5" cy="114.9" rx="3.7" ry="1.1" transform="rotate(10 603.5 114.9)" fill="#c8c020" opacity="0.51"/>
<ellipse cx="620.6" cy="100.4" rx="4.3" ry="1.0" transform="rotate(2 620.6 100.4)" fill="#88c828" opacity="0.50"/>
<ellipse cx="500.2" cy="82.8" rx="4.9" ry="1.4" transform="rotate(14 500.2 82.8)" fill="#c8c020" opacity="0.61"/>
<ellipse cx="541.7" cy="103.9" rx="7.8" ry="1.5" transform="rotate(4 541.7 103.9)" fill="#a4cc20" opacity="0.53"/>
<ellipse cx="571.2" cy="83.7" rx="6.8" ry="1.2" transform="rotate(13 571.2 83.7)" fill="#88c828" opacity="0.77"/>
<ellipse cx="548.1" cy="79.7" rx="6.0" ry="1.1" transform="rotate(14 548.1 79.7)" fill="#c8c020" opacity="0.71"/>
<ellipse cx="541.9" cy="73.6" rx="3.4" ry="1.6" transform="rotate(3 541.9 73.6)" fill="#a4cc20" opacity="0.58"/>
<ellipse cx="564.7" cy="89.6" rx="5.7" ry="0.9" transform="rotate(8 564.7 89.6)" fill="#2cc878" opacity="0.88"/>
<ellipse cx="596.2" cy="76.7" rx="3.1" ry="1.8" transform="rotate(13 596.2 76.7)" fill="#2cc878" opacity="0.62"/>
<ellipse cx="573.0" cy="90.0" rx="7.0" ry="1.7" transform="rotate(9 573.0 90.0)" fill="#c8c020" opacity="0.53"/>
<ellipse cx="508.9" cy="94.9" rx="3.5" ry="1.3" transform="rotate(1 508.9 94.9)" fill="#d0a820" opacity="0.79"/>
<ellipse cx="540.1" cy="127.1" rx="4.2" ry="1.3" transform="rotate(6 540.1 127.1)" fill="#d0a820" opacity="0.73"/>
<ellipse cx="540.3" cy="106.3" rx="6.1" ry="0.9" transform="rotate(1 540.3 106.3)" fill="#30c868" opacity="0.66"/>
<ellipse cx="499.4" cy="83.9" rx="6.0" ry="1.0" transform="rotate(1 499.4 83.9)" fill="#c8c020" opacity="0.75"/>
<ellipse cx="562.1" cy="98.6" rx="6.5" ry="0.9" transform="rotate(1 562.1 98.6)" fill="#c8c020" opacity="0.50"/>
<ellipse cx="605.6" cy="113.1" rx="7.9" ry="1.8" transform="rotate(12 605.6 113.1)" fill="#a4cc20" opacity="0.86"/>
<ellipse cx="571.0" cy="106.1" rx="3.6" ry="1.8" transform="rotate(2 571.0 106.1)" fill="#a4cc20" opacity="0.55"/>
<ellipse cx="632.8" cy="91.2" rx="4.9" ry="1.5" transform="rotate(7 632.8 91.2)" fill="#2cc878" opacity="0.58"/>
<ellipse cx="560.9" cy="136.4" rx="3.0" ry="1.6" transform="rotate(10 560.9 136.4)" fill="#a4cc20" opacity="0.68"/>
<ellipse cx="562.6" cy="143.9" rx="3.5" ry="1.6" transform="rotate(1 562.6 143.9)" fill="#c8c020" opacity="0.69"/>
<ellipse cx="572.6" cy="70.4" rx="6.2" ry="1.5" transform="rotate(2 572.6 70.4)" fill="#a4cc20" opacity="0.82"/>
<ellipse cx="621.9" cy="103.3" rx="7.5" ry="1.7" transform="rotate(13 621.9 103.3)" fill="#c8c020" opacity="0.89"/>
<ellipse cx="511.4" cy="80.9" rx="4.2" ry="1.4" transform="rotate(7 511.4 80.9)" fill="#c8c020" opacity="0.85"/>
<ellipse cx="588.4" cy="118.7" rx="3.4" ry="1.1" transform="rotate(7 588.4 118.7)" fill="#2cc878" opacity="0.68"/>
<ellipse cx="537.3" cy="96.4" rx="3.3" ry="0.9" transform="rotate(5 537.3 96.4)" fill="#a4cc20" opacity="0.58"/>
<ellipse cx="590.0" cy="97.9" rx="3.7" ry="1.4" transform="rotate(5 590.0 97.9)" fill="#30c868" opacity="0.88"/>
<ellipse cx="601.6" cy="79.4" rx="6.4" ry="1.2" transform="rotate(10 601.6 79.4)" fill="#c8c020" opacity="0.53"/>
<ellipse cx="568.7" cy="107.5" rx="4.1" ry="1.5" transform="rotate(11 568.7 107.5)" fill="#2cc878" opacity="0.70"/>
<ellipse cx="519.4" cy="115.0" rx="7.6" ry="1.0" transform="rotate(3 519.4 115.0)" fill="#c8c020" opacity="0.52"/>
<ellipse cx="504.4" cy="89.5" rx="3.5" ry="1.6" transform="rotate(15 504.4 89.5)" fill="#d0a820" opacity="0.84"/>
<ellipse cx="557.1" cy="85.7" rx="7.3" ry="1.3" transform="rotate(5 557.1 85.7)" fill="#c8c020" opacity="0.58"/>
<ellipse cx="600.5" cy="112.5" rx="7.0" ry="1.6" transform="rotate(3 600.5 112.5)" fill="#88c828" opacity="0.50"/>
<ellipse cx="539.9" cy="127.9" rx="5.4" ry="1.7" transform="rotate(10 539.9 127.9)" fill="#a4cc20" opacity="0.61"/>
<ellipse cx="525.8" cy="78.7" rx="6.4" ry="1.0" transform="rotate(5 525.8 78.7)" fill="#d0a820" opacity="0.77"/>
<ellipse cx="547.3" cy="130.0" rx="4.4" ry="1.1" transform="rotate(9 547.3 130.0)" fill="#2cc878" opacity="0.81"/>
<ellipse cx="544.3" cy="123.3" rx="3.7" ry="1.0" transform="rotate(8 544.3 123.3)" fill="#30c868" opacity="0.59"/>
<ellipse cx="548.7" cy="72.9" rx="5.1" ry="1.6" transform="rotate(15 548.7 72.9)" fill="#d0a820" opacity="0.64"/>
<ellipse cx="539.4" cy="93.9" rx="7.0" ry="1.7" transform="rotate(7 539.4 93.9)" fill="#d0a820" opacity="0.89"/>
<ellipse cx="596.2" cy="78.6" rx="7.8" ry="0.9" transform="rotate(5 596.2 78.6)" fill="#88c828" opacity="0.81"/>
<ellipse cx="576.9" cy="136.3" rx="5.7" ry="1.7" transform="rotate(8 576.9 136.3)" fill="#d0a820" opacity="0.59"/>
<ellipse cx="567.7" cy="146.9" rx="6.6" ry="1.4" transform="rotate(15 567.7 146.9)" fill="#d0a820" opacity="0.83"/>
<ellipse cx="513.4" cy="98.7" rx="4.5" ry="0.8" transform="rotate(6 513.4 98.7)" fill="#88c828" opacity="0.68"/>
<ellipse cx="565.8" cy="144.1" rx="3.9" ry="0.9" transform="rotate(9 565.8 144.1)" fill="#88c828" opacity="0.75"/>
<ellipse cx="616.9" cy="88.2" rx="4.9" ry="1.6" transform="rotate(13 616.9 88.2)" fill="#2cc878" opacity="0.56"/>
<ellipse cx="584.5" cy="69.6" rx="5.0" ry="1.1" transform="rotate(7 584.5 69.6)" fill="#88c828" opacity="0.83"/>
<ellipse cx="583.0" cy="97.8" rx="5.6" ry="1.3" transform="rotate(4 583.0 97.8)" fill="#c8c020" opacity="0.75"/>
<ellipse cx="587.1" cy="126.3" rx="3.1" ry="1.0" transform="rotate(1 587.1 126.3)" fill="#2cc878" opacity="0.69"/>
<ellipse cx="567.5" cy="138.7" rx="7.3" ry="1.0" transform="rotate(11 567.5 138.7)" fill="#c8c020" opacity="0.62"/>
<ellipse cx="512.1" cy="93.4" rx="6.2" ry="1.7" transform="rotate(6 512.1 93.4)" fill="#d0a820" opacity="0.64"/>
<ellipse cx="539.6" cy="113.7" rx="6.4" ry="0.9" transform="rotate(15 539.6 113.7)" fill="#a4cc20" opacity="0.52"/>
<ellipse cx="544.9" cy="59.1" rx="6.5" ry="1.2" transform="rotate(8 544.9 59.1)" fill="#d0a820" opacity="0.86"/>
<ellipse cx="518.3" cy="77.6" rx="5.1" ry="1.0" transform="rotate(4 518.3 77.6)" fill="#88c828" opacity="0.70"/>
<ellipse cx="579.5" cy="119.8" rx="6.3" ry="1.7" transform="rotate(5 579.5 119.8)" fill="#2cc878" opacity="0.71"/>
<ellipse cx="526.6" cy="104.8" rx="5.7" ry="1.1" transform="rotate(4 526.6 104.8)" fill="#30c868" opacity="0.82"/>
<ellipse cx="581.4" cy="85.4" rx="3.5" ry="1.7" transform="rotate(12 581.4 85.4)" fill="#d0a820" opacity="0.76"/>
<ellipse cx="542.4" cy="96.4" rx="4.9" ry="1.8" transform="rotate(12 542.4 96.4)" fill="#2cc878" opacity="0.88"/>
<ellipse cx="544.2" cy="73.4" rx="7.0" ry="1.4" transform="rotate(6 544.2 73.4)" fill="#a4cc20" opacity="0.62"/>
<ellipse cx="505.6" cy="82.1" rx="4.0" ry="1.4" transform="rotate(15 505.6 82.1)" fill="#30c868" opacity="0.57"/>
<ellipse cx="503.9" cy="78.2" rx="3.0" ry="0.9" transform="rotate(9 503.9 78.2)" fill="#88c828" opacity="0.68"/>
<ellipse cx="526.5" cy="74.6" rx="6.5" ry="1.7" transform="rotate(15 526.5 74.6)" fill="#a4cc20" opacity="0.71"/>
<ellipse cx="547.3" cy="120.6" rx="6.7" ry="1.7" transform="rotate(3 547.3 120.6)" fill="#30c868" opacity="0.61"/>
<ellipse cx="602.6" cy="91.3" rx="5.5" ry="1.8" transform="rotate(15 602.6 91.3)" fill="#2cc878" opacity="0.81"/>
<ellipse cx="563.7" cy="89.2" rx="6.2" ry="1.3" transform="rotate(1 563.7 89.2)" fill="#30c868" opacity="0.80"/>
<ellipse cx="577.1" cy="121.0" rx="7.0" ry="1.0" transform="rotate(14 577.1 121.0)" fill="#2cc878" opacity="0.56"/>
<ellipse cx="587.4" cy="93.0" rx="5.7" ry="1.7" transform="rotate(9 587.4 93.0)" fill="#a4cc20" opacity="0.78"/>
<ellipse cx="561.0" cy="88.3" rx="7.3" ry="1.4" transform="rotate(4 561.0 88.3)" fill="#2cc878" opacity="0.57"/>
<ellipse cx="546.4" cy="57.5" rx="5.6" ry="1.2" transform="rotate(8 546.4 57.5)" fill="#c8c020" opacity="0.63"/>
<ellipse cx="547.2" cy="71.2" rx="4.6" ry="1.5" transform="rotate(5 547.2 71.2)" fill="#a4cc20" opacity="0.85"/>
<ellipse cx="560.2" cy="78.1" rx="7.5" ry="1.8" transform="rotate(4 560.2 78.1)" fill="#a4cc20" opacity="0.74"/>
<ellipse cx="554.4" cy="133.0" rx="5.1" ry="1.3" transform="rotate(12 554.4 133.0)" fill="#30c868" opacity="0.70"/>
<ellipse cx="576.8" cy="138.6" rx="6.4" ry="0.9" transform="rotate(1 576.8 138.6)" fill="#a4cc20" opacity="0.81"/>
<ellipse cx="575.5" cy="125.0" rx="5.4" ry="1.1" transform="rotate(1 575.5 125.0)" fill="#d0a820" opacity="0.57"/>
<ellipse cx="571.2" cy="124.3" rx="7.9" ry="0.9" transform="rotate(13 571.2 124.3)" fill="#88c828" opacity="0.60"/>
<ellipse cx="468.4" cy="49.3" rx="8.5" ry="2.7" transform="rotate(11 468.4 49.3)" fill="#2cdcd0"/>
<ellipse cx="468.7" cy="49.8" rx="6.8" ry="1.3" transform="rotate(11 468.7 49.8)" fill="#2c58f0"/>
<ellipse cx="495.2" cy="52.3" rx="8.5" ry="2.7" transform="rotate(7 495.2 52.3)" fill="#2cdcd0"/>
<ellipse cx="495.5" cy="52.8" rx="6.8" ry="1.3" transform="rotate(7 495.5 52.8)" fill="#2c58f0"/>
<ellipse cx="520.1" cy="55.1" rx="8.5" ry="2.7" transform="rotate(9 520.1 55.1)" fill="#2cdcd0"/>
<ellipse cx="520.4" cy="55.6" rx="6.8" ry="1.3" transform="rotate(9 520.4 55.6)" fill="#2c58f0"/>
<ellipse cx="520.9" cy="55.8" rx="3.4" ry="0.7" transform="rotate(9 520.9 55.8)" fill="#c828c8"/>
<ellipse cx="548.7" cy="59.4" rx="8.5" ry="2.7" transform="rotate(5 548.7 59.4)" fill="#2cdcd0"/>
<ellipse cx="549.0" cy="59.9" rx="6.8" ry="1.3" transform="rotate(5 549.0 59.9)" fill="#2c58f0"/>
<ellipse cx="549.5" cy="60.1" rx="3.4" ry="0.7" transform="rotate(5 549.5 60.1)" fill="#c828c8"/>
<ellipse cx="572.9" cy="61.6" rx="8.5" ry="2.7" transform="rotate(7 572.9 61.6)" fill="#2cdcd0"/>
<ellipse cx="573.2" cy="62.1" rx="6.8" ry="1.3" transform="rotate(7 573.2 62.1)" fill="#2c58f0"/>
<ellipse cx="599.5" cy="65.4" rx="8.5" ry="2.7" transform="rotate(8 599.5 65.4)" fill="#2cdcd0"/>
<ellipse cx="599.8" cy="65.9" rx="6.8" ry="1.3" transform="rotate(8 599.8 65.9)" fill="#2c58f0"/>
<ellipse cx="622.5" cy="68.7" rx="8.5" ry="2.7" transform="rotate(10 622.5 68.7)" fill="#2cdcd0"/>
<ellipse cx="622.8" cy="69.2" rx="6.8" ry="1.3" transform="rotate(10 622.8 69.2)" fill="#2c58f0"/>
<ellipse cx="623.3" cy="69.4" rx="3.4" ry="0.7" transform="rotate(10 623.3 69.4)" fill="#c828c8"/>
<ellipse cx="651.5" cy="71.5" rx="8.5" ry="2.7" transform="rotate(5 651.5 71.5)" fill="#2cdcd0"/>
<ellipse cx="651.8" cy="72.0" rx="6.8" ry="1.3" transform="rotate(5 651.8 72.0)" fill="#2c58f0"/>
<ellipse cx="652.3" cy="72.2" rx="3.4" ry="0.7" transform="rotate(5 652.3 72.2)" fill="#c828c8"/>
<ellipse cx="482.9" cy="59.2" rx="9.2" ry="2.9" transform="rotate(7 482.9 59.2)" fill="#2cdcd0"/>
<ellipse cx="483.2" cy="59.7" rx="7.3" ry="1.4" transform="rotate(7 483.2 59.7)" fill="#2c58f0"/>
<ellipse cx="512.3" cy="63.6" rx="9.2" ry="2.9" transform="rotate(6 512.3 63.6)" fill="#2cdcd0"/>
<ellipse cx="512.6" cy="64.1" rx="7.3" ry="1.4" transform="rotate(6 512.6 64.1)" fill="#2c58f0"/>
<ellipse cx="536.3" cy="66.0" rx="9.2" ry="2.9" transform="rotate(10 536.3 66.0)" fill="#2cdcd0"/>
<ellipse cx="536.6" cy="66.5" rx="7.3" ry="1.4" transform="rotate(10 536.6 66.5)" fill="#2c58f0"/>
<ellipse cx="537.1" cy="66.7" rx="3.7" ry="0.7" transform="rotate(10 537.1 66.7)" fill="#c828c8"/>
<ellipse cx="563.4" cy="71.0" rx="9.2" ry="2.9" transform="rotate(5 563.4 71.0)" fill="#2cdcd0"/>
<ellipse cx="563.7" cy="71.5" rx="7.3" ry="1.4" transform="rotate(5 563.7 71.5)" fill="#2c58f0"/>
<ellipse cx="564.2" cy="71.7" rx="3.7" ry="0.7" transform="rotate(5 564.2 71.7)" fill="#c828c8"/>
<ellipse cx="590.4" cy="74.7" rx="9.2" ry="2.9" transform="rotate(9 590.4 74.7)" fill="#2cdcd0"/>
<ellipse cx="590.7" cy="75.2" rx="7.3" ry="1.4" transform="rotate(9 590.7 75.2)" fill="#2c58f0"/>
<ellipse cx="591.2" cy="75.4" rx="3.7" ry="0.7" transform="rotate(9 591.2 75.4)" fill="#c828c8"/>
<ellipse cx="617.2" cy="78.2" rx="9.2" ry="2.9" transform="rotate(5 617.2 78.2)" fill="#2cdcd0"/>
<ellipse cx="617.5" cy="78.7" rx="7.3" ry="1.4" transform="rotate(5 617.5 78.7)" fill="#2c58f0"/>
<ellipse cx="646.8" cy="81.1" rx="9.2" ry="2.9" transform="rotate(7 646.8 81.1)" fill="#2cdcd0"/>
<ellipse cx="647.1" cy="81.6" rx="7.3" ry="1.4" transform="rotate(7 647.1 81.6)" fill="#2c58f0"/>
<ellipse cx="647.6" cy="81.8" rx="3.7" ry="0.7" transform="rotate(7 647.6 81.8)" fill="#c828c8"/>
<ellipse cx="469.7" cy="66.8" rx="9.9" ry="3.2" transform="rotate(7 469.7 66.8)" fill="#2cdcd0"/>
<ellipse cx="470.0" cy="67.3" rx="7.9" ry="1.5" transform="rotate(7 470.0 67.3)" fill="#2c58f0"/>
<ellipse cx="470.5" cy="67.5" rx="3.9" ry="0.8" transform="rotate(7 470.5 67.5)" fill="#c828c8"/>
<ellipse cx="497.1" cy="72.0" rx="9.9" ry="3.2" transform="rotate(8 497.1 72.0)" fill="#2cdcd0"/>
<ellipse cx="497.4" cy="72.5" rx="7.9" ry="1.5" transform="rotate(8 497.4 72.5)" fill="#2c58f0"/>
<ellipse cx="526.8" cy="73.9" rx="9.9" ry="3.2" transform="rotate(9 526.8 73.9)" fill="#2cdcd0"/>
<ellipse cx="527.1" cy="74.4" rx="7.9" ry="1.5" transform="rotate(9 527.1 74.4)" fill="#2c58f0"/>
<ellipse cx="555.7" cy="78.7" rx="9.9" ry="3.2" transform="rotate(10 555.7 78.7)" fill="#2cdcd0"/>
<ellipse cx="556.0" cy="79.2" rx="7.9" ry="1.5" transform="rotate(10 556.0 79.2)" fill="#2c58f0"/>
<ellipse cx="582.4" cy="81.7" rx="9.9" ry="3.2" transform="rotate(6 582.4 81.7)" fill="#2cdcd0"/>
<ellipse cx="582.7" cy="82.2" rx="7.9" ry="1.5" transform="rotate(6 582.7 82.2)" fill="#2c58f0"/>
<ellipse cx="583.2" cy="82.4" rx="3.9" ry="0.8" transform="rotate(6 583.2 82.4)" fill="#c828c8"/>
<ellipse cx="610.7" cy="85.2" rx="9.9" ry="3.2" transform="rotate(4 610.7 85.2)" fill="#2cdcd0"/>
<ellipse cx="611.0" cy="85.7" rx="7.9" ry="1.5" transform="rotate(4 611.0 85.7)" fill="#2c58f0"/>
<ellipse cx="611.5" cy="85.9" rx="3.9" ry="0.8" transform="rotate(4 611.5 85.9)" fill="#c828c8"/>
<ellipse cx="638.4" cy="89.7" rx="9.9" ry="3.2" transform="rotate(10 638.4 89.7)" fill="#2cdcd0"/>
<ellipse cx="638.7" cy="90.2" rx="7.9" ry="1.5" transform="rotate(10 638.7 90.2)" fill="#2c58f0"/>
<ellipse cx="484.1" cy="78.8" rx="10.6" ry="3.4" transform="rotate(10 484.1 78.8)" fill="#2cdcd0"/>
<ellipse cx="484.4" cy="79.3" rx="8.5" ry="1.6" transform="rotate(10 484.4 79.3)" fill="#2c58f0"/>
<ellipse cx="513.4" cy="83.2" rx="10.6" ry="3.4" transform="rotate(11 513.4 83.2)" fill="#2cdcd0"/>
<ellipse cx="513.7" cy="83.7" rx="8.5" ry="1.6" transform="rotate(11 513.7 83.7)" fill="#2c58f0"/>
<ellipse cx="514.2" cy="83.9" rx="4.2" ry="0.8" transform="rotate(11 514.2 83.9)" fill="#c828c8"/>
<ellipse cx="544.9" cy="86.7" rx="10.6" ry="3.4" transform="rotate(5 544.9 86.7)" fill="#2cdcd0"/>
<ellipse cx="545.2" cy="87.2" rx="8.5" ry="1.6" transform="rotate(5 545.2 87.2)" fill="#2c58f0"/>
<ellipse cx="545.7" cy="87.4" rx="4.2" ry="0.8" transform="rotate(5 545.7 87.4)" fill="#c828c8"/>
<ellipse cx="571.5" cy="91.8" rx="10.6" ry="3.4" transform="rotate(5 571.5 91.8)" fill="#2cdcd0"/>
<ellipse cx="571.8" cy="92.3" rx="8.5" ry="1.6" transform="rotate(5 571.8 92.3)" fill="#2c58f0"/>
<ellipse cx="602.5" cy="94.8" rx="10.6" ry="3.4" transform="rotate(10 602.5 94.8)" fill="#2cdcd0"/>
<ellipse cx="602.8" cy="95.3" rx="8.5" ry="1.6" transform="rotate(10 602.8 95.3)" fill="#2c58f0"/>
<ellipse cx="603.3" cy="95.5" rx="4.2" ry="0.8" transform="rotate(10 603.3 95.5)" fill="#c828c8"/>
<ellipse cx="632.5" cy="99.5" rx="10.6" ry="3.4" transform="rotate(5 632.5 99.5)" fill="#2cdcd0"/>
<ellipse cx="632.8" cy="100.0" rx="8.5" ry="1.6" transform="rotate(5 632.8 100.0)" fill="#2c58f0"/>
<ellipse cx="633.3" cy="100.2" rx="4.2" ry="0.8" transform="rotate(5 633.3 100.2)" fill="#c828c8"/>
<ellipse cx="472.2" cy="89.0" rx="11.4" ry="3.6" transform="rotate(9 472.2 89.0)" fill="#2cdcd0"/>
<ellipse cx="472.5" cy="89.5" rx="9.1" ry="1.7" transform="rotate(9 472.5 89.5)" fill="#2c58f0"/>
<ellipse cx="504.1" cy="92.7" rx="11.4" ry="3.6" transform="rotate(5 504.1 92.7)" fill="#2cdcd0"/>
<ellipse cx="504.4" cy="93.2" rx="9.1" ry="1.7" transform="rotate(5 504.4 93.2)" fill="#2c58f0"/>
<ellipse cx="533.7" cy="97.1" rx="11.4" ry="3.6" transform="rotate(6 533.7 97.1)" fill="#2cdcd0"/>
<ellipse cx="534.0" cy="97.6" rx="9.1" ry="1.7" transform="rotate(6 534.0 97.6)" fill="#2c58f0"/>
<ellipse cx="534.5" cy="97.8" rx="4.5" ry="0.9" transform="rotate(6 534.5 97.8)" fill="#c828c8"/>
<ellipse cx="564.4" cy="100.1" rx="11.4" ry="3.6" transform="rotate(9 564.4 100.1)" fill="#2cdcd0"/>
<ellipse cx="564.7" cy="100.6" rx="9.1" ry="1.7" transform="rotate(9 564.7 100.6)" fill="#2c58f0"/>
<ellipse cx="597.4" cy="104.6" rx="11.4" ry="3.6" transform="rotate(9 597.4 104.6)" fill="#2cdcd0"/>
<ellipse cx="597.7" cy="105.1" rx="9.1" ry="1.7" transform="rotate(9 597.7 105.1)" fill="#2c58f0"/>
<ellipse cx="598.2" cy="105.3" rx="4.5" ry="0.9" transform="rotate(9 598.2 105.3)" fill="#c828c8"/>
<ellipse cx="628.9" cy="108.4" rx="11.4" ry="3.6" transform="rotate(11 628.9 108.4)" fill="#2cdcd0"/>
<ellipse cx="629.2" cy="108.9" rx="9.1" ry="1.7" transform="rotate(11 629.2 108.9)" fill="#2c58f0"/>
<ellipse cx="629.7" cy="109.1" rx="4.5" ry="0.9" transform="rotate(11 629.7 109.1)" fill="#c828c8"/>
<ellipse cx="485.4" cy="101.7" rx="12.2" ry="3.9" transform="rotate(7 485.4 101.7)" fill="#2cdcd0"/>
<ellipse cx="485.7" cy="102.2" rx="9.7" ry="1.8" transform="rotate(7 485.7 102.2)" fill="#2c58f0"/>
<ellipse cx="486.2" cy="102.4" rx="4.9" ry="1.0" transform="rotate(7 486.2 102.4)" fill="#c828c8"/>
<ellipse cx="520.8" cy="105.8" rx="12.2" ry="3.9" transform="rotate(8 520.8 105.8)" fill="#2cdcd0"/>
<ellipse cx="521.1" cy="106.3" rx="9.7" ry="1.8" transform="rotate(8 521.1 106.3)" fill="#2c58f0"/>
<ellipse cx="551.7" cy="111.1" rx="12.2" ry="3.9" transform="rotate(4 551.7 111.1)" fill="#2cdcd0"/>
<ellipse cx="552.0" cy="111.6" rx="9.7" ry="1.8" transform="rotate(4 552.0 111.6)" fill="#2c58f0"/>
<ellipse cx="552.5" cy="111.8" rx="4.9" ry="1.0" transform="rotate(4 552.5 111.8)" fill="#c828c8"/>
<ellipse cx="587.8" cy="114.0" rx="12.2" ry="3.9" transform="rotate(6 587.8 114.0)" fill="#2cdcd0"/>
<ellipse cx="588.1" cy="114.5" rx="9.7" ry="1.8" transform="rotate(6 588.1 114.5)" fill="#2c58f0"/>
<ellipse cx="588.6" cy="114.7" rx="4.9" ry="1.0" transform="rotate(6 588.6 114.7)" fill="#c828c8"/>
<ellipse cx="621.5" cy="120.0" rx="12.2" ry="3.9" transform="rotate(6 621.5 120.0)" fill="#2cdcd0"/>
<ellipse cx="621.8" cy="120.5" rx="9.7" ry="1.8" transform="rotate(6 621.8 120.5)" fill="#2c58f0"/>
<ellipse cx="471.4" cy="111.3" rx="13.0" ry="4.2" transform="rotate(5 471.4 111.3)" fill="#2cdcd0"/>
<ellipse cx="471.7" cy="111.8" rx="10.4" ry="2.0" transform="rotate(5 471.7 111.8)" fill="#2c58f0"/>
<ellipse cx="472.2" cy="112.0" rx="5.2" ry="1.0" transform="rotate(5 472.2 112.0)" fill="#c828c8"/>
<ellipse cx="504.6" cy="115.3" rx="13.0" ry="4.2" transform="rotate(9 504.6 115.3)" fill="#2cdcd0"/>
<ellipse cx="504.9" cy="115.8" rx="10.4" ry="2.0" transform="rotate(9 504.9 115.8)" fill="#2c58f0"/>
<ellipse cx="539.7" cy="121.6" rx="13.0" ry="4.2" transform="rotate(11 539.7 121.6)" fill="#2cdcd0"/>
<ellipse cx="540.0" cy="122.1" rx="10.4" ry="2.0" transform="rotate(11 540.0 122.1)" fill="#2c58f0"/>
<ellipse cx="540.5" cy="122.3" rx="5.2" ry="1.0" transform="rotate(11 540.5 122.3)" fill="#c828c8"/>
<ellipse cx="576.0" cy="126.1" rx="13.0" ry="4.2" transform="rotate(9 576.0 126.1)" fill="#2cdcd0"/>
<ellipse cx="576.3" cy="126.6" rx="10.4" ry="2.0" transform="rotate(9 576.3 126.6)" fill="#2c58f0"/>
<ellipse cx="610.3" cy="130.3" rx="13.0" ry="4.2" transform="rotate(7 610.3 130.3)" fill="#2cdcd0"/>
<ellipse cx="610.6" cy="130.8" rx="10.4" ry="2.0" transform="rotate(7 610.6 130.8)" fill="#2c58f0"/>
<ellipse cx="611.1" cy="131.0" rx="5.2" ry="1.0" transform="rotate(7 611.1 131.0)" fill="#c828c8"/>
<ellipse cx="644.8" cy="134.0" rx="13.0" ry="4.2" transform="rotate(6 644.8 134.0)" fill="#2cdcd0"/>
<ellipse cx="645.1" cy="134.5" rx="10.4" ry="2.0" transform="rotate(6 645.1 134.5)" fill="#2c58f0"/>
<ellipse cx="645.6" cy="134.7" rx="5.2" ry="1.0" transform="rotate(6 645.6 134.7)" fill="#c828c8"/>
<ellipse cx="489.7" cy="126.0" rx="13.9" ry="4.4" transform="rotate(5 489.7 126.0)" fill="#2cdcd0"/>
<ellipse cx="490.0" cy="126.5" rx="11.1" ry="2.1" transform="rotate(5 490.0 126.5)" fill="#2c58f0"/>
<ellipse cx="490.5" cy="126.7" rx="5.6" ry="1.1" transform="rotate(5 490.5 126.7)" fill="#c828c8"/>
<ellipse cx="526.7" cy="131.2" rx="13.9" ry="4.4" transform="rotate(5 526.7 131.2)" fill="#2cdcd0"/>
<ellipse cx="527.0" cy="131.7" rx="11.1" ry="2.1" transform="rotate(5 527.0 131.7)" fill="#2c58f0"/>
<ellipse cx="527.5" cy="131.9" rx="5.6" ry="1.1" transform="rotate(5 527.5 131.9)" fill="#c828c8"/>
<ellipse cx="563.3" cy="135.2" rx="13.9" ry="4.4" transform="rotate(7 563.3 135.2)" fill="#2cdcd0"/>
<ellipse cx="563.6" cy="135.7" rx="11.1" ry="2.1" transform="rotate(7 563.6 135.7)" fill="#2c58f0"/>
<ellipse cx="564.1" cy="135.9" rx="5.6" ry="1.1" transform="rotate(7 564.1 135.9)" fill="#c828c8"/>
<ellipse cx="599.6" cy="141.5" rx="13.9" ry="4.4" transform="rotate(7 599.6 141.5)" fill="#2cdcd0"/>
<ellipse cx="599.9" cy="142.0" rx="11.1" ry="2.1" transform="rotate(7 599.9 142.0)" fill="#2c58f0"/>
<ellipse cx="600.4" cy="142.2" rx="5.6" ry="1.1" transform="rotate(7 600.4 142.2)" fill="#c828c8"/>
<ellipse cx="638.0" cy="146.2" rx="13.9" ry="4.4" transform="rotate(8 638.0 146.2)" fill="#2cdcd0"/>
<ellipse cx="638.3" cy="146.7" rx="11.1" ry="2.1" transform="rotate(8 638.3 146.7)" fill="#2c58f0"/>
<ellipse cx="470.2" cy="138.1" rx="14.8" ry="4.8" transform="rotate(4 470.2 138.1)" fill="#2cdcd0"/>
<ellipse cx="470.5" cy="138.6" rx="11.9" ry="2.3" transform="rotate(4 470.5 138.6)" fill="#2c58f0"/>
<ellipse cx="471.0" cy="138.8" rx="5.9" ry="1.2" transform="rotate(4 471.0 138.8)" fill="#c828c8"/>
<ellipse cx="508.2" cy="142.0" rx="14.8" ry="4.8" transform="rotate(6 508.2 142.0)" fill="#2cdcd0"/>
<ellipse cx="508.5" cy="142.5" rx="11.9" ry="2.3" transform="rotate(6 508.5 142.5)" fill="#2c58f0"/>
<ellipse cx="509.0" cy="142.7" rx="5.9" ry="1.2" transform="rotate(6 509.0 142.7)" fill="#c828c8"/>
<ellipse cx="549.2" cy="147.0" rx="14.8" ry="4.8" transform="rotate(7 549.2 147.0)" fill="#2cdcd0"/>
<ellipse cx="549.5" cy="147.5" rx="11.9" ry="2.3" transform="rotate(7 549.5 147.5)" fill="#2c58f0"/>
<ellipse cx="589.2" cy="153.3" rx="14.8" ry="4.8" transform="rotate(7 589.2 153.3)" fill="#2cdcd0"/>
<ellipse cx="589.5" cy="153.8" rx="11.9" ry="2.3" transform="rotate(7 589.5 153.8)" fill="#2c58f0"/>
<ellipse cx="590.0" cy="154.0" rx="5.9" ry="1.2" transform="rotate(7 590.0 154.0)" fill="#c828c8"/>
<ellipse cx="628.4" cy="158.1" rx="14.8" ry="4.8" transform="rotate(10 628.4 158.1)" fill="#2cdcd0"/>
<ellipse cx="628.7" cy="158.6" rx="11.9" ry="2.3" transform="rotate(10 628.7 158.6)" fill="#2c58f0"/>
<ellipse cx="629.2" cy="158.8" rx="5.9" ry="1.2" transform="rotate(10 629.2 158.8)" fill="#c828c8"/>
</g></g>
<line x1="502.9" y1="98.4" x2="508.5" y2="78.2" stroke="#fff" stroke-width="1.6" stroke-linecap="square"/>
<polygon points="509.8,73.4 510.8,78.9 506.2,77.6" fill="#fff"/>
<line x1="502.9" y1="98.4" x2="521.7" y2="105.1" stroke="#fff" stroke-width="1.6" stroke-linecap="square"/>
<polygon points="526.4,106.8 520.9,107.4 522.5,102.9" fill="#fff"/>
<text transform="translate(511.6 85.4) rotate(100)" x="0" y="2.6" font-family="Liberation Sans, sans-serif" font-weight="bold" font-size="7.2" fill="#fff" text-anchor="middle">CD</text>
<text transform="translate(517.2 99.4) rotate(20)" x="0" y="2.6" font-family="Liberation Sans, sans-serif" font-weight="bold" font-size="7.2" fill="#fff" text-anchor="middle">MD</text>
<text x="597.9" y="144.5" font-family="Liberation Serif, serif" font-size="10.6" fill="#ececec" textLength="36.8" lengthAdjust="spacingAndGlyphs">Textured</text>
<rect x="39.5" y="250.5" width="109.6" height="80.4" fill="#fff" stroke="#4a4a4a" stroke-width="1"/>
<line x1="41.6" y1="258.10" x2="64.6" y2="258.10" stroke="#ff1010" stroke-width="1.7"/>
<text class="sf" x="67" y="261.40" font-size="10" textLength="78.8" lengthAdjust="spacingAndGlyphs" stroke="#000" stroke-width="0.12">Dry-crepe 5x CD</text>
<line x1="41.6" y1="270.96" x2="64.6" y2="270.96" stroke="#ff1010" stroke-width="1.7" stroke-dasharray="4.7 1.3 1.6 1.3"/>
<text class="sf" x="67" y="274.26" font-size="10" textLength="80.6" lengthAdjust="spacingAndGlyphs" stroke="#000" stroke-width="0.12">Dry-crepe 5x MD</text>
<line x1="41.6" y1="283.82" x2="64.6" y2="283.82" stroke="#128a12" stroke-width="1.7"/>
<text class="sf" x="67" y="287.12" font-size="10" textLength="55.9" lengthAdjust="spacingAndGlyphs" stroke="#000" stroke-width="0.12">TAD 5x CD</text>
<line x1="41.6" y1="296.68" x2="64.6" y2="296.68" stroke="#128a12" stroke-width="1.7" stroke-dasharray="4.7 1.3 1.6 1.3"/>
<text class="sf" x="67" y="299.98" font-size="10" textLength="57.8" lengthAdjust="spacingAndGlyphs" stroke="#000" stroke-width="0.12">TAD 5x MD</text>
<line x1="41.6" y1="309.54" x2="64.6" y2="309.54" stroke="#1414ff" stroke-width="1.7"/>
<text class="sf" x="67" y="312.84" font-size="10" textLength="74.2" lengthAdjust="spacingAndGlyphs" stroke="#000" stroke-width="0.12">Textured 5x CD</text>
<line x1="41.6" y1="322.40" x2="64.6" y2="322.40" stroke="#1414ff" stroke-width="1.7" stroke-dasharray="4.7 1.3 1.6 1.3"/>
<text class="sf" x="67" y="325.70" font-size="10" textLength="76.1" lengthAdjust="spacingAndGlyphs" stroke="#000" stroke-width="0.12">Textured 5x MD</text>
</svg>
</body></html>
